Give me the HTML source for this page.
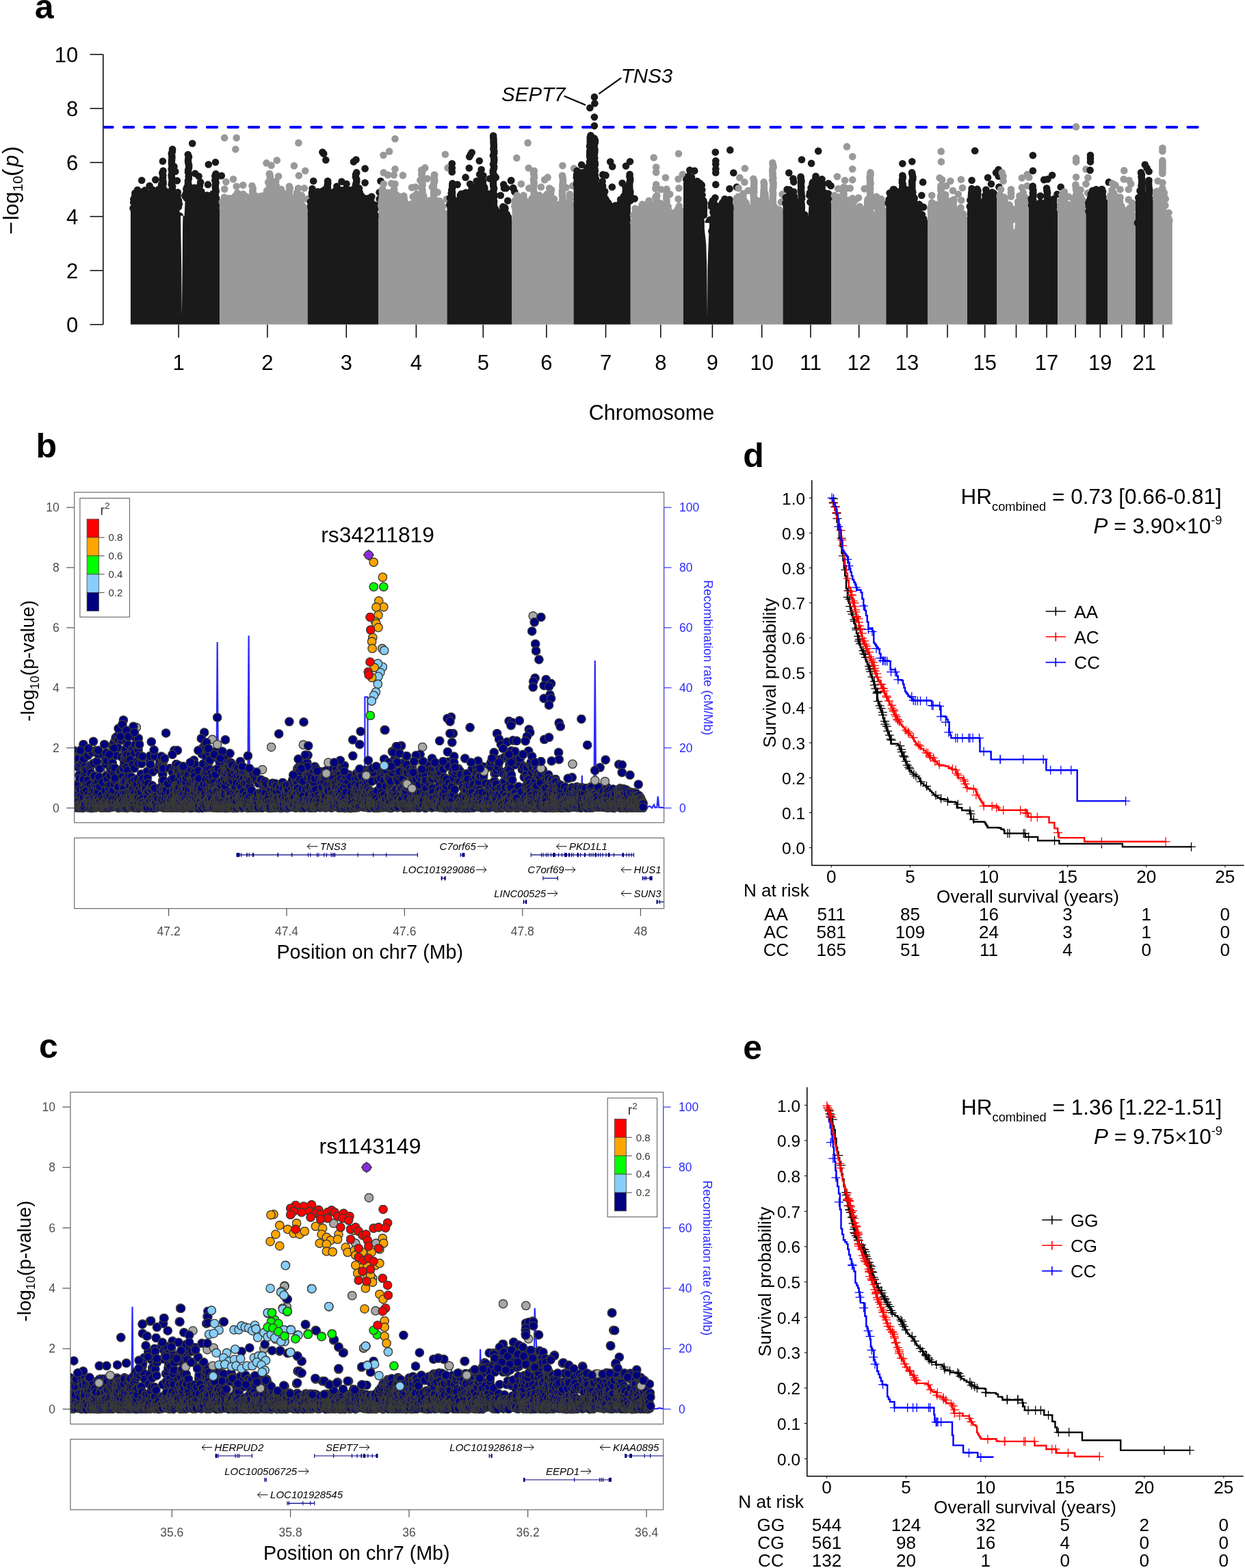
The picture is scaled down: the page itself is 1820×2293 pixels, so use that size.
<!DOCTYPE html>
<html lang="en"><head><meta charset="utf-8"><title>Figure: GWAS Manhattan plot, regional association plots and survival curves</title>
<style>html,body{margin:0;padding:0;background:#fff}svg{display:block}text{font-family:"Liberation Sans",sans-serif}</style></head><body>
<svg width="1820" height="2293" viewBox="0 0 1820 2293">
<rect width="1820" height="2293" fill="#fff"/>
<defs>
<marker id="md" markerUnits="userSpaceOnUse" markerWidth="12" markerHeight="12" refX="6" refY="6"><circle cx="6" cy="6" r="5.3" fill="#1a1a1a"/></marker>
<marker id="mg" markerUnits="userSpaceOnUse" markerWidth="12" markerHeight="12" refX="6" refY="6"><circle cx="6" cy="6" r="5.3" fill="#999999"/></marker>
<marker id="bnavy" markerUnits="userSpaceOnUse" markerWidth="14" markerHeight="14" refX="7" refY="7"><circle cx="7" cy="7" r="6.2" fill="#000080" stroke="#3a3a36" stroke-width="1.35"/></marker>
<marker id="blblue" markerUnits="userSpaceOnUse" markerWidth="14" markerHeight="14" refX="7" refY="7"><circle cx="7" cy="7" r="6.2" fill="#87cefa" stroke="#3a3a36" stroke-width="1.35"/></marker>
<marker id="bgreen" markerUnits="userSpaceOnUse" markerWidth="14" markerHeight="14" refX="7" refY="7"><circle cx="7" cy="7" r="6.2" fill="#00ff00" stroke="#3a3a36" stroke-width="1.35"/></marker>
<marker id="borange" markerUnits="userSpaceOnUse" markerWidth="14" markerHeight="14" refX="7" refY="7"><circle cx="7" cy="7" r="6.2" fill="#ffa500" stroke="#3a3a36" stroke-width="1.35"/></marker>
<marker id="bred" markerUnits="userSpaceOnUse" markerWidth="14" markerHeight="14" refX="7" refY="7"><circle cx="7" cy="7" r="6.2" fill="#ff0000" stroke="#3a3a36" stroke-width="1.35"/></marker>
<marker id="bgrey" markerUnits="userSpaceOnUse" markerWidth="14" markerHeight="14" refX="7" refY="7"><circle cx="7" cy="7" r="6.2" fill="#a8a8a8" stroke="#3a3a36" stroke-width="1.35"/></marker>
<marker id="cnavy" markerUnits="userSpaceOnUse" markerWidth="14" markerHeight="14" refX="7" refY="7"><circle cx="7" cy="7" r="6.2" fill="#000080" stroke="#3a3a36" stroke-width="1.35"/></marker>
<marker id="clblue" markerUnits="userSpaceOnUse" markerWidth="14" markerHeight="14" refX="7" refY="7"><circle cx="7" cy="7" r="6.2" fill="#87cefa" stroke="#3a3a36" stroke-width="1.35"/></marker>
<marker id="cgreen" markerUnits="userSpaceOnUse" markerWidth="14" markerHeight="14" refX="7" refY="7"><circle cx="7" cy="7" r="6.2" fill="#00ff00" stroke="#3a3a36" stroke-width="1.35"/></marker>
<marker id="corange" markerUnits="userSpaceOnUse" markerWidth="14" markerHeight="14" refX="7" refY="7"><circle cx="7" cy="7" r="6.2" fill="#ffa500" stroke="#3a3a36" stroke-width="1.35"/></marker>
<marker id="cred" markerUnits="userSpaceOnUse" markerWidth="14" markerHeight="14" refX="7" refY="7"><circle cx="7" cy="7" r="6.2" fill="#ff0000" stroke="#3a3a36" stroke-width="1.35"/></marker>
<marker id="cgrey" markerUnits="userSpaceOnUse" markerWidth="14" markerHeight="14" refX="7" refY="7"><circle cx="7" cy="7" r="6.2" fill="#a8a8a8" stroke="#3a3a36" stroke-width="1.35"/></marker>
<marker id="pbl" markerUnits="userSpaceOnUse" markerWidth="14" markerHeight="14" refX="7" refY="7"><path d="M0.5 7h13M7 0.5v13" stroke="#000" stroke-width="1.25" fill="none"/></marker>
<marker id="pre" markerUnits="userSpaceOnUse" markerWidth="14" markerHeight="14" refX="7" refY="7"><path d="M0.5 7h13M7 0.5v13" stroke="#ff0000" stroke-width="1.25" fill="none"/></marker>
<marker id="pbu" markerUnits="userSpaceOnUse" markerWidth="14" markerHeight="14" refX="7" refY="7"><path d="M0.5 7h13M7 0.5v13" stroke="#0000ff" stroke-width="1.25" fill="none"/></marker>
</defs>
<text x="50.8" y="27.4" font-size="50" font-weight="bold">a</text>
<text x="52.6" y="669.3" font-size="50" font-weight="bold">b</text>
<text x="56.9" y="1547.3" font-size="50" font-weight="bold">c</text>
<text x="1086.3" y="682.9" font-size="50" font-weight="bold">d</text>
<text x="1086.3" y="1548.8" font-size="50" font-weight="bold">e</text>
<g id="manhattan">
<g stroke="#000" stroke-width="1.5" fill="none">
<path d="M150.8 79.6V474.6"/>
<path d="M131.5 474.6H150.8"/>
<path d="M131.5 395.6H150.8"/>
<path d="M131.5 316.6H150.8"/>
<path d="M131.5 237.6H150.8"/>
<path d="M131.5 158.6H150.8"/>
<path d="M131.5 79.6H150.8"/>
<path d="M261.1 474.6V493.8"/>
<path d="M390.9 474.6V493.8"/>
<path d="M506.3 474.6V493.8"/>
<path d="M608.4 474.6V493.8"/>
<path d="M706.3 474.6V493.8"/>
<path d="M798.9 474.6V493.8"/>
<path d="M885.5 474.6V493.8"/>
<path d="M965.8 474.6V493.8"/>
<path d="M1041.4 474.6V493.8"/>
<path d="M1113.7 474.6V493.8"/>
<path d="M1185 474.6V493.8"/>
<path d="M1255.7 474.6V493.8"/>
<path d="M1325.9 474.6V493.8"/>
<path d="M1385 474.6V493.8"/>
<path d="M1439.7 474.6V493.8"/>
<path d="M1485.5 474.6V493.8"/>
<path d="M1530.1 474.6V493.8"/>
<path d="M1572.2 474.6V493.8"/>
<path d="M1608.3 474.6V493.8"/>
<path d="M1639.7 474.6V493.8"/>
<path d="M1672.7 474.6V493.8"/>
<path d="M1700.3 474.6V493.8"/>
</g>
<text x="114.3" y="486.2" font-size="31" text-anchor="end">0</text>
<text x="114.3" y="407.2" font-size="31" text-anchor="end">2</text>
<text x="114.3" y="328.2" font-size="31" text-anchor="end">4</text>
<text x="114.3" y="249.2" font-size="31" text-anchor="end">6</text>
<text x="114.3" y="170.2" font-size="31" text-anchor="end">8</text>
<text x="114.3" y="91.2" font-size="31" text-anchor="end">10</text>
<text x="261.1" y="540.7" font-size="31" text-anchor="middle">1</text>
<text x="390.9" y="540.7" font-size="31" text-anchor="middle">2</text>
<text x="506.3" y="540.7" font-size="31" text-anchor="middle">3</text>
<text x="608.4" y="540.7" font-size="31" text-anchor="middle">4</text>
<text x="706.3" y="540.7" font-size="31" text-anchor="middle">5</text>
<text x="798.9" y="540.7" font-size="31" text-anchor="middle">6</text>
<text x="885.5" y="540.7" font-size="31" text-anchor="middle">7</text>
<text x="965.8" y="540.7" font-size="31" text-anchor="middle">8</text>
<text x="1041.4" y="540.7" font-size="31" text-anchor="middle">9</text>
<text x="1113.7" y="540.7" font-size="31" text-anchor="middle">10</text>
<text x="1185" y="540.7" font-size="31" text-anchor="middle">11</text>
<text x="1255.7" y="540.7" font-size="31" text-anchor="middle">12</text>
<text x="1325.9" y="540.7" font-size="31" text-anchor="middle">13</text>
<text x="1439.7" y="540.7" font-size="31" text-anchor="middle">15</text>
<text x="1530.1" y="540.7" font-size="31" text-anchor="middle">17</text>
<text x="1608.3" y="540.7" font-size="31" text-anchor="middle">19</text>
<text x="1672.7" y="540.7" font-size="31" text-anchor="middle">21</text>
<text x="952.5" y="613.8" font-size="30.6" text-anchor="middle">Chromosome</text>
<g transform="translate(26.6 342.3) rotate(-90)"><text font-size="31"><tspan x="-1" font-size="32.5">−</tspan><tspan x="20.4">log</tspan><tspan x="62" dy="6.2" font-size="20.8">10</tspan><tspan x="84.3" dy="-6.2" font-size="34">(</tspan><tspan x="98.2" font-style="italic">p</tspan><tspan x="117.2" font-size="34">)</tspan></text></g>
<clipPath id="clm"><rect x="150.8" y="170" width="1700" height="40"/></clipPath><path d="M150.4 186.1H1754" stroke="#0000ff" stroke-width="4" stroke-dasharray="14.3 16.2" stroke-linecap="round" fill="none" clip-path="url(#clm)"/>
<polygon points="190.9,474.6 190.9,301.5 197.5,290.6 199.8,289.6 202.1,288.7 204.4,287.8 206.7,286.9 209,285.9 211.3,285 213.6,284.1 215.9,283.5 218.2,283.5 220.5,283.5 222.8,283.5 225.1,283 227.4,282.1 229.7,281.2 232,280.2 234.3,281.1 236.6,282.7 238.9,284.2 241.2,285.7 243.5,287.4 245.8,289.7 248.1,289.5 250.4,288 252.7,286.5 255,284.9 257.3,283.8 259.6,288.2 261.9,299.5 264.2,332.6 266.5,332.6 268.8,332.6 271.1,283.5 273.4,283.5 275.7,283.5 278,283.5 280.3,283.5 282.6,282.6 284.9,280.3 287.2,278 289.5,277.7 291.8,281.1 294.1,284.6 296.4,289 298.7,295.9 301,294 303.3,290.5 305.6,290.5 307.9,290.5 310.2,289.9 312.5,286.9 314.8,283.8 321.3,287.8 321.3,474.6" fill="#1a1a1a"/>
<polyline points="195.2,296.1 194.5,304.4 195.3,291.3 197.5,287.9 197.5,293.9 199.8,287 199,295.2 202.1,286.3 201.5,295.5 204.4,287.7 204.2,296.6 205.1,282 206.7,284.6 205.9,291.7 209,283.8 209.2,292.8 211.3,284.8 210.4,288.4 211.7,278.4 213.6,282.7 213.8,289.8 215.9,284.5 216.3,288 218.2,283.1 219,290.9 220.5,285.4 219.7,289 222.8,281.3 222.8,286.7 225.1,283.8 225.2,291.3 227.4,282.6 227.6,288.6 229.7,282.4 230.6,287 232,277.5 232.4,287.1 234.3,282.2 233.9,286.4 236.6,279.8 236.5,286.7 235.7,274.1 238.9,281.8 238.4,289.5 241.2,283.1 241.1,292 243.5,288.5 244.2,292.1 245.8,288.5 246.6,298.4 245.2,284.3 248.1,287.7 248.1,296.1 250.4,285 250.2,293.2 252.7,288.2 253.1,292.6 255,285.3 254.1,293.3 257.3,285.2 257.9,289.1 259.6,285.7 259.9,291.6 259,283.2 261.9,298.2 261,302.5 261.1,293.3 264.2,329.7 264.9,339.3 263.7,326.5 266.5,331.4 265.7,340.7 268.8,331.9 268.8,336.1 268.5,327 271.1,284.7 270.4,286.6 273.4,283.1 272.7,289.8 273.5,273.6 275.7,284.8 276.1,288.1 278,281.3 278.5,289.7 280.3,282.2 279.7,291.4 282.6,283.9 283.2,290.5 284.9,278.4 284.9,285.4 284,274.6 287.2,276.3 287.6,286.7 289.5,279.4 290.5,286.4 291.8,279.2 291.3,285.3 292,271.7 294.1,285.8 294.1,291.5 296.4,286.5 296.7,297.5 298.7,296.7 298.7,300 301,292.7 301.6,302.8 303.3,289.5 304.2,297.9 302.6,285.6 305.6,292 306.2,294.4 307.9,292.4 308.2,295.6 310.2,287.6 309.2,298.8 312.5,286.5 313.4,292.5 314.8,284.9 314.2,288.3 197.4,282.2 197.5,285.7 197.2,289.2 209.9,279.9 210,283.4 222.7,277.2 222.2,280.7 222.2,284.2 231.3,277.4 231,280.9 236,269.9 236.3,273.4 236.6,276.9 236.4,280.4 244.1,280.5 244.3,284 243.5,287.5 253.2,281.3 253.8,284.8 262.8,315.7 263,319.2 262.5,322.7 272.4,276.3 272.7,279.8 272.4,283.3 282.2,276.6 281.9,280.1 282.1,283.6 294.3,280 294.8,283.5 305.5,286.6 305.9,290.1 311,283.5 311.7,287 238.5,249.8 237.3,253 238.2,256.2 238.1,259.4 237.3,262.6 238.5,265.8 238.6,269 237.4,272.2 238.6,275.4 237.7,278.6 237.8,281.8 252.1,218.2 251.9,221.4 250.8,224.6 251.3,227.8 251.4,231 251.1,234.2 250.9,237.4 251.1,240.6 251.7,243.8 250.6,247 251.5,250.2 251.3,253.4 250.6,256.6 251.1,259.8 251.6,263 251.4,266.2 250.7,269.4 252.1,272.6 251.8,275.8 252.1,279 250.7,282.2 251,285.4 274.8,226.1 276,229.3 275.2,232.5 275,235.7 275.4,238.9 276.2,242.1 276.1,245.3 275.2,248.5 275,251.7 276.2,254.9 275.7,258.1 275.9,261.3 274.9,264.5 274.9,267.7 275.9,270.9 275.4,274.1 274.9,277.3 276.3,280.5 275.8,283.7 315.5,254.2 314.4,257.4 315.6,260.6 314.3,263.8 315.6,267 314.9,270.2 314.8,273.4 315.1,276.6 315.7,279.8 314.6,283 207.2,263.8 227.3,262.9 237.9,235.8 281.2,209.8 304.8,240.5 315,237.2 285.2,253.8 290.5,257.7 293.1,266.4 304,269.9 323.8,257.1 258.9,264.2 259.8,281.3 201,277.8 197.5,288.4 218.6,271.7 254.5,243.6 269.4,320.8 256.3,250.7" fill="none" stroke="none" marker-start="url(#md)" marker-mid="url(#md)" marker-end="url(#md)"/>
<polygon points="264,315.5 267.5,315.5 267.1,327.8 266.6,390.1 266.2,430 265.9,462 265.5,430 265.2,390.1 264.2,327.8" fill="#fff"/>
<polygon points="321.3,474.6 321.3,303.5 327.9,298.1 330.2,296.8 332.5,295.4 334.8,294 337.1,292.7 339.4,292.1 341.7,291.9 344,291.7 346.3,291.4 348.6,291.2 350.9,291 353.2,290.7 355.5,290.5 357.8,290.8 360.1,291 362.4,291.2 364.7,291.5 367,291.7 369.3,291.9 371.6,292.1 373.9,292.7 376.2,293.6 378.5,294.5 380.8,295.4 383.1,293.7 385.4,290.5 387.7,287.3 390,284.1 392.3,282 394.6,280.2 396.9,278.3 399.2,276.5 401.5,278.3 403.8,280.2 406.1,282 408.4,283.7 410.7,284.6 413,285.5 415.3,286.4 417.6,287.4 419.9,288.3 422.2,289.2 424.5,290.1 426.8,301 429.1,318 431.4,306.5 433.7,301.4 436,302.2 438.3,303 440.6,303.7 442.9,304.5 445.2,305.6 449.7,309.6 449.7,474.6" fill="#999999"/>
<polyline points="325.6,297.1 325.7,303.9 324.9,295.2 327.9,296.1 327.5,302.9 330.2,295.2 330.2,300.8 332.5,292.5 332,298.5 334.8,293.8 334.2,299.9 337.1,290.2 337.7,298.3 339.4,293.3 339.2,298.2 341.7,293.8 341.4,299.9 344,291.8 343.8,296.7 343.3,287.2 346.3,292.1 345.8,295.4 347,282.2 348.6,291.5 348.2,295.6 350.9,290.3 350.2,296.6 353.2,292.5 354.1,297 355.5,292.4 355.1,295.7 355.3,283.7 357.8,290.3 357.2,296.8 357.3,286.2 360.1,290 359.2,294.1 362.4,289.4 362.6,297.4 364.7,291.7 365.1,299.7 367,290.3 368,295.6 369.3,292.1 368.4,299.9 371.6,292.3 372.1,300 371.6,285.1 373.9,293.9 374.5,300.6 376.2,295.1 376.6,300.8 378.5,291.7 377.8,299.7 379.2,287.2 380.8,295.6 381.1,302.5 383.1,290.8 383.7,301.2 385.4,290.2 385.7,293.9 387.7,285.6 386.8,291.9 390,282.1 390.5,292.9 392.3,280.9 392.3,289.1 394.6,280.2 394.9,283.6 394.1,271.7 396.9,276.8 397,281.4 396.4,270.3 399.2,277 399.6,281.3 401.5,277.7 401.4,282.1 403.8,278.2 404.8,288.8 403.7,271.3 406.1,283.9 406,286.6 407,276.8 408.4,283.6 407.7,289.8 410.7,282.3 411.3,290.7 413,286 412.5,293.9 415.3,283.6 414.3,292.4 417.6,285.9 416.9,292.4 419.9,289.5 418.9,295.8 422.2,286.8 423.1,296.5 424.5,288.6 424.2,295.5 426.8,301 426.5,306.6 429.1,315.3 428.3,326 431.4,308.2 430.9,311.1 433.7,299.4 433.4,310.2 436,303.3 436.3,310.7 438.3,302.7 438.7,306.3 440.6,303 441.1,310.6 442.9,301.8 443.8,308.3 445.2,304.4 444.8,313.1 327.9,288.5 328.2,292 328,295.5 334.1,290.2 335,293.7 344,287.2 344.1,290.7 351.7,286.9 351.6,290.4 359.5,287.4 359.5,290.9 369.7,275.8 369.3,279.3 369.3,282.8 369.4,286.3 369.2,289.8 376.8,290.6 377.6,294.1 383.2,286.6 383.5,290.1 382.7,293.6 390.1,279 390.2,282.5 403.3,265.1 402.3,268.6 402.3,272.1 403.1,275.6 403.4,279.1 411.1,276.7 411.5,280.2 412.2,283.7 423.8,275 423,278.5 422.8,282 422.9,285.5 423.3,289 434,281.4 433.9,284.9 434,288.4 433.7,291.9 433.8,295.4 433.2,298.9 434.1,302.4 440.8,285.6 440.4,289.1 440.1,292.6 440.3,296.1 440.8,299.6 440.8,303.1 394.1,254.2 394.8,257.4 394.9,260.6 394.6,263.8 394.4,267 395,270.2 394,273.4 394.5,276.6 394.7,279.8 328.2,201.6 345.7,201.6 344.3,218.2 436.4,208.9 404.8,234.5 389.5,238.4 396.6,241.9 429.9,242.4 446.2,249.8 393.9,254.2 407.1,257.7 436.9,256.8 341,262.1 330.4,266.1 328.2,276.6 345.7,272.6 355.3,270.8 368.5,271.7 392.2,266.4 422.9,272.6 436,275.2 444.8,275.2 449.2,291 436,291" fill="none" stroke="none" marker-start="url(#mg)" marker-mid="url(#mg)" marker-end="url(#mg)"/>
<polygon points="449.7,474.6 449.7,297.3 456.3,287.6 458.6,287 460.9,287.7 463.2,289.3 465.5,292.1 467.8,298.4 470.1,295.4 472.4,285.7 474.7,277.1 477,288 479.3,290.9 481.6,291.3 483.9,291.8 486.2,292.3 488.5,290.1 490.8,287.8 493.1,285.5 495.4,283.5 497.7,283.5 500,283.5 502.3,283.5 504.6,283.8 506.9,284.7 509.2,285.7 511.5,286.6 513.8,286.7 516.1,286.1 518.4,285.6 520.7,285 523,284.4 525.3,283.8 527.6,285.4 529.9,290 532.2,294.6 534.5,297.7 536.8,298.2 539.1,298.6 541.4,299.1 543.7,301.1 546,304.3 548.3,307.5 553.5,311.5 553.5,474.6" fill="#1a1a1a"/>
<polyline points="454,295.1 454.3,301.6 456.3,285.7 455.8,296.3 458.6,285.6 457.6,293 460.9,286.8 460.4,294.7 463.2,287.4 462.3,294.3 465.5,292.5 464.9,299.8 467.8,297.9 467.2,307.2 470.1,296.5 469.6,299.7 472.4,284.2 473.3,291.7 471.8,279.2 474.7,277.4 475.6,280.9 477,286 477.9,291.8 476.1,281.6 479.3,292.4 480.1,298.3 481.6,293 481.3,295.4 483.9,292.5 483,298.8 486.2,291.1 485.9,296.3 485.8,286.1 488.5,291.9 487.7,298.9 488.2,281.1 490.8,288.9 490.7,291.1 493.1,284.3 493.9,289.6 495.4,285 494.5,289 497.7,284.3 496.8,286.7 498.5,278 500,284.2 500.8,288.5 502.3,285.3 502.5,288.1 504.6,282.4 504.2,286.8 506.9,286.3 507.2,293.4 506.4,277.9 509.2,287.4 510.1,291 511.5,285.7 511.5,295.1 512.1,278.1 513.8,287.8 514.3,293.4 516.1,284.7 515.8,293.8 515.5,277.6 518.4,283.8 517.5,288.8 520.7,283.6 521.7,293.3 523,282.7 522.2,288 525.3,284.4 525.2,288.2 527.6,285.5 527.9,292.9 529.9,290.4 529.1,298.1 532.2,294.5 531.9,302.1 531.7,289.2 534.5,295.5 535.3,304.2 536.8,297.1 537.8,304.2 539.1,299.7 539.4,307.6 539,289.7 541.4,300.3 542.2,302.3 543.7,298.7 543.1,309.9 546,306 545.7,312.5 548.3,305.8 548.9,316.2 548.5,299.8 455.9,281.8 456,285.3 463.5,280.9 463,284.4 462.8,287.9 470.6,282 470.7,285.5 470.6,289 471.3,292.5 479.9,287.7 480.2,291.2 489.3,279.7 489.3,283.2 490,286.7 497.8,278.5 498.6,282 505.4,276.2 505.4,279.7 506,283.2 518.1,279.8 518.8,283.3 525.6,280.8 525,284.3 537.2,292 536.6,295.5 536.3,299 542,291.4 542.3,294.9 541.3,298.4 479.1,264.7 479.3,267.9 478.7,271.1 478.9,274.3 479.3,277.5 480,280.7 478.7,283.9 479.3,287.1 479.8,290.3 521.2,252.4 520,255.6 519.9,258.8 521.2,262 521.3,265.2 520.5,268.4 519.8,271.6 521.2,274.8 520.3,278 521.1,281.2 520.7,284.4 456.5,276.1 464.9,280.5 471.4,222.6 473.2,224.7 476.3,234 520.5,233.5 517,236.6 533.6,246.6 499.5,265.6 506.5,269.1 492.4,272.6 533.6,267.3 556.4,264.7 554.7,281.3 543.3,287.5 465.3,280.5 524.9,275.2 477.5,292.7 545.9,299.8 554.7,291 458.2,264.7" fill="none" stroke="none" marker-start="url(#md)" marker-mid="url(#md)" marker-end="url(#md)"/>
<polygon points="553.5,474.6 553.5,297.3 560.1,290.5 562.4,290.5 564.7,290.5 567,289.1 569.3,287.2 571.6,285.4 573.9,283.6 576.2,287.5 578.5,291.7 580.8,295.8 583.1,299.4 585.4,300.3 587.7,301.1 590,302 592.3,302.9 594.6,303.7 596.9,304.5 599.2,303.9 601.5,303.2 603.8,302.5 606.1,301.9 608.4,301.2 610.7,301 613,301 615.3,301 617.6,301 619.9,301 622.2,301 624.5,301 626.8,301 629.1,301 631.4,301 633.7,301 636,301 638.3,301 640.6,301 642.9,301.4 645.2,302.9 647.5,304.5 653.5,308.5 653.5,474.6" fill="#999999"/>
<polyline points="557.8,294.4 557.1,301 560.1,289.5 560.8,298.5 559.5,284.1 562.4,290.1 562.2,294.3 564.7,291.1 565.5,293.8 567,289.9 566.1,297.1 567.2,281.8 569.3,287.4 568.9,292.8 571.6,284.5 571.9,291.1 573.9,280.7 574.1,289.5 576.2,288.3 576.8,293.3 576.1,282.9 578.5,289.3 578.4,295.2 580.8,295.3 579.9,302.6 581.3,287.1 583.1,299 582.2,305.4 585.4,302 584.7,308.4 587.7,301.8 588.3,305.3 590,301.5 590.9,310.5 590.6,292.4 592.3,300.2 592,310.4 593.1,297.2 594.6,304.8 593.9,309.7 596.9,302.6 596.4,310.5 599.2,301 598.6,307.8 601.5,303.6 602.3,307.2 603.8,300.1 603.9,309.4 606.1,303.2 606.2,308.4 608.4,298.7 609.4,308 610.7,302 610.2,310 613,299.8 613.5,306.7 613.5,296.8 615.3,302.1 614.8,307.9 617.6,301 617.9,305.9 616.7,296.1 619.9,301.1 619.8,307.1 622.2,298.7 621.7,308 621.2,294.9 624.5,298.6 624.2,305.4 626.8,301 626.2,307.8 629.1,298.7 630,305.5 628.3,293.2 631.4,302.4 632,306.5 633.7,298.1 634,307.4 636,301.3 635.9,309.7 638.3,299.3 639.1,304.3 640.6,300.1 640.1,304.4 642.9,298.5 643,310 642.3,293.8 645.2,302.5 645.5,310.8 644.8,297.1 647.5,301.7 648.3,312.2 559.1,276.4 558.8,279.9 559.1,283.4 558.8,286.9 558.5,290.4 564.1,285.9 564.5,289.4 576.1,276.4 575.9,279.9 575.4,283.4 575.7,286.9 584.2,287.5 583.9,291 584.3,294.5 584.7,298 590.3,286.6 590.6,290.1 590.6,293.6 591.2,297.1 591.4,300.6 602.3,297.7 601.7,301.2 608.9,283.8 609,287.3 609,290.8 609.4,294.3 608.7,297.8 609.2,301.3 619.3,286.4 619.6,289.9 619.4,293.4 619.1,296.9 619,300.4 629.8,297.6 628.9,301.1 635.1,297.4 634.4,300.9 640.1,297.9 640.9,301.4 617.3,248.9 617.3,252.1 616.2,255.3 617.1,258.5 616.7,261.7 617.4,264.9 617.4,268.1 617.6,271.3 616.2,274.5 617.5,277.7 617.6,280.9 617.6,284.1 616.3,287.3 616.5,290.5 616.3,293.7 616.2,296.9 617.5,300.1 635,255.9 634.7,259.1 635,262.3 634.7,265.5 634.1,268.7 633.8,271.9 633.8,275.1 634.9,278.3 634,281.5 634.2,284.7 634.3,287.9 633.7,291.1 634.1,294.3 634.1,297.5 634.8,300.7 577.5,203 569.1,221.4 560.5,227 650.8,225.8 577.5,247.2 560.8,252.4 567,255.9 575.7,255.9 588.9,256.4 621.3,245.4 616.1,248.9 635,255.9 624.8,261.2 614.3,263.8 635.3,264.7 560.8,269.1 572.2,268.2 577.5,269.1 602,274.3 607.3,273.5 631.8,273.5 639.7,281.3 560.8,280.5 579.2,284.9 603.8,287.5 589.8,292.7 652.9,291 559.9,296.2 654.6,245.4" fill="none" stroke="none" marker-start="url(#mg)" marker-mid="url(#mg)" marker-end="url(#mg)"/>
<polygon points="653.5,474.6 653.5,294.6 660.1,293.3 662.4,295.9 664.7,298.5 667,300.9 669.3,297.5 671.6,294 673.9,290.6 676.2,289 678.5,287.5 680.8,285.9 683.1,284.4 685.4,282.9 687.7,281.3 690,279.8 692.3,278.3 694.6,276.7 696.9,275.2 699.2,273.7 701.5,272.1 703.8,270.6 706.1,271.3 708.4,278.2 710.7,285.1 713,291.2 715.3,294.5 717.6,297.7 719.9,301 722.2,304.2 724.5,307.5 726.8,310.7 729.1,312.5 731.4,313.8 733.7,314.6 736,308.4 738.3,302.2 740.6,318.5 742.9,316.2 748.5,320.2 748.5,474.6" fill="#1a1a1a"/>
<polyline points="657.8,289.5 657.4,299.4 660.1,294.5 660.3,296.4 662.4,295.1 662.9,301 664.7,298.2 664.1,306.7 665.3,293.5 667,297.9 666.4,308.5 669.3,294.5 669.3,303.4 671.6,291.9 671.6,299.1 673.9,288.9 674.8,295.3 674.3,283.6 676.2,286.6 676.5,292.5 678.5,288 679.1,294.2 680.8,284.9 680.6,294.3 681.6,281.8 683.1,282.4 682.6,292.8 685.4,281.8 686.2,287.3 687.7,281 688.2,288.9 690,278.5 689.7,283.7 692.3,278.6 692.8,282.3 694.6,277.6 694.8,280.5 696.9,276.6 696.4,279.4 699.2,274.2 699.9,277.6 698.7,267.7 701.5,271.7 700.8,277.1 702.5,263.8 703.8,268.1 704.7,274.2 706.1,273.2 706.7,278.7 708.4,276.2 708.7,281.9 708.2,274 710.7,284.1 711.3,292.3 713,291.4 712.9,295.1 715.3,293.5 715.8,302.9 717.6,297.6 718.1,303.3 719.9,301.6 720.7,308.6 722.2,305.5 722.6,311.1 724.5,306 724.8,311.1 726.8,311.6 727.2,317.5 729.1,311.7 729,319.3 731.4,314.2 732.3,317.9 733.7,315.5 733.5,320.6 736,305.6 736.1,312.4 738.3,303.9 738.3,305.8 740.6,318.2 741,324.6 742.9,317.4 742.9,321.7 659.9,283.3 660.4,286.8 659.6,290.3 660.6,293.8 667.6,296.2 667.8,299.7 672.9,285.6 673.2,289.1 672.8,292.6 680.4,281.9 680.7,285.4 689.7,275.8 689.2,279.3 696.4,271.9 696.4,275.4 706.2,264.6 705.8,268.1 706.7,271.6 714.3,283.5 714.3,287 713.9,290.5 720.8,295.2 721.7,298.7 721.1,302.2 733,310 732.8,313.5 740.9,313.4 741.8,316.9 721.2,198.6 721.3,201.8 721.6,205 721.5,208.2 721.8,211.4 721.9,214.6 721.4,217.8 722.3,221 722.2,224.2 720.9,227.4 722.1,230.6 722.3,233.8 722.1,237 721,240.2 722.1,243.4 721.8,246.6 720.8,249.8 720.8,253 722.3,256.2 721.9,259.4 721.2,262.6 721,265.8 721,269 721.2,272.2 722.1,275.4 721.4,278.6 721.1,281.8 722.3,285 722.1,288.2 721.1,291.4 722.2,294.6 721.8,297.8 722.1,301 721.9,304.2 661.4,268.2 661.2,271.4 661.3,274.6 660.3,277.8 661.1,281 660.8,284.2 661.2,287.4 660.7,290.6 661.4,293.8 660.8,239.3 660.8,245.4 660.8,251.5 689.7,223.1 688,226.1 686.2,229.3 700.8,235.2 685.8,245.7 680.6,259.4 703.7,248 701.1,255 706.4,256.8 668.7,269.9 687.1,269.1 696.7,264.7 716,261.2 724.8,259.4 747.2,263.8 736.2,269.9 750.2,275.2 737,275.2 731.8,285.7 719.5,285.7 742.3,293.6 735.3,302.4 659.9,282.2 747,264.2 750.2,274.9 740,275.2 752.3,280.5" fill="none" stroke="none" marker-start="url(#md)" marker-mid="url(#md)" marker-end="url(#md)"/>
<polygon points="748.5,474.6 748.5,301.5 755.1,297.5 757.4,297.5 759.7,297.5 762,297.5 764.3,297.5 766.6,297.5 768.9,297.5 771.2,297.5 773.5,297.5 775.8,297.8 778.1,298.5 780.4,299.3 782.7,300.1 785,300.8 787.3,299.9 789.6,298.4 791.9,296.8 794.2,295.3 796.5,294 798.8,294 801.1,294 803.4,294 805.7,294 808,298.1 810.3,305 812.6,311.9 814.9,315.1 817.2,315.1 819.5,315.1 821.8,315.1 824.1,315.1 826.4,315.1 828.7,308.9 831,295.1 833.3,293.1 838.5,297.1 838.5,474.6" fill="#999999"/>
<polyline points="752.8,297.3 752.3,301.9 752.8,293.2 755.1,296.9 754.4,303.5 757.4,297.2 758.1,300.6 759.7,296.9 759.8,304.5 762,296.4 761.8,306.3 762.3,289.7 764.3,294.7 764.5,304.6 766.6,296.2 767.6,303.6 768.9,299 768,304.8 771.2,296.2 771.9,302.7 773.5,297.2 774,301.8 775.8,296.9 775.9,305.7 778.1,299.7 777.9,304.6 780.4,298.8 781.3,306.2 782.7,298.7 782.3,304.9 785,301 785.6,304.1 787.3,301.3 787.4,303.2 789.6,295.4 789,306.9 791.9,297.1 792.5,305.3 794.2,295.4 794.5,302.5 796.5,294.4 795.9,301 798.8,294.8 798,298.1 799.3,284.5 801.1,294.3 800.8,302 803.4,293.8 802.9,298.8 805.7,292.6 805.6,300.9 808,295.4 808.1,301.4 808.6,290.7 810.3,306.6 810.2,308.1 812.6,311.9 813.5,320.8 814.9,314.1 814.1,321.9 814.2,311 817.2,312.1 817.6,318.8 819.5,312.5 820.2,318.8 819.9,309.6 821.8,315.7 821.2,318.4 824.1,315.6 824.8,322.4 824.4,306.8 826.4,314.4 827.3,319.6 828.7,309.5 827.7,312 831,296.2 830.2,300 833.3,290.9 834,299 833,285.6 756,287.8 756.8,291.3 756.3,294.8 756.6,298.3 766.3,291.3 766.8,294.8 767,298.3 777.5,290.4 777.2,293.9 778.3,297.4 788.2,285.6 788.5,289.1 788.9,292.6 788.8,296.1 788.5,299.6 796.3,287.9 795.7,291.4 796.1,294.9 806,277.4 805.4,280.9 805.1,284.4 805.4,287.9 805.6,291.4 805.8,294.9 816.6,299 817.6,302.5 817.6,306 817.6,309.5 817.3,313 824.7,300.6 824.6,304.1 824.9,307.6 824.2,311.1 823.9,314.6 780.8,249.8 779.9,253 780.7,256.2 781,259.4 779.9,262.6 780.5,265.8 780.6,269 780.3,272.2 779.9,275.4 779.9,278.6 780.7,281.8 780.8,285 780.3,288.2 779.7,291.4 780.8,294.6 780.8,297.8 822,256.8 822.5,260 823,263.2 823,266.4 822.4,269.6 822.4,272.8 822.6,276 821.9,279.2 821.9,282.4 821.9,285.6 822.7,288.8 822.2,292 822.5,295.2 822.3,298.4 822.4,301.6 821.9,304.8 821.7,308 823.2,311.2 822.2,314.4 771.6,208.9 755.3,231 772.8,245.7 822.4,242.2 839.1,246.3 800.5,259.4 796.1,262.9 761.9,269.1 773.3,275.2 790.9,273.5 803.1,275.2 827.7,274.3 837.3,271.7 799.6,284 810.1,291 755.8,285.7 765.4,285.7 790.9,294.5 832.9,284" fill="none" stroke="none" marker-start="url(#mg)" marker-mid="url(#mg)" marker-end="url(#mg)"/>
<polygon points="838.5,474.6 838.5,265.9 845.1,260.8 847.4,259.6 849.7,258.5 852,257.3 854.3,256.2 856.6,256.4 858.9,258.9 861.2,261.4 863.5,263.9 865.8,266.4 868.1,268.9 870.4,271.5 872.7,274 875,276.5 877.3,278 879.6,279.5 881.9,281.1 884.2,282.6 886.5,294.1 888.8,304.1 891.1,306 893.4,307.9 895.7,309.8 898,311.5 900.3,310.3 902.6,309.2 904.9,306.6 907.2,290.2 909.5,289.8 911.8,289.4 914.1,289 916.4,289.6 921.8,293.6 921.8,474.6" fill="#1a1a1a"/>
<polyline points="842.8,259.4 843.1,269.6 843,255.8 845.1,260.4 844.1,264 847.4,260.9 847.4,266 849.7,259.4 849.6,267.1 852,258.4 852.9,261.8 851.4,252.2 854.3,253.6 853.4,262.5 856.6,255.7 857.5,264.9 856.8,250 858.9,256.5 859.8,263.5 861.2,261.6 862.1,268.4 863.5,263.2 862.8,272.7 865.8,264.5 864.9,271 868.1,270.5 868.9,277 868.7,260.7 870.4,271.7 871.4,274.8 870.9,261.8 872.7,274.4 872.3,280.5 875,274 874.6,281 875,271.5 877.3,276.2 876.6,285.1 877.7,272.8 879.6,276.7 880.5,283.9 881.9,282.4 882.7,284.9 884.2,280.1 885.1,290.7 886.5,293.4 886.2,302 888.8,304.2 888.1,308.4 889.2,296.7 891.1,303.7 891.8,310.6 893.4,305.7 892.9,315.9 895.7,307.6 895.7,314.7 898,309 899,314.8 900.3,310.7 899.7,316.2 902.6,307.5 902,314.4 904.9,308.6 905.8,310.2 907.2,291.7 906.3,297.6 909.5,291.7 908.5,297.7 911.8,287.1 910.8,297.4 914.1,286.9 914,297.5 914.2,284.2 916.4,287.5 916.9,296.9 915.6,285.1 847.2,252.5 847.1,256 847.6,259.5 858.2,245 857.8,248.5 857.6,252 858.4,255.5 858,259 869.3,266.5 868.7,270 880.6,265.2 880,268.7 881.1,272.2 880.6,275.7 881.1,279.2 888.1,298.9 887.6,302.4 894.2,302.7 893.5,306.2 903.2,302.3 902.8,305.8 903.5,309.3 914.5,273.8 915,277.3 914.6,280.8 915.1,284.3 914.2,287.8 863.5,198.1 862.7,201.3 862.8,204.5 862.8,207.7 862.8,210.9 862,214.1 863.5,217.3 862.3,220.5 862.2,223.7 862.1,226.9 862.3,230.1 863.2,233.3 862,236.5 862.1,239.7 863.1,242.9 862.3,246.1 862,249.3 862.9,252.5 862.9,255.7 862.8,258.9 863.1,262.1 868.8,202.4 870,205.6 869.8,208.8 868.7,212 868.8,215.2 869.4,218.4 869.4,221.6 869.1,224.8 868.8,228 869.3,231.2 868.8,234.4 869.6,237.6 870,240.8 868.8,244 869.5,247.2 869.8,250.4 868.9,253.6 869.9,256.8 870.1,260 869.2,263.2 869.3,266.4 869.9,269.6 920.6,255 920.4,258.2 921.3,261.4 921,264.6 920.3,267.8 920.2,271 920.3,274.2 920.5,277.4 921.4,280.6 921.1,283.8 921.3,287 921.1,290.2 921.2,293.4 850.1,241 843.5,249.8 843.5,266.1 849.6,257.7 892.2,236.6 895.2,243.6 921,236.3 915,242.8 881.2,255.4 885.5,256.4 909.6,267.8 894.8,273.5 880.8,271.7 927.6,290.6 899.6,300.6 890.8,299.8 868.9,141.9 869.4,151.2 862.4,157.8 868.9,171.3 868.9,184.1" fill="none" stroke="none" marker-start="url(#md)" marker-mid="url(#md)" marker-end="url(#md)"/>
<polygon points="921.8,474.6 921.8,321.3 928.4,313.3 930.7,311.2 933,310.5 935.3,309.9 937.6,309.2 939.9,308.6 942.2,307.8 944.5,306.6 946.8,305.5 949.1,304.3 951.4,303.2 953.7,302 956,300.9 958.3,299.7 960.6,300.7 962.9,303 965.2,305.3 967.5,307.6 969.8,306.2 972.1,303.9 974.4,301.6 976.7,304.5 979,309.1 981.3,313.7 983.6,317.5 985.9,319.2 988.2,312.9 990.5,306.5 992.8,300.7 999,304.7 999,474.6" fill="#999999"/>
<polyline points="926.1,314.6 926.1,326 928.4,311.5 928.2,320.1 930.7,310.8 929.8,316.8 933,307.6 932.3,319.3 935.3,311.6 935.6,317.7 937.6,310.6 936.7,316.1 939.9,308.9 939.4,314.8 942.2,307.9 941.7,313.9 944.5,308.4 944.1,311.5 946.8,303.1 947,314.2 949.1,302.7 949,310.5 948.3,299.5 951.4,301.6 951.2,307.9 953.7,299.5 953.8,310.1 956,300.7 956.3,305.1 958.3,299 958.4,306.4 960.6,299.3 960.1,305 962.9,301.9 963.1,306.1 965.2,306.6 964.7,311.6 967.5,306 968.5,312.4 969.8,304 968.9,314.4 972.1,301.2 971.9,309.5 974.4,299.2 973.9,310.4 976.7,302.3 976.4,309.6 979,309.2 979.7,317 981.3,314.4 981.8,321.3 983.6,318.4 984,326 984.3,313.5 985.9,320 986.1,325.2 988.2,312.7 988,320.6 990.5,306.6 990.3,312.3 992.8,301.4 992.4,306.1 929.8,306.2 929.8,309.7 938,302.5 938.2,306 938,309.5 947.5,296.6 948.5,300.1 947.8,303.6 960.3,285.9 959.4,289.4 959.7,292.9 960.2,296.4 959.2,299.9 965.1,297.2 965.6,300.7 965.5,304.2 974.5,276.6 974.5,280.1 974.7,283.6 974.3,287.1 974.3,290.6 974.6,294.1 974.3,297.6 975,301.1 984.4,311.9 984.7,315.4 984.7,318.9 955.7,230.5 992,224.7 959.2,244.5 959.2,252.1 972.9,259.8 997.8,255 991.6,261.7 959.2,269.9 966.2,277 992.5,275.2 958.3,275.7 979.3,284 958.3,288.4 948.7,293.6 939,298.9 928.5,305 966.2,298.9 991.6,291" fill="none" stroke="none" marker-start="url(#mg)" marker-mid="url(#mg)" marker-end="url(#mg)"/>
<polygon points="999,474.6 999,266.7 1005.6,264.2 1007.9,265.7 1010.2,267.3 1012.5,268.8 1014.8,270.4 1017.1,272.1 1019.4,273.9 1021.7,275.6 1024,277.3 1026.3,279 1028.6,309.5 1030.9,341.4 1033.2,341.4 1035.5,341.4 1037.8,324.1 1040.1,298.6 1042.4,301.7 1044.7,304.8 1047,307.8 1049.3,310.9 1051.6,308 1053.9,303.4 1056.2,301 1058.5,301 1060.8,301 1063.1,301 1065.4,301 1067.7,301 1072.6,305 1072.6,474.6" fill="#1a1a1a"/>
<polyline points="1003.3,262.5 1004.1,271.4 1005.6,263.4 1005.8,273.2 1007.9,265.4 1008.5,269.7 1010.2,269.1 1010.9,273.3 1011,259.1 1012.5,269.9 1013.5,277.1 1014.8,268.2 1014.4,276.5 1017.1,270.1 1016.5,278.9 1019.4,272.6 1020.4,280.7 1019.2,265.1 1021.7,274.1 1022.1,278.6 1024,278.5 1024.2,284.3 1024,270 1026.3,277.4 1026.6,285.2 1028.6,309.4 1028.4,313.2 1029.1,304.9 1030.9,338.9 1030.2,347.5 1033.2,341.4 1033.8,344.7 1033.7,335.4 1035.5,341.9 1035.2,345.4 1037.8,321.6 1038.6,330.6 1040.1,297.9 1039.9,301.9 1042.4,301.6 1043.3,307.3 1044.7,303 1043.8,313.3 1047,306.4 1047.8,315.7 1049.3,310.9 1050.2,316.9 1051.6,306.2 1051.4,315.3 1053.9,301.9 1054.7,309.3 1056.2,299.3 1055.5,306.2 1057.1,295.3 1058.5,300.9 1057.7,307.2 1060.8,300.1 1059.9,304.8 1063.1,299.8 1062.6,305.2 1065.4,299.2 1064.5,308 1067.7,298.8 1068.1,304.6 1009.2,262.8 1009.7,266.3 1020.6,270.8 1021,274.3 1028.4,293.5 1029.3,297 1028.8,300.5 1028.4,304 1028.7,307.5 1028.3,311 1029,314.5 1036,324.6 1035.7,328.1 1035.5,331.6 1036,335.1 1035.5,338.6 1036.3,342.1 1041.9,293.6 1041.6,297.1 1042.2,300.6 1050,301.9 1049.7,305.4 1049.8,308.9 1056,296.9 1055.4,300.4 1066,297.4 1065.7,300.9 1008.3,248.9 1015.3,249.8 1006.5,257.7 1020.6,266.4 1025.8,270.8 1023.5,268.2 1045.8,222.6 1046.3,235.2 1046.3,240.1 1046.3,247.2 1046.3,252.4 1046.3,269.9 1067.3,219.4 1072.3,252.8 1066.5,276.1 1077,273.5 1045.4,289.2 1059.5,291 1066.5,291.9 1056.8,300.6" fill="none" stroke="none" marker-start="url(#md)" marker-mid="url(#md)" marker-end="url(#md)"/>
<polygon points="1029.8,326.1 1037.2,326.1 1036.1,345.3 1034.4,390.1 1034,466 1033.2,390.1 1032.3,357.6 1029.8,334.8" fill="#fff"/>
<polyline points="1023.9,282.2 1024.2,296.2 1024.2,310.3 1024.6,324.3 1043.5,296.2 1042.4,310.3 1041.4,324.3 1040.3,338.3" fill="none" stroke="none" marker-start="url(#md)" marker-mid="url(#md)" marker-end="url(#md)"/>
<polygon points="1072.6,474.6 1072.6,295.2 1079.2,291.7 1081.5,292.2 1083.8,292.7 1086.1,293.2 1088.4,293.7 1090.7,296.8 1093,308.3 1095.3,310.7 1097.6,309.6 1099.9,308.4 1102.2,307.3 1104.5,306.1 1106.8,305 1109.1,304.2 1111.4,303.7 1113.7,303.2 1116,302.7 1118.3,302.2 1120.6,301.7 1122.9,301.2 1125.2,302.3 1127.5,303.9 1129.8,305.6 1132.1,307.2 1134.4,308.9 1136.7,308.6 1139,305.7 1144.5,309.7 1144.5,474.6" fill="#999999"/>
<polyline points="1076.9,289.7 1076,296.1 1079.2,289.4 1079.6,296.4 1081.5,293.8 1082,300.5 1083.8,290.4 1083.4,295.9 1086.1,293.5 1085.8,298.7 1088.4,294.2 1087.9,301.7 1090.7,297 1090.1,300.5 1093,309 1093.4,311.6 1092.3,303.1 1095.3,309.3 1095.1,314 1097.6,309.8 1097,317.6 1099.9,309 1099.4,314 1102.2,306 1101.2,315.3 1104.5,304.6 1103.6,314.3 1106.8,302.2 1106.3,308.7 1109.1,302.3 1109.9,311.7 1109.5,297.9 1111.4,304.5 1112.1,308.4 1112.3,297.2 1113.7,304.9 1114.1,310.6 1116,302.8 1115.9,306 1118.3,301.3 1118.3,310.8 1118.8,297.9 1120.6,302.2 1121.2,306.2 1122.9,303 1123.2,307.4 1125.2,299.6 1124.9,307.8 1124.8,297.5 1127.5,304.5 1127.8,308.4 1129.8,305.2 1129.7,314.2 1132.1,305.7 1132.9,311.1 1134.4,307.5 1135,315.2 1136.7,306.4 1137,315.2 1139,306.6 1139.7,309.4 1079.5,287.5 1079.8,291 1086.6,283 1086.2,286.5 1086.4,290 1086.6,293.5 1094,307 1094,310.5 1107,293.3 1107.7,296.8 1108.1,300.3 1107.6,303.8 1113.3,296.3 1113,299.8 1113.4,303.3 1118.6,284 1118.6,287.5 1118.9,291 1118.6,294.5 1118.1,298 1118.1,301.5 1124.9,298.6 1124.9,302.1 1132.1,302.8 1132.3,306.3 1101.4,261.5 1102.3,264.7 1102.4,267.9 1102.3,271.1 1101.6,274.3 1101.4,277.5 1102.4,280.7 1101.6,283.9 1101.7,287.1 1102,290.3 1101.7,293.5 1102.4,296.7 1101.5,299.9 1101.2,303.1 1102,306.3 1116.6,266.4 1117,269.6 1116.8,272.8 1117.1,276 1117.2,279.2 1116.4,282.4 1116.4,285.6 1115.9,288.8 1116.1,292 1116.6,295.2 1115.8,298.4 1116.7,301.6 1129.4,238 1129.9,241.2 1130.7,244.4 1129.3,247.6 1129.2,250.8 1129.8,254 1129.4,257.2 1130.3,260.4 1129.1,263.6 1130.5,266.8 1130.5,270 1130.4,273.2 1129.8,276.4 1129.6,279.6 1130.2,282.8 1130,286 1129.8,289.2 1129.7,292.4 1129.8,295.6 1130.2,298.8 1130.5,302 1130.6,305.2 1088.9,246.3 1081.4,259.8 1088.4,266.4 1079.6,275.2 1093.6,278.7 1102.4,275.2 1116.4,278.7 1102.4,289.2 1143.6,284 1141.9,295.4" fill="none" stroke="none" marker-start="url(#mg)" marker-mid="url(#mg)" marker-end="url(#mg)"/>
<polygon points="1144.5,474.6 1144.5,295.2 1151.1,294.1 1153.4,296.9 1155.7,299.7 1158,301 1160.3,301 1162.6,301 1164.9,302.9 1167.2,306.6 1169.5,310.3 1171.8,314.1 1174.1,317.8 1176.4,321.5 1178.7,323.8 1181,323.8 1183.3,288.2 1185.6,276.5 1187.9,276.5 1190.2,276.5 1192.5,276.5 1194.8,276.5 1197.1,276.5 1199.4,276.5 1201.7,276.5 1204,283.1 1206.3,290.1 1208.6,287.8 1210.9,285.5 1215.5,289.5 1215.5,474.6" fill="#1a1a1a"/>
<polyline points="1148.8,289.1 1148.4,296.9 1151.1,292.8 1150.5,297.6 1153.4,296.2 1154.3,305.3 1155.7,301.6 1156.6,306.4 1158,298.3 1158.4,307.7 1160.3,300.9 1161.2,306.9 1162.6,299.5 1162.3,309.4 1162,293 1164.9,302.1 1164.1,309.8 1167.2,306.5 1167,312.8 1169.5,309.3 1168.7,314.4 1171.8,313.8 1171,322.2 1174.1,315.3 1174.2,322.3 1176.4,321.3 1175.9,328 1176.4,314 1178.7,321.2 1178.5,327.3 1181,325.2 1181.1,331.1 1183.3,285.7 1184.3,295.5 1184,281.8 1185.6,274.4 1186.5,282.9 1187.9,274.2 1188.5,279.8 1190.2,275.4 1189.2,283.1 1189.8,268.2 1192.5,275.6 1193.3,283.2 1194.8,276.3 1195.6,284.7 1195.3,270.4 1197.1,277.3 1197.5,284.4 1196.8,268.1 1199.4,278.2 1199.8,279.8 1201.7,274 1201.8,284.3 1202.6,268.4 1204,281.3 1203.4,288.7 1206.3,290 1205.5,293.2 1206.9,285 1208.6,287.6 1208.2,294.9 1210.9,283.2 1211.7,291.7 1154.1,277.6 1154.5,281.1 1154.2,284.6 1154.7,288.1 1155.1,291.6 1155,295.1 1154.1,298.6 1161.3,287.8 1161,291.3 1161.1,294.8 1160.7,298.3 1161.5,301.8 1169.4,294.6 1168.7,298.1 1169,301.6 1168.9,305.1 1169.7,308.6 1178.6,320.6 1178.8,324.1 1187.6,268.3 1187.5,271.8 1187.1,275.3 1196.8,271.1 1197.3,274.6 1170.6,258.5 1170.8,261.7 1171.6,264.9 1171,268.1 1171,271.3 1171.3,274.5 1170.9,277.7 1171.4,280.9 1171.4,284.1 1172.1,287.3 1172.1,290.5 1170.6,293.7 1171.4,296.9 1171.8,300.1 1171.9,303.3 1171.8,306.5 1171.5,309.7 1171.5,312.9 1192.5,257.7 1192.4,260.9 1193.2,264.1 1193.3,267.3 1193.4,270.5 1193,273.7 1192.4,276.9 1172,233.5 1186.1,238.9 1196.2,220.9 1153.3,252.8 1159.4,261.2 1160.3,266.1 1201.5,262.1 1188.3,266.4 1211.1,268.2 1214.6,271.7 1150.6,277 1160.3,280.5 1188.3,276.1 1150.6,290.1 1156.8,289.2 1205.9,282.2" fill="none" stroke="none" marker-start="url(#md)" marker-mid="url(#md)" marker-end="url(#md)"/>
<polygon points="1215.5,474.6 1215.5,298.7 1222.1,295.3 1224.4,295.9 1226.7,296.5 1229,297.2 1231.3,297.9 1233.6,298.8 1235.9,299.7 1238.2,300.6 1240.5,301 1242.8,301 1245.1,301 1247.4,301 1249.7,302.4 1252,304.3 1254.3,306.1 1256.6,308 1258.9,308.5 1261.2,309 1263.5,309.4 1265.8,310 1268.1,311.6 1270.4,313.1 1272.7,314.6 1275,316.2 1277.3,317.7 1279.6,297.6 1281.9,298.2 1284.2,298.9 1286.5,299.5 1288.8,300.2 1295.3,304.2 1295.3,474.6" fill="#999999"/>
<polyline points="1219.8,295.5 1220.3,300.8 1222.1,294.1 1222.2,300.8 1221.8,289.4 1224.4,297.9 1224.4,301.1 1226.7,294.7 1226.4,300.4 1227.4,289.8 1229,296.4 1229.1,302 1228.1,291.3 1231.3,296.4 1231.8,304.2 1233.6,297.5 1234.4,305.3 1233,291.3 1235.9,301.7 1235.6,307.4 1238.2,302 1237.3,306.6 1240.5,299.4 1240,304.2 1240,292.8 1242.8,299.1 1242.6,305.2 1245.1,302.4 1245.4,305.2 1247.4,302.9 1247.6,304.5 1249.7,303.8 1249.4,306.3 1249.8,293.2 1252,304.5 1252.8,308.6 1254.3,306.9 1254.6,311.6 1256.6,306.7 1255.7,313.4 1256.9,302 1258.9,308 1259.1,313 1261.2,306 1262.1,315.3 1263.5,306.7 1263.7,316.8 1265.8,307.5 1265.1,313.9 1268.1,309 1268.7,317.1 1270.4,313 1270.5,320 1272.7,313.3 1273.2,319.2 1275,317 1275.6,321 1277.3,319.6 1277.2,322.4 1279.6,299.3 1278.9,300.6 1281.9,298.5 1282.4,303.4 1284.2,297 1284.7,302.4 1283.5,294.5 1286.5,299 1286.6,303.6 1288.8,299 1288.1,304.3 1225.8,292.4 1226.7,295.9 1233.3,273.7 1233.4,277.2 1233.1,280.7 1233.6,284.2 1233.2,287.7 1233.1,291.2 1233.8,294.7 1232.8,298.2 1244.3,297.6 1244,301.1 1256.1,304.2 1255.9,307.7 1268.6,291.4 1268.1,294.9 1268.1,298.4 1268.1,301.9 1268.3,305.4 1268.1,308.9 1268,312.4 1279.2,289.3 1280.1,292.8 1279.1,296.3 1289.5,296.2 1289.5,299.7 1272.4,252.4 1272.5,255.6 1271.6,258.8 1271.7,262 1271.9,265.2 1272.6,268.4 1271.4,271.6 1272.3,274.8 1272.1,278 1271.9,281.2 1272.1,284.4 1272.6,287.6 1271.5,290.8 1272.6,294 1271.7,297.2 1272.4,300.4 1272.6,303.6 1271.5,306.8 1272.6,310 1272.8,313.2 1238,214.4 1246.2,229.1 1246.2,247.2 1223.9,258.2 1235.1,263.8 1246.2,262.9 1225.2,276.1 1237.4,275.2 1242.7,275.2 1263.7,276.1 1219.9,285.7 1228.7,287.5 1246.2,290.1 1255,289.2 1281.3,287.5 1288.3,291" fill="none" stroke="none" marker-start="url(#mg)" marker-mid="url(#mg)" marker-end="url(#mg)"/>
<polygon points="1295.3,474.6 1295.3,297.2 1301.9,290.5 1304.2,290.5 1306.5,290.5 1308.8,290.5 1311.1,290.5 1313.4,289.6 1315.7,287.8 1318,285.9 1320.3,284.1 1322.6,282.3 1324.9,280.4 1327.2,283.1 1329.5,287.1 1331.8,291.2 1334.1,295.2 1336.4,299.2 1338.7,303.2 1341,306.8 1343.3,310.1 1345.6,313.5 1347.9,316.8 1350.2,320.2 1356,324.2 1356,474.6" fill="#1a1a1a"/>
<polyline points="1299.6,291.7 1298.6,296.9 1301.9,287.6 1302.7,294.4 1304.2,288 1303.5,297.6 1303.9,281 1306.5,291.1 1307.3,299.4 1306,281.8 1308.8,291 1307.9,296.6 1311.1,289.7 1310.3,293.6 1313.4,288.2 1314.2,293.3 1315.7,285.5 1315.6,291.9 1318,283.7 1318.5,291.9 1317.7,279 1320.3,285.7 1320,288.4 1322.6,283.7 1323.1,286.9 1322.1,277.8 1324.9,277.6 1324.9,285.9 1327.2,281.9 1326.2,290.2 1329.5,286.9 1329.6,294.3 1331.8,292.5 1332.2,296.6 1334.1,294.3 1335,300.5 1336.4,298.3 1335.7,308.2 1336.6,289.6 1338.7,301.5 1338.9,308.5 1341,304.8 1340.2,314.9 1343.3,311.7 1342.4,317.3 1345.6,313.7 1345.7,318.4 1347.9,313.8 1348.4,325 1350.2,320.1 1351.2,324.6 1305.3,284.7 1304.9,288.2 1314.5,280.2 1314.1,283.7 1314.4,287.2 1323.7,276.9 1323.3,280.4 1336.2,291.5 1335.9,295 1335.9,298.5 1343.2,305.3 1342.7,308.8 1319.3,256.8 1319.8,260 1318.9,263.2 1318.8,266.4 1319.8,269.6 1319.2,272.8 1319.5,276 1319.8,279.2 1319.9,282.4 1319.9,285.6 1333.1,252.4 1333.7,255.6 1334.4,258.8 1334.4,262 1333.2,265.2 1333.3,268.4 1333.4,271.6 1333.2,274.8 1333.6,278 1334.3,281.2 1333.9,284.4 1333.8,287.6 1333.2,290.8 1333.7,294 1305.8,277 1300.6,282.2 1319.3,239.3 1333.3,236.3 1349.1,266.4 1347.3,285.7 1307,277 1303.5,282.2 1333.3,264.7 1343.8,298.9 1350,302.9" fill="none" stroke="none" marker-start="url(#md)" marker-mid="url(#md)" marker-end="url(#md)"/>
<polygon points="1356,474.6 1356,306.3 1362.6,301.8 1364.9,302.6 1367.2,303.5 1369.5,304.3 1371.8,303.8 1374.1,302.9 1376.4,301.9 1378.7,300.9 1381,299.9 1383.3,299.5 1385.6,299.9 1387.9,300.4 1390.2,300.8 1392.5,302.7 1394.8,305.6 1397.1,308.4 1399.4,310.2 1401.7,311 1404,311.7 1406.3,312.5 1408.6,313.3 1414,317.3 1414,474.6" fill="#999999"/>
<polyline points="1360.3,304.3 1360.7,308 1362.6,302.8 1363.1,305.7 1364.9,301.5 1364.9,307.1 1367.2,302.2 1367,306.6 1367.3,299.1 1369.5,302.2 1369.9,309 1371.8,302 1372.5,307.4 1374.1,304.1 1373.5,308.4 1376.4,302 1376.1,305.1 1378.7,299.7 1379.1,305.7 1381,300.1 1381.6,305 1383.3,299.4 1384.1,303.6 1385.6,300.5 1385.3,306.9 1387.9,297.7 1388.4,305.7 1390.2,300.3 1391,308.4 1390.4,294.1 1392.5,302 1393.2,308.2 1394.8,307 1394.7,311.5 1397.1,309.6 1397.4,315.9 1399.4,307.4 1399.8,316.5 1401.7,311.8 1400.9,315.3 1402.3,306.4 1404,309.2 1404.5,318.1 1404.4,303.5 1406.3,311.9 1405.4,319.7 1408.6,313.2 1409.6,321.2 1362.2,296.2 1361.6,299.7 1374.8,297.5 1374.9,301 1382.2,284.7 1382.1,288.2 1382,291.7 1381.6,295.2 1381.9,298.7 1394.5,291.9 1393.8,295.4 1393.7,298.9 1393.5,302.4 1403.3,305.7 1403.3,309.2 1375.5,271.7 1376.2,274.9 1375.3,278.1 1376.4,281.3 1375.8,284.5 1375,287.7 1375.5,290.9 1375.8,294.1 1375.6,297.3 1375.9,300.5 1375.7,221.4 1375.9,236.6 1373.6,260.3 1377.2,262.9 1389.4,264.7 1404.9,262.6 1407,274.7 1362.2,285.7 1375.4,275.2 1383.3,271.7 1392.9,278.7 1400.8,284 1405.2,292.7" fill="none" stroke="none" marker-start="url(#mg)" marker-mid="url(#mg)" marker-end="url(#mg)"/>
<polygon points="1414,474.6 1414,298.1 1420.6,294.4 1422.9,294.7 1425.2,295 1427.5,295.3 1429.8,295.6 1432.1,299.9 1434.4,304.6 1436.7,297.7 1439,296.9 1441.3,296.2 1443.6,295.6 1445.9,294.9 1448.2,294.3 1450.5,289.7 1452.8,283.5 1457.5,287.5 1457.5,474.6" fill="#1a1a1a"/>
<polyline points="1418.3,292.7 1417.8,301.9 1420.6,295 1421.2,301 1422.9,296.4 1422.8,303 1422.8,286.9 1425.2,292.2 1425.9,298.4 1427.5,293.2 1428.3,301.6 1429.8,295.1 1430.1,302.6 1432.1,298 1432.8,303.8 1434.4,302.7 1433.6,308.2 1436.7,299.5 1436.5,304.7 1439,298.4 1439.4,300.8 1439.4,292.6 1441.3,297.4 1440.9,300.6 1443.6,294.2 1443.7,299.5 1445.9,293.5 1446.6,298.8 1448.2,296.2 1448,297.5 1450.5,289.9 1449.9,295.9 1450.4,281.3 1452.8,282.7 1453.2,287.2 1420.6,275.9 1420.6,279.4 1420.1,282.9 1419.8,286.4 1419.9,289.9 1420.3,293.4 1428.5,276.5 1429,280 1429.4,283.5 1429.1,287 1429.1,290.5 1428.5,294 1435.6,297.6 1435.5,301.1 1441.4,277.5 1442.1,281 1442.5,284.5 1441.8,288 1442.5,291.5 1442.1,295 1447.3,289.1 1447,292.6 1425.2,220.5 1420.6,263.8 1444.1,259.8 1449,269.1 1456.1,252.4 1459.6,248 1459.6,257.7 1429.4,278.7 1421,282.2 1440.3,285.7 1450.8,282.2 1460.4,273.5 1419.2,305 1419.2,319.9" fill="none" stroke="none" marker-start="url(#md)" marker-mid="url(#md)" marker-end="url(#md)"/>
<polygon points="1457.5,474.6 1457.5,293.9 1464.1,291.5 1466.4,293.1 1468.7,294.8 1471,300.4 1473.3,305.5 1475.6,307.1 1477.9,310.5 1480.2,317.4 1482.5,342.8 1484.8,315.8 1487.1,305 1489.4,296.6 1491.7,294 1494,291.5 1496.3,289 1498.6,287 1504,291 1504,474.6" fill="#999999"/>
<polyline points="1461.8,287.8 1462.4,294.7 1461.9,285.3 1464.1,291.3 1464.7,298.1 1466.4,290.3 1466.4,296.7 1468.7,292.5 1468.9,299.9 1471,300.7 1470.3,304.4 1473.3,304.2 1474,313.8 1475.6,304.8 1474.8,315.3 1475.6,299.8 1477.9,308 1477.8,314.4 1480.2,316.9 1479.9,321.5 1482.5,340.8 1481.8,347.2 1484.8,315.3 1485.6,318.9 1487.1,304.4 1487.7,311.4 1489.4,294.7 1489.9,300.5 1491.7,291.2 1491.5,300.2 1494,293 1493.2,298 1496.3,289 1496.9,296.3 1495.8,281.4 1498.6,288.9 1497.7,293.7 1468.1,288.6 1467.6,292.1 1480.6,313.9 1479.9,317.4 1488,295 1488.6,298.5 1464.8,252.4 1466.6,257.7 1466.6,264.7 1463.1,277 1478,277 1478,282.2 1478,287.5 1493.8,260.3 1501.6,255 1504.3,259.4 1493.8,274.3 1501.6,271.7 1490.3,286.6 1475.3,299.8 1478.9,305" fill="none" stroke="none" marker-start="url(#mg)" marker-mid="url(#mg)" marker-end="url(#mg)"/>
<polygon points="1504,474.6 1504,300.5 1510.6,297.9 1512.9,299.3 1515.2,300.7 1517.5,303.5 1519.8,306.5 1522.1,308.6 1524.4,309.7 1526.7,310.8 1529,311.9 1531.3,312.9 1533.6,314 1535.9,314.8 1538.2,302.5 1540.5,299 1546.3,303 1546.3,474.6" fill="#1a1a1a"/>
<polyline points="1508.3,294.3 1508,300.3 1507.7,290.5 1510.6,299.8 1511.6,305.7 1512.9,298.8 1513.5,307.8 1515.2,300.9 1514.6,307.5 1517.5,304.4 1516.7,310.8 1519.8,304.4 1520.7,313.6 1522.1,306.3 1522.8,317.2 1524.4,310.4 1525.1,317.5 1526.7,309.9 1527.4,318.5 1529,310.3 1529.9,318 1531.3,310.5 1532.2,320.7 1533.6,315.2 1533.1,318.2 1535.9,312.9 1535.9,323.2 1538.2,303 1538,310.2 1540.5,299.4 1541.4,307 1510.2,288.1 1509.6,291.6 1509.9,295.1 1520.9,295.9 1521.5,299.4 1520.9,302.9 1521,306.4 1533.1,307.5 1533,311 1532.8,314.5 1540.1,294.2 1539.9,297.7 1530.1,275.2 1530.4,278.4 1531.1,281.6 1530.7,284.8 1531,288 1531.2,291.2 1530.1,294.4 1531,297.6 1530,300.8 1531.3,304 1530.3,307.2 1530.4,310.4 1531.5,313.6 1509.7,272.2 1509.4,275.4 1510.5,278.6 1510.1,281.8 1510.5,285 1509.7,288.2 1509.9,291.4 1510.6,294.6 1509.9,297.8 1509.9,227.3 1509.9,249.8 1538.1,256.3 1526.2,262.9 1531.5,262.1 1550.7,273.5 1509.9,282.2 1520.9,286.6 1530.1,296.2 1540.2,291 1545.5,284" fill="none" stroke="none" marker-start="url(#md)" marker-mid="url(#md)" marker-end="url(#md)"/>
<polygon points="1546.3,474.6 1546.3,301.9 1552.9,294.8 1555.2,296.1 1557.5,297.4 1559.8,298.7 1562.1,300.1 1564.4,304 1566.7,312.3 1569,293.8 1571.3,293.1 1573.6,292.5 1575.9,291.8 1578.2,291.2 1580.5,290.5 1582.8,291.7 1587.5,295.7 1587.5,474.6" fill="#999999"/>
<polyline points="1550.6,299.8 1550,305.9 1550.7,293.9 1552.9,292.7 1553.8,300.5 1555.2,294.4 1554.9,299.7 1557.5,298.7 1557.5,302.7 1559.8,300.2 1560.1,302.2 1562.1,299.3 1563,305.2 1564.4,304.2 1564.2,310.2 1566.7,313.8 1566.7,317.5 1569,291.1 1569.7,300.9 1571.3,292.4 1571.8,301.5 1573.6,293.2 1572.7,297.4 1574.5,283.1 1575.9,289.6 1576.1,298.3 1575.7,283.4 1578.2,291.4 1577.8,298.8 1580.5,290.2 1580.3,299.4 1582.8,292.7 1583.2,297 1555.6,286.4 1555.5,289.9 1555.9,293.4 1556.2,296.9 1566.8,300.6 1567.2,304.1 1579.5,286.8 1578.8,290.3 1572.4,270.3 1572.8,273.5 1572.9,276.7 1573.9,279.9 1573.9,283.1 1572.6,286.3 1572.8,289.5 1573.8,292.7 1573.1,185.4 1573.1,231.4 1573.1,236.6 1587.5,247.5 1573.1,259.1 1590.5,259.8 1587.5,269.1 1555.9,280.5 1552.4,284.9 1562.1,287.5 1579.6,277.8 1557.7,298 1590.1,282.2" fill="none" stroke="none" marker-start="url(#mg)" marker-mid="url(#mg)" marker-end="url(#mg)"/>
<polygon points="1587.5,474.6 1587.5,307.4 1594.1,290.4 1596.4,289.6 1598.7,288.8 1601,288.1 1603.3,287.3 1605.6,287.2 1607.9,287.5 1610.2,287.9 1612.5,288.2 1619,292.2 1619,474.6" fill="#1a1a1a"/>
<polyline points="1591.8,301.4 1591.4,309.1 1591.3,297.1 1594.1,289.3 1595,295 1594.9,283.7 1596.4,290.8 1596.7,297.3 1598.7,286.6 1599.2,294.7 1601,288.4 1601.5,292.7 1603.3,288.9 1603.4,292 1605.6,285.5 1606.1,290.5 1607.9,287.4 1607.6,296.2 1610.2,286.1 1609.3,294.2 1612.5,288.6 1612.3,296.1 1612.1,280.3 1598.8,279.8 1598.9,283.3 1598.5,286.8 1610.9,276.9 1611,280.4 1611.5,283.9 1610.9,287.4 1594,227 1594,231.4 1594,236.6 1593.6,248.9 1620.8,266.4 1597.2,278.7 1602.4,277 1610.3,277 1592.8,293.6 1594.5,305 1598.9,301.5" fill="none" stroke="none" marker-start="url(#md)" marker-mid="url(#md)" marker-end="url(#md)"/>
<polygon points="1619,474.6 1619,288.5 1625.6,285.1 1627.9,285.8 1630.2,286.4 1632.5,287.6 1634.8,292.2 1637.1,296.8 1639.4,301.4 1641.7,306 1644,310.6 1646.3,315 1648.6,311.9 1650.9,308.9 1653.2,310.8 1655.5,314.4 1660,318.4 1660,474.6" fill="#999999"/>
<polyline points="1623.3,285.8 1623.4,290.6 1625.6,286.6 1624.9,290.2 1625.4,278.1 1627.9,287 1628.2,292.2 1630.2,286.3 1629.7,294.5 1632.5,288.8 1631.8,294.6 1634.8,291.7 1635.6,300.6 1637.1,297.9 1637.4,305 1637.5,288.5 1639.4,301.4 1639,304.8 1641.7,307.1 1641.2,310.2 1644,308 1644.4,319.4 1646.3,313.8 1646.7,318.4 1648.6,310.6 1647.6,318.7 1648.2,307.6 1650.9,308.1 1651,316.7 1651.6,304.2 1653.2,308.9 1653.5,315.8 1655.5,314.3 1654.9,322.2 1656.2,305.6 1627.9,282.5 1627,286 1636,289.4 1636.7,292.9 1636.8,296.4 1646.3,309 1646.3,312.5 1645.9,316 1643.3,249.4 1642.7,262.1 1650.6,263.8 1653.3,269.1 1626.1,268.2 1630.5,270.8 1637.5,277 1649.8,277 1649.8,291.9 1655,297.1 1658.5,303.3" fill="none" stroke="none" marker-start="url(#mg)" marker-mid="url(#mg)" marker-end="url(#mg)"/>
<polygon points="1660,474.6 1660,291 1666.6,287 1668.9,287 1671.2,287 1673.5,287 1675.8,287.5 1678.1,288.3 1680.4,289 1685.7,293 1685.7,474.6" fill="#1a1a1a"/>
<polyline points="1664.3,289 1664.9,295.8 1666.6,288.9 1665.7,292.9 1666.5,278.9 1668.9,287.6 1668.8,292.1 1668.7,281.3 1671.2,285 1671.7,293.1 1673.5,285 1673.9,291.2 1675.8,287.3 1676.2,296.4 1678.1,290 1678.9,295.6 1680.4,286.4 1679.8,292.1 1669.3,278 1669.5,281.5 1669.2,285 1679.5,263.8 1679.1,267.3 1679.3,270.8 1679.5,274.3 1680.2,277.8 1680.1,281.3 1679.6,284.8 1679.2,288.3 1668,252.4 1669,255.6 1668.5,258.8 1669.3,262 1669.2,265.2 1669,268.4 1668.5,271.6 1669,274.8 1667.9,278 1667.9,281.2 1668.6,284.4 1668.5,287.6 1673.8,240.7 1676.6,245.7 1679.6,250.7 1679.6,277.3 1680.4,290.1 1662.9,326.1" fill="none" stroke="none" marker-start="url(#md)" marker-mid="url(#md)" marker-end="url(#md)"/>
<polygon points="1685.7,474.6 1685.7,286.7 1692.3,284.6 1694.6,286.4 1696.9,288.3 1699.2,290.1 1701.5,291.9 1703.8,293.8 1706.1,315.4 1708.4,318.2 1713.8,322.2 1713.8,474.6" fill="#999999"/>
<polyline points="1690,280.8 1689.5,285.9 1692.3,285.1 1693.2,293.5 1694.6,287.1 1694.4,294.3 1696.9,285.9 1695.9,292.5 1699.2,289 1698.2,298.1 1701.5,291.3 1700.6,300.3 1703.8,291.1 1703.4,300.5 1706.1,314.8 1706.4,319.6 1708.4,319.8 1708.2,321.9 1691.7,279.8 1691.9,283.3 1701.8,281.9 1701.3,285.4 1702.1,288.9 1701.3,292.4 1699.2,275.2 1699.7,278.4 1699.7,281.6 1699,284.8 1699.6,288 1699.7,291.2 1692.7,264.7 1708.5,311.2 1709.4,322.6 1699.4,216.5 1699.4,220.9 1699.4,234.9 1699.4,238 1699.4,241 1699.4,244.2 1699.4,247.2 1699.4,250.7 1699.4,253.8 1699.4,267.3 1699.7,282.2" fill="none" stroke="none" marker-start="url(#mg)" marker-mid="url(#mg)" marker-end="url(#mg)"/>
<g stroke="#000" stroke-width="2.2" stroke-linecap="round"><path d="M825.4 140.7L855.2 153.3"/><path d="M876.2 136.6L907.5 114.4"/></g>
<text x="826.5" y="147.5" font-size="29.5" text-anchor="end" font-style="italic">SEPT7</text>
<text x="907.8" y="121.3" font-size="29.5" font-style="italic">TNS3</text>
</g>
<g id="panel-b">
<path d="M110 1180.6L316.2 1180.6L317.7 939L319.2 1180.6L362.1 1180.6L363.6 929.4L365.1 1180.6L533.4 1180.6L533.4 1019.4L537.5 1019.4L537.5 1180.6L849.8 1180.6L850.8 1134L851.8 1180.6L868.3 1180.6L869.8 965.9L871.3 1180.6L945 1180.6L950 1179L953 1181.5L956 1177L957.5 1181L960.3 1180.6L961.8 1164.6L963.3 1180.6L970.6 1181.1" stroke="#2a2aff" stroke-width="2.2" fill="none" stroke-linejoin="miter"/>
<clipPath id="clb"><rect x="108.7" y="719.9" width="861.9" height="483.1"/></clipPath>
<g clip-path="url(#clb)">
<polyline points="158.3,1125 704.1,1145.8 377.3,1160 261,1144.4 660.4,1138.9 458.2,1161.7 820.2,1162.4 708,1123 907.2,1181.3 277.1,1170.7 797,1146.3 703.2,1160.6 256.3,1179.2 652.2,1161.4 149.7,1169.2 380.4,1173.8 475.7,1167.9 939.9,1181.3 355.6,1178.9 541.6,1167.6 666.2,1178.8 653.1,1177.3 319.9,1179.2 398,1175.9 312.7,1180.4 330.3,1176.1" fill="none" stroke="none" marker-start="url(#bgrey)" marker-mid="url(#bgrey)" marker-end="url(#bgrey)"/>
<polyline points="108,1097.6 108,1106.6 108,1109.6 108,1117.2 108,1152 108,1166.4 108,1170.1 108,1179.3 108,1181.3 108.3,1167.6 108.7,1170.1 108.8,1171.7 109.4,1176 109.8,1147.9 109.9,1178.5 110.6,1178.5 110.6,1167.6 110.9,1175.4 111.1,1176 111.6,1149.2 111.8,1163.1 112.6,1108.8 112.8,1180.5 112.8,1162.4 113.4,1172.9 114,1171.3 114,1121.6 114.1,1146.5 114.6,1179.6 114.7,1109.5 114.7,1179.7 115,1181.3 115.3,1176.8 115.5,1178 115.8,1133.6 116.6,1118.8 116.6,1138.4 116.9,1163.4 117.5,1168.6 117.7,1179.1 117.8,1180.6 117.8,1154.2 118,1181.2 118.2,1175 118.2,1099.4 118.4,1180.3 118.7,1164.4 118.8,1176.2 119,1180.9 119.1,1117.4 119.2,1177.4 119.8,1179.3 119.9,1099.4 120,1180.2 120.2,1178.7 120.6,1168.3 120.7,1176.7 121,1114.2 121,1181.5 121.2,1174 121.5,1141.5 121.5,1140.8 121.5,1179.7 121.8,1165.6 121.9,1154.2 122,1137.2 122.1,1177 122.2,1140 122.2,1154.5 122.3,1109.9 122.4,1177.6 122.9,1157.7 123.3,1175.5 123.6,1180.6 123.9,1120.9 124.1,1129.2 124.4,1100.1 124.5,1175.6 125,1125.1 126.3,1156.4 126.8,1126.7 127.2,1172.1 127.2,1097 127.3,1167.6 127.6,1144.9 127.9,1180.9 128.3,1170.5 128.5,1104.9 128.8,1140.9 129.1,1171.3 129.2,1161.6 129.7,1167.6 130.5,1178.2 130.7,1180.8 130.7,1167.6 131.1,1171.5 131.3,1169.4 131.4,1122.5 131.5,1173.3 131.7,1146.8 131.9,1177.5 131.9,1178 132.1,1119.3 132.3,1180.4 132.4,1181.2 132.6,1181.5 132.8,1181.2 132.8,1098.6 132.9,1130.6 133,1172.6 133.4,1171.6 133.5,1175.1 134.2,1159.5 134.2,1118.2 134.8,1099.9 134.9,1152 135,1179.6 135.4,1181.5 135.5,1179.1 135.6,1156.3 135.7,1171.3 136,1176.4 136.2,1179.4 136.4,1175.7 136.5,1161.2 136.8,1168.8 136.9,1116.3 136.9,1134.9 137.3,1177.6 137.5,1166.4 137.6,1175.4 137.6,1180.9 138.3,1134.9 138.7,1157 138.8,1147.7 139.2,1169.1 139.5,1176.6 139.9,1174.6 140.4,1180.9 140.4,1174.1 140.4,1145.7 140.5,1097.5 140.6,1180.6 140.7,1176.8 140.9,1174 141,1175.7 141.2,1179.1 141.3,1169.8 141.5,1113.8 141.6,1159.3 141.9,1179.6 142,1172.9 142,1098.8 142.1,1171.1 142.1,1176.3 142.8,1152 142.9,1149.7 143,1178.6 143.3,1143.1 143.6,1157.5 143.7,1169.7 144,1177.9 144,1167.6 144,1175 144.1,1103.2 144.3,1179.3 145.1,1136.5 145.2,1179.3 145.5,1171.2 145.6,1175.9 145.8,1150.1 145.8,1124.2 145.8,1173.9 146.2,1176.9 146.6,1178.3 146.7,1171.2 146.9,1179.2 147.4,1179.8 148.1,1165.5 148.1,1181.4 148.7,1162.9 148.9,1175.4 149.2,1180 149.2,1180.3 149.4,1103.1 149.7,1170.5 150,1144.2 150.4,1168.7 150.5,1177.2 151,1178 151.1,1180.1 151.6,1179.9 151.9,1181.4 152,1179.8 152.3,1171.7 152.4,1175.2 152.6,1180.2 153.2,1176 153.5,1181.3 153.6,1180.2 153.9,1178.1 154,1113.9 154.1,1156.1 154.3,1179.6 154.5,1110.4 154.7,1174.2 154.7,1175.2 155,1180.5 155.1,1117.4 155.1,1176.5 155.2,1169.3 155.4,1100.9 155.5,1134.4 156.2,1179.2 156.3,1180.5 156.5,1180.1 156.5,1112.3 156.6,1166.1 156.7,1180.7 156.9,1140.9 156.9,1170.7 157,1139.7 157.6,1179 157.7,1181.1 158.3,1178 158.5,1149.9 158.6,1148.5 158.8,1168 159.2,1173.5 159.3,1159.6 159.3,1178.3 159.9,1173.6 160.1,1174.8 160.1,1179.5 160.3,1153.7 160.5,1174.2 160.6,1181 160.7,1163.3 161.3,1134 161.4,1175.3 161.4,1147.5 161.7,1178.3 162,1172.4 162.1,1125.1 162.2,1178.5 162.4,1179.6 162.6,1173.6 162.6,1170.3 163.1,1157.2 163.1,1112.1 163.6,1180.4 163.8,1167.6 163.9,1090.3 164,1176.5 164.2,1178.2 164.3,1115.8 164.8,1122.4 165,1177.9 165.2,1173.7 165.3,1155.2 166.1,1179.6 166.3,1099.3 166.5,1167.3 166.5,1146.7 166.6,1088.3 167,1132 167.1,1085.6 167.7,1140.5 167.8,1123.2 168.1,1137.8 168.1,1178.1 168.1,1174.8 168.3,1172.5 168.3,1178.4 169,1174.6 169,1079.6 169.1,1175.3 169.2,1171.4 169.5,1078.3 169.7,1167.6 169.8,1104.7 170.7,1179 171.1,1178.1 171.2,1178.2 171.8,1151.8 171.9,1180.1 172,1076.4 172.2,1093.4 172.2,1170.7 172.2,1180.9 172.7,1179.3 172.8,1150.9 173.1,1174.5 173.2,1168.6 173.2,1181.5 173.2,1081.4 173.2,1178.3 173.4,1161.9 173.8,1180.6 174.8,1180.8 174.9,1175.9 175.1,1128.6 175.2,1177.3 175.5,1176 176,1170.3 176.1,1173.4 176.2,1163.5 176.4,1127.5 177.2,1173.1 177.3,1082.1 177.4,1161.7 177.4,1178.6 177.8,1106.8 178.1,1173.8 178.3,1073.7 178.6,1179.1 178.6,1173.6 178.8,1176.8 178.9,1180.5 178.9,1181 179,1075.9 179.2,1170.3 179.5,1135.3 179.6,1146.8 179.9,1125.2 180,1179.8 180,1156 180.1,1123 180.3,1144 180.4,1178.8 180.4,1177.3 180.8,1166.5 181,1178.8 181.1,1143.6 181.2,1151.8 181.2,1160.5 181.3,1177.3 181.7,1117.3 181.9,1069 182,1113.4 182.4,1098 182.5,1180 182.6,1164.6 182.6,1180.7 182.6,1107 182.8,1180.6 183.2,1181 183.2,1140.4 183.3,1143.5 183.3,1108.2 183.5,1142.9 183.7,1100.2 183.7,1160.4 183.8,1174.5 184,1167 184,1095.3 184.1,1169.9 184.7,1173.9 184.8,1171.5 184.8,1178.6 184.9,1105.9 184.9,1085.1 185.1,1174.3 185.1,1178.1 185.2,1121.7 185.4,1076.2 185.4,1181.4 185.5,1179.7 185.6,1180.8 185.6,1181.5 185.8,1103.9 186,1070 186.3,1175.3 186.5,1174.7 186.6,1126.3 186.6,1164.5 186.8,1174.3 187,1088.8 187,1167.1 187.6,1158.6 187.6,1174.6 187.8,1111.4 188,1144.5 188.2,1071.1 188.4,1180.5 188.5,1169.6 188.5,1135.8 189,1149.2 189,1071.6 189.2,1166.1 189.3,1166.7 189.5,1175.4 189.6,1176.5 189.8,1144.3 189.8,1149.7 190,1158.2 190.3,1104.1 190.5,1178.9 190.5,1173.1 190.5,1110.8 190.5,1164.7 190.9,1180.7 191.1,1180.1 191.2,1166.6 191.3,1163.4 191.3,1178.4 191.7,1176 191.8,1141.9 191.8,1159.3 191.9,1136 191.9,1172 192.2,1175.1 192.2,1172.8 192.4,1179.5 192.4,1180.6 192.5,1177.4 192.5,1179 192.9,1095 193.4,1152.9 193.4,1179.3 193.5,1142.4 193.6,1180.2 194,1154.3 194.1,1170.4 194.2,1117.9 194.2,1160.9 194.7,1159.1 195,1174.6 195.3,1095.4 195.3,1173.2 195.3,1180.1 195.4,1157.5 195.5,1179.2 195.9,1175.1 196.2,1179 196.2,1167.4 196.4,1123.3 196.5,1176 196.5,1181.2 196.7,1100.5 196.7,1167.7 196.8,1077.7 196.9,1144.4 197.1,1159.9 197.4,1141.1 197.5,1166.4 197.8,1089.2 199,1180.6 199,1166.8 199.2,1169 199.5,1175.4 199.6,1173.2 199.9,1146.7 200.7,1166.1 200.8,1177 201.1,1172 201.4,1139 201.5,1112.8 202,1094.3 202,1169.1 202,1097.2 202,1173.5 202.1,1167.9 202.1,1159.6 202.2,1181.6 202.2,1156.5 202.2,1166.5 202.3,1174 202.3,1179.1 202.5,1176.5 202.5,1116.7 202.6,1179.8 202.6,1176 202.9,1180.4 203,1089.3 203.8,1104.5 204,1153.8 204.3,1181.1 204.9,1178.5 205.2,1178.5 205.3,1167.6 205.4,1142.4 205.6,1168.9 205.6,1177.5 205.7,1175.8 205.9,1157.7 206.2,1174.7 206.3,1146.1 206.5,1176.5 206.6,1132 206.8,1116.6 207.7,1180.4 207.8,1173.2 208.2,1107.3 208.6,1167.6 208.6,1151.7 208.7,1178.9 208.7,1148.8 208.9,1172.8 209.1,1138.7 209.5,1176.6 211.5,1180 211.6,1181.4 211.7,1175.1 211.8,1151 211.8,1147.3 212,1172.1 212.2,1155.3 212.2,1176.9 212.6,1178.5 212.7,1181.3 213,1143.3 213,1177 213.1,1152.8 213.4,1181.6 214.1,1174.7 214.3,1174.6 214.8,1180.3 214.9,1176.9 214.9,1158.8 215.1,1181.3 215.2,1128.2 215.2,1167.8 215.4,1161.4 215.4,1137.5 215.7,1165.9 216.5,1145.4 216.8,1157.3 217.3,1171.7 218,1175.9 219,1172.1 219.1,1112.1 219.2,1170 219.3,1105.5 219.3,1154.2 219.9,1180.1 220,1181.4 221,1167.6 221.2,1154.3 221.7,1149.3 222.5,1148.8 222.8,1166.3 223.1,1177.5 223.3,1128.7 223.3,1178.1 223.5,1176.7 223.7,1179.5 224,1170.5 224.5,1181.6 225.1,1152.5 225.4,1175.3 225.5,1164.1 225.7,1176.8 226,1166.1 226.2,1105.6 226.2,1152.6 226.5,1177.1 227.3,1169.2 227.3,1175.6 227.4,1178.1 227.5,1176.8 228.1,1173.3 228.5,1164.9 228.6,1181.2 229.9,1179.5 230,1168.1 230.7,1167.9 231.1,1124.6 232.5,1180 233,1119.1 233,1178 233.6,1114.7 234.6,1179.9 235.1,1151.4 235.1,1171 235.2,1180.4 235.3,1167.6 235.3,1160 235.5,1169.2 235.7,1158 236.1,1175.8 236.7,1115.6 237.2,1171.7 237.3,1122.8 237.5,1118.4 237.6,1130.8 237.6,1142.1 237.7,1153.5 237.8,1132.7 237.9,1180.6 238,1164.5 238.4,1177.5 238.4,1114 238.4,1179.1 238.5,1123.7 238.7,1177.3 238.7,1160.8 238.9,1141.1 239.2,1174.8 239.3,1178.8 239.3,1178.2 239.3,1151.9 239.3,1111.5 239.5,1154.4 239.8,1181.3 240,1110.7 240.1,1172.6 240.4,1181.4 241.2,1161.8 241.5,1155.2 241.6,1159.5 241.7,1168.5 241.9,1180.1 242.7,1178.2 243,1180.7 243.3,1155 243.4,1174 244.6,1168.8 244.7,1178.7 244.7,1171.9 245.2,1181.3 245.3,1146.2 245.8,1177.9 245.9,1180.5 246,1180.2 247.2,1174 247.6,1169.3 247.9,1180.9 248,1123.7 248.3,1158.1 248.5,1172.6 248.5,1180.5 249.2,1177.7 249.5,1172.6 249.5,1177.9 249.7,1178.8 249.8,1168.7 249.8,1179.5 249.9,1170.6 250.4,1181.1 250.6,1140.5 250.8,1179.8 251.2,1177.4 251.6,1165.7 252.1,1174.4 252.1,1181.2 252.2,1173.1 252.2,1128.9 253.3,1180.3 253.4,1179.4 253.6,1155.7 253.6,1181.4 253.7,1138.2 253.8,1180.9 253.9,1158.2 253.9,1172.7 254,1162.4 254.4,1164 254.9,1176.5 255.3,1179.9 255.3,1173.7 255.7,1177 255.8,1179.8 255.9,1170 255.9,1179.4 256.3,1173.2 256.3,1122.7 257,1167.6 257.3,1173.9 257.3,1175.1 257.4,1177.9 257.4,1173.1 257.4,1170.9 257.7,1117.5 257.9,1148.4 258,1150.6 258.1,1160.8 258.2,1162.8 258.2,1175.1 258.4,1173.7 258.5,1181.3 258.5,1154.1 258.5,1160.6 258.8,1167.6 259,1127.8 259,1125.8 259.1,1179.1 259.3,1155 259.5,1173.8 259.5,1162.5 259.6,1176.8 259.6,1126.5 259.6,1164.7 259.6,1176.5 259.7,1153.1 259.7,1169.1 259.9,1157.9 260,1177.7 260.1,1123.8 260.3,1164.6 260.3,1147.8 260.3,1163.1 260.4,1147.9 260.5,1172 260.7,1119.1 260.7,1181.2 260.9,1177.2 260.9,1181.3 261.2,1174.7 261.2,1169.5 261.2,1127.5 261.3,1166.9 261.4,1181.1 261.4,1148.7 261.5,1178.5 261.6,1166.9 261.6,1140 261.6,1151.6 261.6,1160.7 261.8,1180.1 261.8,1170.8 261.9,1174.6 262,1170.1 262,1169.9 262.1,1168.6 263,1178.4 263.1,1171.3 263.1,1170.8 263.2,1178 263.3,1171.3 263.5,1178.9 263.5,1133.9 263.5,1131.4 263.8,1161.2 264.1,1176.4 264.1,1166.1 264.3,1135 264.5,1144.4 265,1124.1 265,1159.9 265.2,1181.2 265.5,1163.4 265.6,1167.4 265.6,1179 265.9,1177 266,1173.6 266,1167.6 266,1175.5 266,1168.2 266.7,1150.4 266.9,1125.2 267.1,1155.9 267.2,1122.6 267.4,1180 267.7,1180.6 267.8,1152.6 267.8,1168.4 267.8,1181.6 268.1,1178.6 268.2,1139.1 268.2,1179.1 268.3,1161.9 268.6,1181.3 268.6,1173 268.7,1179.4 268.8,1180.4 268.9,1174.1 268.9,1178.1 269,1132.2 269.4,1180 269.6,1122 269.6,1170.7 269.7,1172.2 269.8,1178.1 270,1151.1 270,1175.5 270.1,1168.3 270.3,1149.6 270.6,1125.7 270.9,1177.4 270.9,1163.9 271.2,1134.9 271.2,1167.6 271.3,1137.7 271.5,1146.6 271.6,1152.5 271.7,1143.6 272,1133.9 272.2,1176.2 272.4,1153.9 272.6,1137.5 272.6,1179.7 272.8,1180.9 273.5,1172.6 273.8,1163 274.2,1180.3 274.4,1123.8 274.7,1171.2 274.8,1158.7 275.1,1174.9 275.2,1133.7 275.6,1180.8 275.8,1154.6 276.2,1169 276.3,1173.7 276.6,1181 276.7,1176.1 276.9,1175.1 277,1167.6 277.8,1145.6 278,1175.6 278.4,1181 278.4,1179.5 278.8,1171.3 278.8,1167.1 279.2,1181.6 279.3,1137 279.4,1157.1 279.5,1124.6 280,1178.7 280.2,1181.1 280.6,1139.3 280.6,1172 280.7,1181.4 280.9,1162.6 280.9,1147.1 280.9,1167.6 281,1178.8 281.1,1177.6 281.1,1178.7 281.8,1139.9 282.2,1178.3 282.3,1119 282.4,1167.6 282.5,1172 282.7,1176.9 283.1,1151.8 283.1,1166.1 283.1,1116.3 283.4,1111.8 283.6,1158 283.7,1137.1 283.8,1176.7 284,1159.8 284.1,1135.5 284.2,1175 284.2,1152 284.2,1177.4 284.3,1129.5 284.3,1135.1 284.3,1175.3 284.4,1155.1 284.4,1177.1 284.6,1171.5 284.7,1117.3 284.9,1158.7 285.1,1171.6 285.1,1169.7 285.3,1175.1 285.6,1167.6 285.8,1170.8 285.8,1142.2 285.9,1153.5 285.9,1175.8 286.1,1179.4 286.9,1169 286.9,1177.1 287.2,1181.3 287.4,1156.1 287.7,1178.5 287.9,1153.3 288,1180.7 288,1155.7 288.2,1174.9 288.4,1144.4 288.6,1172.9 288.7,1159.5 288.8,1176.3 289.4,1145.8 289.4,1177 289.5,1149.9 289.5,1180.2 289.6,1165.5 289.8,1181.3 289.8,1145 290,1176.1 290,1156.6 290.1,1176.4 290.1,1127.1 290.3,1163.9 290.4,1141.5 290.6,1181.6 290.9,1178.1 290.9,1138.6 292,1171.9 292.3,1158.1 292.3,1167.6 293.1,1168.4 293.2,1156.9 293.6,1154.5 293.8,1169.8 293.8,1171.9 294,1176.9 294,1151.2 294.3,1152.1 294.3,1180.1 294.9,1179.6 295,1179.4 295.3,1102.7 295.4,1179.5 295.5,1177.8 295.6,1181.6 296.4,1093.9 296.6,1176.3 297.1,1117.2 297.4,1167.3 297.5,1176.6 297.7,1162.9 297.8,1146.6 298.2,1166.5 298.7,1130.7 298.7,1170.1 298.7,1161.9 298.8,1179.7 299.1,1170.5 299.5,1094.9 299.7,1088.9 299.8,1161.1 299.8,1171.5 300,1167 300.2,1129.4 300.4,1173.3 300.4,1174.1 300.7,1139.6 301,1106.4 301.2,1180.9 301.2,1180.6 301.3,1094.9 301.7,1177.7 302.1,1128.4 302.6,1169.8 302.7,1148.3 303,1124.5 303.4,1172.4 303.5,1097.6 304.1,1168 304.3,1169.1 304.5,1168.7 304.8,1176.8 304.9,1155 305,1167.6 305.2,1171.8 305.2,1139.7 305.4,1176.3 305.5,1165.9 305.6,1114 305.7,1163.7 305.8,1180.8 305.8,1100.8 305.9,1167.5 305.9,1159.7 306,1178.6 306.6,1160.5 306.6,1148.9 306.7,1111.4 306.7,1176.8 306.8,1125 307,1153.1 307.6,1165.3 307.7,1176.4 307.8,1142 308.2,1165.8 308.4,1179.1 308.6,1169.6 308.6,1156.4 308.6,1154.5 308.7,1130.4 309.5,1180.6 309.5,1170.9 309.6,1168.3 309.7,1178 310.5,1150.3 310.5,1135.9 310.6,1153 310.7,1174.9 310.7,1178.2 310.9,1143.5 311.2,1180.3 311.7,1151.4 311.8,1156.3 311.9,1180.9 312,1177.5 312.1,1100.4 312.2,1181 313,1171.2 313.1,1172.1 313.4,1175.2 313.8,1144.2 313.8,1126.2 313.9,1173.6 314.2,1150.9 314.3,1170.6 314.5,1177 315,1154 315,1128.7 315.1,1180.9 315.1,1132.7 315.3,1099 315.4,1166.2 315.5,1155.5 315.6,1181.2 315.7,1180.5 316,1105.8 316.1,1167.6 316.3,1107.5 316.3,1156.9 316.6,1174.3 316.6,1169 317.1,1169 317.1,1105.2 317.3,1180.2 317.4,1174.7 317.4,1172.1 317.5,1176.1 317.5,1152.2 317.7,1178.4 318.3,1181.5 318.5,1154.6 318.6,1168.1 318.6,1179.7 318.8,1156.2 318.8,1179.8 318.8,1123.6 319,1147 319.1,1178.8 319.2,1181.1 319.3,1165.9 319.3,1177.3 319.4,1180.8 320.3,1175.9 320.5,1147.5 320.6,1180 320.7,1145.8 320.7,1163.6 320.9,1107.9 321,1113.7 321,1179.1 321.2,1159.7 321.4,1177.9 321.5,1174.9 321.6,1143.7 321.7,1178.1 321.7,1176.6 322,1176 322.1,1170.4 322.3,1180 322.4,1177.4 322.8,1180.8 323,1158.5 323,1104.5 323.1,1148.1 323.2,1176.8 323.4,1161.7 323.4,1181.4 323.9,1142.8 324.1,1172.4 324.3,1162.8 324.3,1128.2 324.4,1107.2 324.7,1164.1 324.8,1181.3 325.7,1181.1 325.7,1178.8 325.8,1173.9 326.2,1178.8 326.3,1164.3 326.9,1145.1 327.1,1164.8 327.1,1176.4 327.3,1178.1 327.7,1156 327.9,1134.7 327.9,1175.8 328,1130.5 328.1,1168.7 328.2,1140.1 328.3,1163 328.5,1124.1 328.6,1180.4 328.8,1156.3 328.9,1161.5 329,1179.4 329,1120.7 329,1181.6 329,1178.6 329.2,1149.2 329.2,1179.4 329.3,1180.6 329.3,1118.3 329.3,1180.8 329.5,1178 329.6,1131 329.7,1176.9 330,1109.7 330.3,1180.7 330.3,1180.6 330.3,1177.2 330.7,1142.5 330.8,1173.3 330.9,1175.8 330.9,1178.7 331.4,1121.7 331.6,1126.8 331.6,1181.5 331.7,1171.4 331.8,1177.3 332,1129.9 332.1,1179.1 332.1,1132.4 332.3,1175.6 332.8,1180.2 333,1121.7 333.1,1178.3 333.1,1139.6 333.2,1173.2 333.4,1160.9 333.5,1118.6 333.6,1172.5 333.6,1174.1 333.7,1127.8 333.7,1180.6 334.1,1181.3 334.2,1122.8 334.6,1120.1 334.8,1139.9 334.9,1158.1 334.9,1179.4 335,1143.7 335.1,1175.2 335.3,1164.8 335.4,1168.6 335.6,1177.1 335.6,1177.5 335.7,1171.7 335.7,1136 335.7,1114.7 335.8,1161.4 336,1136.7 336.1,1180.3 336.1,1173 336.2,1129.3 336.2,1175.3 336.2,1172.3 336.5,1179.4 336.5,1169.3 336.6,1160.7 336.7,1125.4 336.9,1176.3 337.1,1160.3 337.1,1135.9 337.3,1141.1 337.6,1179.2 337.9,1115.7 338,1180.2 338.5,1119.8 338.7,1177.2 338.8,1174.3 338.8,1172.4 339.1,1133 339.3,1118.4 339.4,1180.1 339.4,1142.4 339.5,1166.1 339.6,1180.1 339.7,1167.6 339.7,1141.9 340,1176.5 340.2,1175.3 340.3,1167.7 340.7,1173.3 340.7,1181.6 340.9,1181 341.6,1172.1 341.7,1169.8 341.7,1179 341.8,1163.3 341.9,1160.7 341.9,1167.8 342,1154.7 342.1,1173.9 342.5,1180.4 342.7,1180.2 343,1129.5 343.5,1137.1 343.5,1176.6 343.6,1175.6 343.8,1152.4 344.1,1150.4 344.5,1177.4 344.5,1175.5 344.7,1122.8 344.8,1161 345.1,1177.8 345.4,1177.6 345.5,1181.6 345.7,1165.3 345.8,1139.8 345.8,1121.5 345.9,1172.2 345.9,1144.9 346.1,1181.3 346.4,1181.4 347,1163.7 347.2,1133.5 347.9,1123.7 348.4,1158.2 348.7,1179 348.8,1168.1 349.3,1178.6 349.7,1180.3 349.9,1177.9 349.9,1167.6 350,1159.1 350,1130.9 350.2,1160.1 350.3,1166.7 350.6,1146.3 350.6,1177.9 350.8,1180.1 351,1163.9 351,1171.9 351.3,1137.5 351.3,1165.9 351.6,1170.8 351.7,1177.4 351.9,1128.1 352.2,1165.2 352.7,1179.9 352.7,1151 352.8,1167 353,1176.8 353.4,1163.5 353.5,1176 353.5,1173.4 353.5,1167.6 353.6,1141 353.7,1181.2 353.8,1181.2 353.9,1180.5 353.9,1169.6 354.3,1178.3 354.4,1158.8 354.5,1180.5 354.6,1128.8 354.7,1172.7 354.8,1179.9 355.2,1162.4 355.2,1180.7 355.6,1126.4 355.9,1157.7 356,1173.4 356.1,1138.9 356.5,1176.2 356.8,1165.7 357.3,1144.7 357.5,1176.2 357.8,1145.4 358.3,1174.8 358.4,1176.5 358.4,1168.8 358.9,1177.5 358.9,1129.9 359.3,1176.6 359.7,1176.4 359.7,1176.7 359.8,1178.7 359.9,1167.4 360.1,1162.1 360.3,1173.6 360.4,1175.1 360.6,1170.6 360.6,1146.3 360.8,1181.2 361.1,1124.2 361.1,1135 361.1,1180.2 361.3,1176.7 361.4,1135.8 362,1135.4 362.1,1167.4 362.3,1134.1 362.5,1181.5 362.8,1130.5 363,1180.9 363.3,1152.1 363.7,1172.9 363.8,1179.3 364.1,1171.7 364.4,1165.1 364.4,1148.1 364.9,1130.8 365.2,1142.2 365.2,1150.5 365.3,1141 365.5,1181.4 365.7,1130.7 366.2,1177.2 366.7,1158.9 366.8,1170.4 366.8,1174.1 366.9,1131.2 367.2,1127 367.3,1178.2 367.4,1176.3 367.5,1155.5 368,1179.5 368,1180.4 368.1,1139.6 368.4,1131.3 368.5,1129.1 368.6,1181 369,1173.1 369.1,1179.4 370.1,1178.9 370.3,1133 370.4,1180.8 370.6,1181.3 370.8,1170.1 370.9,1173 371.1,1169.3 371.8,1139.3 371.8,1180.4 372.3,1137.1 372.3,1168.2 372.3,1171.5 373.1,1172.7 373.4,1167.6 373.6,1170.1 373.8,1169.1 374,1176.3 374,1181.1 374.8,1140 374.8,1168 374.9,1180.6 375.3,1175.3 375.7,1174.7 376.4,1181.4 376.4,1180.5 376.4,1179.2 376.4,1169 376.6,1160.9 377,1175.2 377.1,1181.4 377.5,1180.5 378,1145.3 379.7,1169.6 380.2,1140.3 380.7,1162.4 380.9,1159.9 381.1,1179.3 381.4,1173.7 381.6,1171.6 381.8,1140.3 382.6,1162.4 382.8,1171 383.2,1180.2 383.2,1163.5 383.4,1179.6 383.4,1180.1 383.4,1181.3 383.5,1159.5 383.6,1165.3 383.6,1172.7 383.8,1168.7 384.2,1178.5 384.3,1166.4 385.1,1149.3 385.2,1163.6 385.3,1176.5 385.3,1179 385.8,1144.8 386,1174.3 386.2,1173 386.2,1168.2 386.6,1176.9 386.9,1176.9 387.2,1143.3 387.2,1161 387.2,1142.9 387.4,1173.4 387.6,1177.9 387.7,1159.2 387.8,1149.7 388.1,1174.4 388.2,1169.7 389.4,1148 389.6,1173.9 389.6,1146 389.8,1170.1 390.7,1180.8 391,1175.3 391.4,1178.2 391.7,1181.2 391.7,1179.9 392.2,1163.9 392.4,1180 392.4,1168 392.5,1173.9 392.5,1176.8 392.6,1175.2 392.9,1179.8 393,1178.6 393.5,1179.9 394.7,1181.6 395.1,1180.8 396.1,1154.9 396.2,1146.3 396.7,1170.5 397.7,1146.5 398.3,1160.9 398.6,1145.3 399.2,1168.8 399.3,1169.2 399.3,1164.3 399.4,1181.3 399.4,1178.9 399.5,1176 399.9,1176 400.5,1156.1 400.8,1178.4 401,1153.9 401.5,1180.8 401.5,1164.2 401.6,1177 401.6,1172 401.8,1180.3 402.2,1172.8 402.3,1181.4 402.6,1180.1 402.7,1146 402.7,1149.8 403.6,1179.8 403.6,1164.7 403.8,1164.2 403.9,1167.3 404.4,1157.3 404.4,1180.4 404.4,1173.1 404.6,1149.6 404.6,1177.7 404.6,1167.6 404.7,1179.6 404.9,1167.6 406.5,1178.4 406.5,1175.2 406.9,1171.2 407,1167.6 407.2,1178.1 407.3,1174.7 407.5,1152.9 407.6,1180.2 407.6,1174.1 407.8,1175.8 407.9,1180.4 408.1,1173.7 408.7,1181.2 408.9,1155.4 409.4,1177.3 409.6,1150.1 410.5,1181.6 410.5,1173 410.7,1167.2 411.1,1167.6 411.5,1176.2 412.1,1167.6 412.4,1145.4 412.6,1181.1 412.7,1165.9 412.9,1178.8 413.3,1144.5 413.4,1175 413.8,1172.2 414.1,1178.6 414.4,1150.1 414.4,1172.3 414.5,1180.8 414.6,1153.2 414.8,1175.5 414.9,1169 416,1167.6 417.4,1159.9 417.5,1176.5 417.6,1177.6 417.8,1175.3 417.8,1179.3 417.9,1175.3 418,1155.4 418,1174.9 418.1,1169.8 418.1,1167 418.7,1149.9 419.1,1148.3 419.5,1174.9 419.6,1181.5 419.8,1157.1 419.8,1181.1 420.4,1157.1 420.4,1173.2 420.8,1178.3 421.2,1167.6 421.6,1154.6 421.7,1170 421.8,1165.5 422,1169 422.1,1179.5 422.4,1169 423.2,1148 423.5,1176 423.6,1178.7 423.7,1180.7 425.3,1167.6 426.1,1173.4 426.2,1162.1 426.4,1177.4 426.7,1152.8 426.9,1161.9 427.1,1179.2 427.4,1141.2 427.5,1160.1 427.7,1167.6 427.8,1179.2 428.3,1167.6 428.4,1167.1 429.1,1180.1 429.3,1147.9 429.4,1178.2 429.7,1159.8 430,1177.4 430,1170.5 430.4,1151.3 430.5,1132.6 430.5,1155.9 430.5,1167.6 430.6,1167.6 430.7,1165.7 431.9,1141.3 432.3,1181.3 432.6,1133.3 432.7,1139.9 432.7,1156.6 432.9,1173 433.3,1179.4 433.4,1156.1 433.8,1159.3 434.1,1145.5 434.1,1176.6 434.3,1171.8 434.3,1170.7 434.5,1125.5 434.5,1159.7 434.6,1179.6 434.6,1174.9 434.8,1171.7 434.8,1173.2 434.8,1145.9 434.8,1167.6 435,1177.9 435.1,1172.5 435.1,1152.4 435.1,1179.6 435.2,1123.4 435.3,1152.9 435.3,1178.4 435.9,1125.6 435.9,1167.8 436.1,1173 436.8,1125.8 437,1169 437.1,1122.2 437.1,1133.4 437.5,1158.6 437.7,1127.7 437.7,1177.7 437.8,1158.2 438,1163.3 438.3,1167.6 438.3,1167.7 438.5,1179.7 438.6,1139.6 438.9,1117.9 439,1181.1 439.2,1162.3 439.4,1161.1 439.6,1168.1 439.6,1167.6 439.6,1160.9 440.3,1181 440.4,1179.6 440.6,1119.5 440.6,1178.6 440.9,1179.1 441.1,1181.1 441.4,1171.5 441.6,1180.3 441.6,1167 441.7,1163 441.8,1117.3 441.9,1176.7 441.9,1173.5 442,1181.4 442,1153.6 442.4,1118.2 442.7,1164.3 443.2,1178.8 443.2,1142.4 443.6,1171.7 443.9,1170.2 444.2,1180.3 444.3,1180.5 444.3,1180.6 444.4,1177.3 444.9,1177.1 445,1116.4 445.5,1181 445.7,1180.8 446.6,1171.8 446.7,1175.8 446.8,1153.7 447.1,1154 447.5,1121.5 448.1,1169.7 448.5,1177.2 448.9,1115.7 448.9,1175 449,1126.3 449.1,1134.1 449.6,1134.7 449.7,1166.9 449.8,1171.1 450,1104.3 450.2,1137.5 450.3,1167.8 450.3,1152 451,1178.8 451.3,1180.5 451.4,1162 451.4,1179.3 451.7,1176.2 451.7,1123.7 451.8,1180.5 452.4,1174.6 452.4,1181.4 452.6,1176.5 452.6,1145.8 452.7,1170 453,1134.3 453.1,1178.9 453.1,1153.3 453.2,1150.5 453.2,1173.5 454.1,1181 454.2,1138.5 454.3,1180.7 454.4,1140.1 454.6,1180.7 454.8,1181.4 454.9,1176.9 455.1,1170.1 455.1,1137 455.4,1178.1 455.7,1123.7 456,1179.5 456.1,1176 456.9,1161.9 457.1,1164.7 457.1,1151.8 457.4,1172.4 457.5,1174.8 457.5,1151 457.7,1173.5 458,1168.1 458,1125.8 458.1,1161.5 458.6,1156.9 458.8,1180.4 458.8,1170.5 459,1148.7 459.1,1147.5 459.5,1178.5 459.8,1145.1 459.9,1178.9 460.2,1121.2 460.3,1138.3 460.4,1181.4 460.5,1176.9 460.8,1162.9 461,1179.6 461.1,1180.9 461.2,1178.5 461.5,1154.6 461.7,1172.3 461.8,1180.4 462.2,1124.5 462.7,1174.3 462.9,1179.8 463.3,1170.5 463.6,1130.1 463.7,1176.8 463.7,1179.6 464,1180.4 464.5,1128.9 464.6,1179 464.9,1178.5 465,1166.5 465.3,1179.4 465.3,1162.4 465.8,1133.2 466,1177.9 466.1,1172.9 466.1,1178.5 466.8,1136.6 467.5,1166.8 467.6,1166.6 468.1,1180.9 468.2,1173.9 468.2,1171.9 468.3,1177.8 469.4,1128.5 469.7,1144.8 470.3,1136.1 470.6,1154.3 470.9,1151.1 471,1179.4 471.3,1165.2 471.9,1180.4 472,1137.5 472.1,1175 472.4,1178.1 472.6,1177.5 473.1,1160.9 473.5,1163.9 473.7,1172.5 473.7,1180.7 473.7,1136.6 473.8,1143.9 473.9,1177.4 474.3,1168.4 474.5,1162.6 474.6,1177.7 474.8,1165.2 474.9,1162.3 474.9,1135.6 475,1176.5 475.1,1171.8 475.6,1164.9 475.8,1132.2 476.4,1181.1 476.7,1149.5 477.2,1179.8 477.4,1126.6 477.5,1177.5 477.6,1177.5 477.7,1178.3 477.9,1176.5 478.3,1151.2 478.4,1170.2 478.5,1157 478.9,1150 478.9,1131.3 478.9,1177.1 479,1148 479,1175.2 479.1,1177.9 479.3,1154.6 479.9,1171.6 479.9,1173.5 480,1167.6 480.2,1157.2 480.3,1175.1 480.5,1177.7 480.5,1130.3 480.7,1176.4 480.8,1171.1 480.9,1167.9 481,1127.9 481.9,1173.8 481.9,1124.6 481.9,1172.3 482.4,1174.8 482.4,1179.2 482.4,1178.6 482.7,1180.1 482.8,1130.4 483,1176.1 483.4,1165.9 483.5,1168 483.9,1146.4 483.9,1181.1 484.4,1170.5 484.4,1177.9 484.5,1157.9 484.6,1171.5 484.6,1136.7 484.7,1170.2 484.8,1154.9 485.1,1177.9 485.1,1181 485.2,1176.2 485.5,1167.6 485.6,1172.4 485.7,1179.2 485.9,1144.7 486,1178.1 486.1,1176.5 486.2,1167.6 486.2,1169.3 486.3,1177 486.5,1177.4 486.6,1159.8 486.6,1124.2 486.8,1134.8 486.9,1139.1 486.9,1178.5 487.1,1176 487.4,1167.1 487.6,1172.5 487.9,1167.6 488.1,1178.7 488.2,1179.5 488.6,1144.6 488.8,1167.6 489.1,1149.1 489.4,1148.8 489.5,1157.5 489.7,1143.8 489.9,1168.1 490.5,1153.3 490.7,1179.7 490.8,1166.4 491,1163.7 491,1163.5 491,1127.8 491.1,1145.6 491.4,1151.3 491.8,1125.3 491.9,1123 492.1,1175.4 492.2,1169.5 492.4,1179.6 492.5,1177.1 492.6,1165.6 492.6,1174.4 492.9,1170.9 493.1,1173.4 493.3,1158.3 493.4,1179.5 494,1159.4 494.1,1171.4 494.1,1131.2 494.2,1153.2 494.6,1151.9 494.8,1134.8 494.9,1141.7 495.1,1158.6 495.5,1181.3 496,1159 496.2,1170.8 496.3,1179.6 496.6,1162.8 496.7,1172.8 496.9,1151 497.2,1127.5 497.3,1167 497.5,1131.3 497.9,1167.6 497.9,1181.3 497.9,1143.3 498.3,1168.6 498.4,1138.9 498.4,1120.4 498.8,1155.5 499,1147.6 499.1,1155.4 499.4,1170.5 499.5,1166.8 499.7,1123.5 499.7,1124.1 500.2,1146.5 500.4,1174.1 500.5,1122.6 500.6,1180.3 501.5,1174.1 501.6,1178.9 501.7,1168.4 501.7,1142.3 502,1174.8 502.2,1162.6 502.3,1151.6 502.6,1179.1 502.7,1173 502.7,1168.4 502.8,1179.5 502.9,1179.9 503,1174.5 503.2,1177.7 503.3,1119.5 504,1173.9 504.1,1181.6 504.2,1146.4 504.6,1163.6 504.8,1141.7 504.8,1176.6 505.4,1176.1 505.6,1173.6 505.8,1158.4 506.2,1136.1 506.4,1175.8 506.8,1177.6 506.8,1179.8 507.6,1181.3 508.2,1178.5 508.4,1173.4 508.6,1143.2 508.7,1175.9 509.2,1173.8 510.2,1177.1 510.3,1133.2 510.5,1177.7 510.6,1180.9 510.8,1175.1 510.9,1165.7 510.9,1177.5 511.3,1135.9 511.3,1181.6 512.1,1178.4 512.4,1176.3 512.6,1172.5 512.9,1181.6 513,1150.1 513,1164.2 513.2,1167.6 513.4,1159.3 513.9,1173.1 514.4,1177.1 514.8,1167.8 515,1174.7 516,1181.3 516.7,1178.3 517.1,1181.2 517.5,1177.9 517.8,1178.5 518,1181.1 518.5,1158.9 518.7,1165.9 518.8,1162.9 518.8,1177 519.3,1138.4 519.3,1147.5 519.4,1178.5 519.4,1176.2 520.1,1153.1 520.7,1180.8 520.8,1170.1 521,1178.8 521.1,1131.4 521.1,1158 521.3,1131.7 521.6,1151 522,1163.6 522.6,1153.3 522.7,1174.8 523,1164.3 523.5,1177.4 523.5,1180.6 523.5,1171.8 523.6,1177.3 523.9,1136.6 524.1,1175.2 524.2,1158.7 524.3,1179.2 524.4,1174.9 524.5,1158.3 524.7,1166 524.9,1164.2 525.1,1178.7 525.2,1151.3 525.2,1166 525.4,1129.3 525.4,1147.9 526.6,1173.3 526.6,1169.5 526.8,1166.1 527,1134 527.3,1171 527.5,1177.3 528.3,1167.6 528.3,1132 528.5,1156.8 528.6,1159.7 529.2,1134.8 530.1,1175.2 530.2,1171.8 530.3,1166.8 530.5,1164.2 530.7,1160.5 530.7,1147.1 530.8,1151.5 531.5,1153.3 531.6,1151.4 532,1180.3 532.1,1177.1 532.5,1162.3 532.7,1166.1 532.8,1174.9 532.8,1173.5 532.9,1162.1 533.1,1177.7 533.3,1167.6 533.4,1177.3 533.6,1126.3 533.6,1150.6 533.6,1165.5 533.6,1177.4 533.8,1165.8 533.8,1162.9 534.6,1178.7 534.6,1138.8 534.7,1146.6 535.1,1131 535.3,1180.5 535.7,1158 535.7,1180.3 536.1,1163.3 536.3,1171.4 536.3,1153.1 536.5,1174.3 536.5,1157.7 536.6,1177.8 536.8,1177.2 537.2,1144.1 537.3,1152.6 537.3,1176.9 537.4,1169.6 538,1127.8 538.2,1179.8 538.4,1163.2 538.6,1170.5 538.7,1181.2 538.7,1133.6 538.7,1174.5 539.3,1157.3 539.3,1133.9 539.4,1155.3 539.4,1180.7 540.2,1140.9 540.3,1163.6 540.6,1127.7 540.6,1156.7 540.8,1168.8 541.2,1181.1 541.7,1177.2 541.8,1128 541.9,1174.2 542,1174.4 542.1,1160.3 542.3,1175.1 542.6,1167.6 542.9,1178.9 543.2,1177.2 543.5,1158.6 543.6,1169.3 543.7,1171.6 543.7,1137.9 543.8,1142.5 543.9,1159.9 544.2,1161.5 544.4,1177.2 544.5,1164.3 544.5,1161.9 544.6,1180 545.1,1172 545.3,1174.4 545.4,1180.3 545.5,1129.4 545.5,1177.5 545.6,1178 545.7,1177.9 546,1174.5 546.4,1171 546.7,1178.6 546.8,1161 547.5,1180.7 547.7,1181.5 547.8,1169 548.1,1168.2 548.2,1168.5 548.2,1173.5 548.4,1164.4 548.8,1171.6 549.1,1174.6 549.9,1177.1 550,1167.6 550.2,1178.1 550.3,1176 550.8,1174.9 551.1,1173.1 551.1,1175.4 551.4,1181.5 551.4,1178.2 551.7,1156.5 551.9,1179.8 552.4,1180.4 552.5,1180.2 552.5,1179.9 552.7,1141 552.9,1181.2 553.7,1170.7 553.7,1176.4 554.8,1181.2 555.9,1175.6 556,1178 556,1133.7 556.2,1130.8 556.4,1138.6 556.4,1149.2 556.8,1125.5 557.2,1176.7 557.2,1172.5 557.6,1180.6 557.9,1159.1 558.9,1171.4 559,1167.6 559.1,1163.7 560.5,1180.8 560.8,1170.5 561,1130.6 561.1,1180.1 561.1,1141.3 561.3,1171.7 561.5,1168.7 562,1161.9 562.1,1179 562.4,1127.1 563,1168.7 563.9,1174.4 563.9,1177.9 564.1,1168.7 564.2,1149.6 564.9,1126.4 565.7,1178.5 565.9,1180.9 566.7,1136.6 567,1138.3 567.2,1167.6 567.3,1121 567.4,1179.6 567.8,1137.8 567.9,1173.6 567.9,1163.5 568,1178.2 568.1,1179.1 568.8,1140.2 568.9,1171.2 569.2,1181.1 569.7,1175.2 570,1144.8 570.1,1156.5 570.2,1173.3 570.5,1150.1 570.6,1143.7 570.8,1149.4 571.2,1154.9 571.2,1142.6 571.2,1181 571.2,1161.1 571.4,1181.6 571.6,1117.1 572.3,1158.5 572.6,1180.3 572.7,1167.1 572.7,1154 572.9,1177.3 573.1,1165.7 573.3,1167.9 573.4,1179.3 573.7,1165.2 573.8,1129.7 573.8,1159.9 574.4,1120.2 574.6,1170 574.6,1156.2 574.8,1157.9 574.8,1124.2 575.1,1120.1 575.2,1178 575.9,1179.9 576.1,1116.8 576.4,1180.5 576.6,1111.9 576.7,1176.2 576.8,1175.7 576.8,1110.8 577.3,1168.7 577.3,1155.5 577.3,1162.3 577.9,1176.9 578,1174.5 578.4,1114.3 579,1175.6 579,1178.9 579.1,1154.6 579.4,1179.4 579.4,1163.6 579.8,1113.3 579.8,1139.4 580.1,1177.2 580.4,1177 580.5,1173.7 580.6,1175.4 580.8,1141 580.9,1167.6 581,1175.1 581,1171.1 581.2,1180.8 581.4,1176.1 581.5,1172.1 582,1168 582.1,1179.6 582.4,1174.1 583.2,1144 583.4,1132.2 584,1154.9 584.1,1128.4 584.4,1174.5 584.9,1171.4 585.3,1168.9 585.7,1163 585.7,1152.9 586.3,1151.8 586.6,1171.8 586.8,1116.1 586.8,1176 587,1167.6 587.1,1169.3 587.4,1152.4 587.7,1176 588.1,1178.9 588.4,1168.4 588.7,1179.9 588.8,1138.9 589.1,1178.2 589.2,1179.4 589.3,1179.8 589.6,1175.9 589.6,1159.7 590.1,1175.9 590.1,1160.3 590.2,1149.4 590.3,1178.5 590.4,1181.5 590.7,1118 590.7,1179.9 591.2,1128.2 591.3,1156.9 591.3,1115.4 591.5,1161.8 591.5,1175.2 592,1176 592.2,1159.3 592.4,1145.7 592.5,1163 592.9,1179.5 593.2,1180.8 593.3,1157.2 593.4,1150.2 593.6,1180.2 594.1,1128.5 594.1,1178.2 594.2,1181.4 594.4,1118.2 594.5,1175.3 594.6,1130.7 594.8,1172 595,1168.8 595.3,1150.6 595.6,1129.8 595.7,1174.5 596.1,1167.3 597,1181.2 597.2,1174.3 597.4,1177.7 597.4,1176.9 597.5,1180 597.6,1148.9 597.7,1181.4 598.4,1151.5 599.1,1180.9 599.2,1176.6 599.6,1170.2 599.6,1124.5 600.2,1144.9 600.6,1129.5 600.7,1178.3 600.9,1180.1 601.3,1134.4 601.6,1161.2 601.8,1168.2 601.9,1178.7 602.2,1172.1 602.6,1173.4 602.6,1178.6 602.8,1149.2 602.9,1169.9 603.6,1137.2 603.6,1178.1 603.9,1140.1 603.9,1179 603.9,1161.6 604,1171.2 604.2,1134.4 604.3,1169.9 604.4,1130.5 604.7,1180.8 604.8,1178.1 604.9,1167.6 604.9,1120.7 605.2,1169.6 605.4,1167.1 605.5,1174.1 605.8,1149.5 605.8,1150.7 605.8,1170.6 606,1178 606.4,1119.8 606.6,1179.6 607,1136.8 607.2,1167.6 607.6,1178.7 607.7,1176.5 608,1163.1 608.1,1158.9 608.3,1118 608.5,1116.8 608.5,1170.2 608.6,1121.3 608.7,1140 608.8,1176.3 609.2,1180.5 609.8,1159.2 610.5,1176.6 610.7,1177.7 610.8,1181.3 611,1163 611.5,1167.6 611.5,1122.5 611.7,1172.3 612.1,1173.2 612.3,1150.5 612.5,1174 612.6,1147.4 612.6,1180.2 612.8,1173.5 612.9,1136.3 613,1181.1 613.2,1169.3 613.3,1167.6 613.4,1123 613.5,1168.9 613.5,1175.1 613.5,1172.4 613.8,1177.5 614.5,1160.1 614.7,1172.4 614.8,1128.6 615.3,1167.6 615.4,1175.6 615.9,1117 616.2,1138.9 616.3,1167.6 616.6,1169.3 616.6,1175 616.8,1166.2 617.2,1180.4 617.2,1177.7 617.4,1116 617.6,1132.8 617.7,1120.7 617.9,1126.2 618.2,1164.2 618.3,1168.4 618.4,1169.7 618.6,1177.2 619.2,1170.2 619.5,1158.1 620.4,1143.2 620.8,1115.4 621,1138.1 621.4,1145.6 621.6,1146.6 621.8,1160.4 621.8,1181.6 621.9,1134.1 622.3,1162.3 622.6,1141.5 622.6,1181.1 622.9,1152.9 623.4,1173.9 623.7,1178.9 623.7,1169.4 623.8,1174.9 624.1,1176.1 625.5,1177.4 625.5,1175.1 625.5,1117.4 625.7,1162.2 625.8,1165.4 625.9,1170.6 626,1162.5 626.2,1179.8 626.3,1174.1 626.4,1178.7 626.4,1167.6 626.7,1175.9 627.1,1119.3 627.5,1178.6 627.5,1167.6 628,1164.8 628.2,1125.8 628.3,1147.5 628.4,1162.4 628.4,1174.3 628.8,1178.3 629.3,1177.1 629.4,1178.6 629.4,1140.5 629.7,1165.9 629.8,1178.7 629.9,1179 629.9,1176.8 630.4,1174.6 631,1134.4 631.1,1161 631.1,1132 631.2,1169.4 631.3,1180.9 631.4,1138.9 631.4,1165.3 631.4,1170.5 631.5,1130.5 631.6,1180.8 631.9,1151.3 632,1153.3 632.2,1138.6 632.4,1180.2 632.4,1169.5 632.5,1124.3 632.8,1176.1 632.9,1170.8 633.1,1158.4 633.3,1166.7 633.4,1168.4 633.4,1176.5 633.6,1167.6 634.8,1134.4 635.1,1174.5 635.4,1176.8 635.5,1125.2 635.6,1133.9 635.7,1172.5 636.2,1176.8 636.3,1172.2 636.7,1171 636.7,1117.4 636.8,1175 637.8,1134.6 637.8,1164.5 638.3,1179.5 638.4,1175.9 638.4,1179.1 638.8,1178.8 638.9,1179.6 639,1171.7 639.3,1180.3 639.4,1176.4 639.5,1172.4 639.6,1180.3 639.7,1162 639.8,1122.8 639.8,1134.6 639.8,1162.3 640,1139.7 640.2,1119.8 640.2,1134 640.4,1180.3 640.5,1179.5 640.6,1177.5 640.9,1178.1 641.2,1157.9 641.3,1157.1 641.9,1176 641.9,1124.4 642,1136 642.1,1167 642.5,1148.1 642.5,1124.7 642.6,1168.8 642.8,1172.9 642.9,1175.2 642.9,1180.9 643,1168.2 643.2,1173.1 643.3,1164.2 643.4,1153.8 643.4,1155.1 643.5,1174.4 643.6,1179.8 644.2,1172 644.2,1136.8 644.2,1172.2 644.2,1130.3 644.8,1173 645.5,1164 645.7,1159.8 645.8,1164.1 645.9,1172.4 645.9,1177.3 646.2,1122.4 646.6,1142.1 646.8,1159.8 647,1160.6 647.1,1138.3 647.3,1181.1 647.3,1168.2 647.9,1124.8 648.2,1161.3 648.2,1180.3 648.6,1140.5 648.8,1152.1 649.3,1178 649.4,1136.9 650,1180.9 650,1181.2 650.1,1177.4 650.6,1172.2 650.8,1169 651.1,1157.4 651.2,1148.9 651.4,1169.6 651.7,1181.2 651.7,1167.2 652,1165.5 652.1,1177.5 652.1,1181.6 652.7,1139.4 653,1150 653.2,1176.8 653.5,1181.1 654.2,1120.2 654.8,1173.9 655.3,1178.2 655.5,1114.1 656,1120.6 656.1,1179.7 656.1,1165.2 656.2,1171.5 656.2,1144.9 656.8,1170.8 656.8,1179.4 657.1,1172.1 657.3,1180.9 657.8,1168.4 658.4,1174.9 659.2,1181 659.4,1167.6 659.7,1161.4 660.1,1175.6 660.4,1148.7 660.5,1151.4 660.8,1173.7 661.1,1170.3 661.3,1178.9 661.9,1130 661.9,1159.1 662.4,1178.3 662.4,1112.8 662.5,1125.5 662.6,1180.6 662.9,1161.6 662.9,1137.6 663.1,1180.1 664.5,1154.5 665.1,1131.7 665.7,1179.3 666,1180.7 666.4,1127.4 667.1,1181.6 668.5,1180.2 669,1179.8 669.1,1167.8 669.5,1167.6 669.6,1177.2 669.7,1142.1 669.8,1177.6 670,1124 670.8,1178 671.6,1181.1 671.8,1173.4 671.9,1170.7 672.2,1127.3 672.3,1142.7 672.8,1172.7 673,1177.8 673.4,1176.1 673.8,1175.8 674,1180 674.1,1132.5 674.5,1178.7 674.8,1176 675.3,1181 675.3,1180.5 675.9,1175.8 676,1181.5 676.2,1167.6 676.4,1145.8 676.6,1167.9 676.8,1163.4 676.9,1146 676.9,1151.3 677.7,1171.2 678.1,1175 678.4,1179 678.4,1181.4 678.9,1181 679.4,1160 679.7,1155.9 679.9,1153.6 680,1169.8 680.2,1180.5 680.2,1138.8 680.7,1136.8 680.7,1181.5 681,1166.1 681.2,1179.2 681.2,1131.9 681.3,1176.9 681.5,1175.2 681.7,1151.8 681.7,1142.3 681.9,1156.6 682.1,1155.7 683.1,1174.6 683.2,1131.3 683.5,1147.4 683.7,1148.9 683.9,1139.5 684.2,1163 684.4,1179.9 684.6,1179.7 684.8,1170.9 685.2,1181.5 685.3,1172.8 685.6,1174.2 685.6,1175.8 685.8,1178.9 685.9,1149.1 686,1162.4 686,1175.8 686.2,1176.2 686.5,1177.4 686.6,1160.1 687,1177.4 687.3,1181.2 687.4,1176.9 687.4,1173.9 687.5,1169.3 688,1173.6 688.2,1162.8 688.2,1168.9 688.4,1171.6 688.4,1174.6 689.3,1176.8 690,1149.7 690.1,1174 690.2,1171.2 690.3,1124.4 690.7,1172.7 690.8,1158.8 690.9,1181.1 691.7,1170 692.2,1180.9 692.3,1181 692.4,1165.7 692.4,1140.3 692.6,1146.9 693.9,1180.5 694.3,1176.6 694.5,1168.4 694.7,1176.4 694.7,1171.3 694.9,1172.6 695.1,1172.9 695.3,1171.3 695.4,1136.1 695.9,1163.2 696,1178.2 696.4,1167.6 696.9,1125 696.9,1129.7 697,1164.8 697,1171.8 697.4,1150.7 697.6,1176.1 697.6,1168.3 697.8,1162.9 698.3,1161.8 698.7,1179.8 699,1179.9 699.2,1146.2 699.6,1173.5 699.8,1176.2 700,1127.5 700.1,1137.2 700.1,1179.8 700.1,1143.1 700.6,1134.5 700.6,1154.7 701,1158.8 701.6,1167.2 701.7,1179.5 702.2,1134.1 702.3,1135.5 702.9,1179.6 702.9,1166 703.8,1175.7 703.9,1181.2 704.2,1120.8 704.7,1174.8 704.8,1163.7 705,1174.4 705.1,1158.9 705.3,1180 705.5,1178.2 705.6,1173.8 706.5,1137.2 706.6,1178.9 706.7,1181.2 706.8,1133.5 707.7,1121.5 707.7,1126.6 708.5,1178.6 708.6,1178.6 709.3,1180.1 709.5,1176.6 709.8,1167.7 709.9,1175.8 709.9,1174.5 710.3,1145.7 710.6,1175.2 711.2,1161 711.2,1181 711.6,1171.4 712,1171.7 712,1169.9 712,1180.5 712.4,1167.6 712.5,1180.5 712.9,1178.2 713.1,1168.6 713.7,1178.6 714.2,1180.7 714.2,1176.9 714.6,1175.5 714.8,1152.1 715.1,1181 715.1,1174.1 715.2,1148.9 715.2,1178.6 715.3,1174.4 715.9,1167.6 715.9,1167.6 716,1121.7 716.5,1180.7 716.7,1160.6 716.7,1121.1 717.3,1146 717.7,1177.6 717.8,1115 718.3,1174.4 718.4,1177.8 719.6,1178.4 720.1,1158.4 720.4,1179.8 720.5,1161.2 720.9,1148.2 720.9,1176 721,1171.4 721.7,1174.2 722.8,1162.8 722.9,1142.3 723,1111.2 723,1112 723.1,1131.4 723.3,1168.2 723.3,1116.5 723.4,1179.2 723.5,1165.5 723.5,1110 723.6,1179.4 723.8,1167.7 724.4,1131 724.4,1148.6 724.6,1170.6 724.7,1152.7 725.6,1181.6 725.6,1146.4 725.8,1126.9 725.9,1169.5 726,1176.7 726,1176.7 726.7,1114.5 726.9,1178.7 727.1,1180.6 727.2,1178.6 727.5,1116.4 727.6,1161.4 727.8,1177.6 727.8,1119 727.9,1121.3 728.1,1180.7 729,1176.5 729.1,1153.4 729.8,1179.8 730.2,1159.3 730.3,1171.9 730.5,1160.1 730.6,1173.2 731,1172.5 731.3,1179.1 731.4,1152.6 731.4,1180 731.5,1181.4 732,1177.4 732.2,1179.7 732.6,1169.4 732.7,1110.1 733.1,1128.8 733.2,1181.1 733.4,1167.6 733.5,1163.4 733.5,1175.8 733.6,1181.4 734.2,1176.4 735.2,1155.3 736,1180.3 736,1131.4 736.4,1143.7 736.4,1159.2 736.8,1179.8 737.3,1107.8 737.4,1173 737.9,1180.1 737.9,1143.2 738.6,1167.6 738.8,1151.6 739,1164.3 739.5,1132.2 739.6,1166.7 739.7,1169.9 739.7,1164.2 740.2,1175.4 740.3,1169 740.5,1180.8 740.6,1171 740.7,1180.6 741.4,1178.5 741.6,1107.6 741.8,1134.1 742,1136.5 742.2,1168.6 742.3,1174.1 742.4,1181 743.1,1125 743.7,1167.6 743.8,1169.6 743.9,1105 744,1151.5 744.4,1136.2 744.5,1181.4 744.9,1117.6 744.9,1179.3 745.2,1133.7 745.4,1125.4 745.4,1151.2 745.5,1135.2 745.8,1164.2 745.8,1146.2 745.9,1180.8 746,1111.7 746,1178.4 746.7,1177.4 747.3,1152.3 747.5,1133 747.5,1098 747.9,1170.2 747.9,1163.3 748.7,1180.9 748.8,1140.7 748.9,1175.5 748.9,1104.3 749,1179.9 749.4,1173.8 750.3,1175.9 750.4,1169.4 750.5,1179.1 750.6,1167.6 750.9,1168.9 751.9,1159.2 751.9,1172.9 752.2,1113.5 752.3,1166.8 752.3,1176.8 752.4,1171.9 752.6,1159.5 752.6,1118.3 752.7,1162.7 752.7,1112.8 753.1,1159.5 753.4,1177.7 753.8,1178.4 753.9,1181.2 754,1167.6 754.2,1165.6 754.7,1165.9 754.8,1171.5 755.4,1177.1 755.5,1175 755.5,1167.6 755.7,1178.1 755.9,1181.1 756,1181 756,1181.4 756.3,1176.9 756.9,1174.8 757.2,1179.1 757.3,1181.2 757.5,1179.9 757.9,1173 758.1,1150.3 759.2,1178.7 759.9,1177.3 760.4,1173.8 760.5,1178.5 761.1,1175.9 761.2,1117 762.4,1157.8 762.9,1173.9 763.3,1125.2 763.8,1171.5 764.3,1177.9 764.5,1180.7 764.8,1177.7 765.3,1181.2 765.3,1172.3 765.4,1176.4 765.6,1175.5 765.6,1121.2 765.7,1177.5 766.3,1136.5 767.3,1175.4 767.3,1181.4 768.1,1176 768.2,1172.1 768.3,1164.7 768.9,1152.7 768.9,1151.5 769.1,1181.2 769.1,1177.2 769.1,1180.8 769.5,1148.5 769.6,1181.3 769.7,1176 769.8,1131.9 770.2,1122.3 770.9,1179.2 770.9,1163.2 771.2,1178.1 771.6,1137.8 771.7,1153.5 771.8,1144.7 772.1,1151.9 772.2,1168.1 772.2,1175.7 772.2,1172.9 772.3,1174.5 772.4,1146.1 772.4,1173.6 773.2,1139.8 773.2,1140.2 773.2,1180.7 773.7,1173.6 774,1178.8 774.5,1174 774.6,1164.6 775.1,1155.4 775.2,1145.2 775.2,1173.7 775.2,1118.2 775.4,1152.3 775.4,1165.7 775.5,1170.6 775.7,1157.5 775.8,1169.9 776.2,1114.8 776.3,1179.2 776.5,1172.9 776.5,1180.1 776.8,1163.2 776.9,1173 777,1167.6 777,1180.6 777.3,1120.4 777.4,1176.5 777.5,1129.1 777.7,1170 778,1174.2 778.3,1180.8 778.8,1123.3 779.8,1179.4 780,1167.6 780.2,1146.4 780.5,1181.4 781.2,1153 781.4,1170.7 781.8,1181.6 782.2,1177.4 782.3,1176.6 782.6,1127.4 782.6,1142.6 782.8,1118.8 782.8,1150.6 783.3,1181.4 783.4,1167.6 783.6,1121.7 783.7,1155.9 783.8,1120.9 783.8,1180.7 783.9,1167.5 784.4,1178.7 784.5,1176.2 784.5,1149.2 784.7,1180.7 784.7,1132.9 784.8,1160.7 784.9,1176.5 785,1177.9 785.5,1123.6 785.9,1131.1 786.1,1170.5 786.3,1171.7 786.3,1178.7 786.4,1131.6 786.6,1170.3 786.7,1135.7 786.9,1169.8 787.4,1178 787.7,1178.7 787.7,1180.8 788.3,1162 788.4,1180 788.4,1166.3 789,1137.8 789.4,1136.1 789.8,1179.5 789.8,1169.5 789.9,1164.5 790.2,1145.2 791.5,1130.8 791.6,1167.6 791.9,1163.6 791.9,1181.1 792.6,1161 793.4,1126 793.6,1154.9 793.9,1160.3 794.2,1180.5 794.5,1173.8 794.5,1181.2 795.7,1172.7 796.1,1152.1 796.3,1172.3 796.4,1180.8 796.4,1177.3 796.5,1163.6 796.5,1177.5 796.7,1162 796.8,1158.1 796.9,1167.6 797.1,1165.4 797.4,1165.5 797.5,1155.7 797.7,1166.8 797.8,1181.5 797.8,1164.3 797.8,1174.5 798,1152.3 798.1,1179 798.3,1167.1 798.4,1171.7 798.4,1177.8 798.5,1139 799.3,1177.4 799.5,1135 801.1,1161.8 801.1,1180.1 801.7,1147.4 801.7,1133.1 802,1178.9 802.1,1141.6 802.2,1176.2 802.3,1138.5 802.7,1180.9 802.8,1177.8 803.3,1175.6 803.6,1181.3 804.3,1157.7 804.4,1174.3 804.4,1166.8 804.7,1175.3 805.1,1176.4 805.2,1143.7 805.4,1180.6 805.4,1179.4 805.6,1141.4 805.9,1156.5 806.1,1142.4 806.2,1177.1 806.3,1176.3 806.4,1154.3 806.6,1179.9 806.7,1175.6 806.9,1175.1 807.3,1140.2 807.3,1167.1 807.5,1178.6 807.5,1181.5 807.6,1150.9 807.7,1177.9 807.9,1167.8 808,1177.8 808.2,1162.9 808.7,1154 809.1,1175.4 809.1,1145.9 809.2,1180.9 809.7,1181 809.9,1150.5 810.4,1166 810.4,1163.9 811.1,1174.7 811.1,1176.7 811.2,1173.7 811.4,1167.6 811.5,1170.7 811.6,1180.1 811.7,1165 812.1,1181.3 812.1,1139.5 812.3,1170.9 812.4,1142.4 812.5,1172.1 812.5,1143.6 812.6,1180.5 812.6,1180.8 812.7,1151 812.9,1165.7 813.1,1176.8 813.1,1150.5 813.3,1161.9 813.4,1155.2 813.4,1177.2 813.5,1150.2 813.5,1174.2 813.6,1165.8 813.8,1156.9 813.8,1176.7 814,1179.5 814.7,1175.7 814.9,1166.6 815,1159.8 815,1174.5 815.3,1159 815.3,1181.1 815.3,1166.1 815.6,1180.9 815.6,1169.3 815.7,1152.5 815.9,1178 816,1175.5 816.1,1148.8 816.3,1176.7 816.4,1176.7 816.5,1166.1 816.7,1179.1 816.7,1176.8 816.7,1170.2 816.8,1180.2 817,1178.2 817,1178.5 817.1,1180.2 817.4,1176.4 817.4,1174.9 817.5,1177 817.6,1167.6 817.6,1147 817.8,1155.7 818.2,1176.5 818.2,1178.6 818.4,1174.4 818.4,1172 818.6,1180.4 818.9,1171.3 818.9,1169.6 818.9,1167.6 819.1,1153.5 819.1,1177.5 819.1,1176.7 819.2,1157.9 819.7,1179.8 819.7,1153.4 820,1148.6 820.1,1181.3 820.2,1172.2 820.2,1164.6 820.3,1180.6 820.6,1166.8 821,1181.5 821.4,1177.7 821.6,1175.5 821.7,1177.8 823,1169.9 823.1,1180.5 823.2,1172.3 823.7,1180.4 823.7,1176.8 824.1,1172.6 825.6,1150.7 825.6,1173.5 826.1,1181.1 826.3,1162.9 826.3,1181.1 827.3,1180 827.3,1176.1 827.9,1170.7 828.3,1167 828.6,1179 828.7,1176.5 828.7,1176 828.8,1180.5 828.8,1166.8 829.4,1155.5 829.5,1176.1 829.8,1163.7 829.8,1155 829.8,1167.6 830.1,1176.2 831,1181.1 831.3,1177.4 831.5,1179.1 831.6,1165.2 831.9,1181.2 832.7,1162.8 833,1178 833.1,1160.6 833.3,1175.8 833.5,1175 833.7,1176.1 833.8,1155.6 833.8,1172.9 833.9,1177.2 834.7,1171.9 834.8,1175 835.3,1170 835.4,1166.6 836.1,1177.2 836.1,1151.8 836.2,1173.5 836.3,1177.4 836.5,1180.6 836.5,1154.6 836.6,1162.2 836.6,1174.5 837.3,1167.6 837.4,1180.4 837.7,1176.1 837.7,1178.3 837.9,1180.3 838.1,1173.7 838.2,1178.5 838.4,1167.6 838.5,1162.9 838.6,1174.8 838.6,1173.3 838.6,1175.4 838.7,1178.4 839.7,1173 840.2,1174.1 840.2,1166.2 840.3,1170.4 841.1,1160.6 841.2,1174.8 841.2,1171.5 841.3,1178.4 841.3,1180.4 841.4,1155 842,1170.8 842.3,1177.2 842.5,1170.9 842.5,1170.7 842.9,1159.2 842.9,1177.3 843,1155.4 843,1180.9 843.3,1150.7 843.4,1170.9 843.6,1172.4 843.6,1172.2 843.9,1167.6 844,1157.9 844.2,1179.6 844.3,1161 844.4,1168.2 844.4,1172.9 845.3,1167.6 845.3,1174.1 845.4,1152.2 846,1167.6 846.3,1175.7 846.3,1173.3 846.5,1162.7 846.6,1175 847.2,1180.8 847.9,1174.9 847.9,1180 848,1175.7 848.3,1167.6 848.6,1172 848.7,1160 849,1152 849.3,1164.3 849.3,1164.7 849.6,1176.4 849.6,1174.5 849.6,1181.4 850.4,1167.6 850.7,1178.7 850.7,1151.7 850.8,1163.9 850.9,1164 851.3,1159.5 853.3,1152.5 853.8,1173.2 854.3,1175.9 854.3,1179.3 854.3,1157.5 854.6,1160.3 854.8,1180.6 855.3,1176.7 856.2,1167.6 856.5,1152.5 856.7,1169.9 856.9,1169.3 856.9,1171 857.4,1181.2 857.4,1172 857.5,1167.6 857.7,1181.3 857.9,1177.9 858.2,1166 858.4,1169 858.7,1172.7 859,1170.1 859,1177.8 859,1168.2 860.1,1177.9 860.6,1173.2 860.7,1177.9 860.8,1178.3 860.8,1159 861.5,1167.6 862,1173.6 862.1,1178.9 862.2,1164.2 862.4,1165.4 862.4,1171.1 862.6,1151.7 862.7,1167.6 863,1179.7 863.3,1177.3 863.7,1177.5 863.8,1181.3 863.8,1159 863.9,1158.5 864,1163.3 864.1,1167.6 864.2,1167.6 864.3,1172.4 864.4,1177.3 864.4,1170.9 864.6,1150.4 864.7,1156.1 865,1164.2 865,1181.3 865,1167.6 865.1,1151.6 865.3,1161.5 865.7,1158.1 865.8,1176.8 866.8,1160.4 867,1164.6 867,1164.5 867.2,1180.4 867.2,1169.2 867.4,1166.2 867.4,1165.3 867.5,1177.3 867.5,1166.8 867.5,1161.5 867.7,1165.4 867.9,1176.6 868.2,1163 868.6,1163 868.9,1165 869.4,1177.8 869.8,1179.1 869.8,1179.4 869.8,1172.3 870.1,1180.4 870.4,1161.5 870.7,1177.8 870.9,1174 871.1,1164.5 871.2,1175.8 871.3,1178.5 871.6,1178.9 871.7,1180 871.9,1164 872.2,1170.5 872.4,1179.2 872.8,1165.1 873.2,1174.3 873.7,1175.6 873.8,1177.7 874,1168.8 874.2,1180.1 874.3,1150.8 874.5,1174.8 876.3,1180.1 876.3,1176.2 877.1,1173.5 877.2,1176 877.3,1180.4 877.7,1172.5 878,1173.1 878.7,1159 878.8,1174.3 879.1,1162.9 879.3,1179.7 879.6,1171.5 880.5,1173.2 880.8,1176.7 880.8,1159.8 880.9,1167.6 881.4,1175.5 882.1,1172.8 882.1,1157.7 882.3,1170.8 882.6,1177.1 882.7,1180.7 882.7,1175.9 883,1173.4 883.4,1180.3 884.1,1180.3 884.7,1163.7 884.8,1175 884.9,1169.6 885.1,1177.3 885.1,1177.2 885.2,1176.6 885.5,1169 886,1173.5 886.5,1170.8 886.8,1175.7 886.9,1160 887,1178.9 887.1,1160.9 887.2,1156.7 887.4,1165 887.5,1151.6 887.8,1175.8 887.8,1175.9 887.9,1170.3 887.9,1181.4 888,1177.9 888.4,1161.6 888.4,1178.9 888.7,1162.1 889,1171.8 889.1,1155.4 890,1179 890.3,1179.5 890.4,1177 890.5,1181 890.7,1178.4 890.7,1179.9 890.9,1174.9 891.5,1177.7 891.9,1179.5 892.1,1154.6 892.1,1167.6 892.2,1176.6 892.5,1175.3 892.8,1168.5 893.4,1180.6 893.6,1163.6 893.9,1172.6 894.4,1174.9 894.4,1173.8 894.4,1174.6 895.3,1180.2 895.5,1180.8 895.6,1176.1 895.9,1181.2 896.1,1154 896.6,1174 896.8,1173.9 896.9,1172.2 896.9,1170.5 897.1,1166.7 897.1,1161.4 897.3,1167.1 897.4,1180.3 897.5,1181.6 897.8,1164.7 898.1,1169.8 898.2,1167.6 898.4,1175.1 898.4,1179.7 898.9,1169.5 899,1177.3 899.4,1157.9 899.6,1179.1 899.7,1179.5 899.7,1161.1 899.9,1173.4 899.9,1176.1 900.3,1175.6 900.8,1180.3 900.8,1177 901,1170.8 901,1177 901,1179.6 902.3,1173.9 902.3,1175.3 902.7,1179.2 903,1174.4 903.3,1175 903.5,1164.3 903.6,1156.4 903.7,1176 903.9,1171.8 903.9,1178.3 904,1166.4 904,1164.6 904.1,1155.7 904.1,1158.9 904.2,1175.9 904.3,1165.1 904.3,1169.6 904.3,1172.7 904.6,1165 904.6,1161.2 905.3,1167.6 905.4,1177.4 905.5,1177 905.6,1176.8 905.8,1180.1 905.8,1172.3 905.9,1162.4 906,1166 906.3,1178.1 906.5,1152.9 907,1157.7 907.2,1161.7 907.3,1181 907.8,1158.4 907.8,1163.4 907.8,1160.3 907.9,1153.5 907.9,1170.2 908,1159.5 908,1161.9 908.1,1177.8 908.2,1154.8 908.2,1153.7 908.2,1166.1 908.5,1171.1 908.7,1153.6 908.8,1158.2 909,1155.7 909.2,1181.3 909.6,1170.9 909.7,1175.8 910.4,1159.2 910.4,1175.3 910.5,1168.7 910.9,1170.5 911,1178.8 911.4,1160.9 911.5,1178.6 911.5,1173.1 911.5,1178.2 911.9,1180.7 911.9,1164.4 911.9,1175.2 912,1168.6 912.1,1153.9 912.2,1176.4 912.2,1167.6 912.4,1158 913.1,1156.5 913.1,1173.2 913.3,1179 913.6,1181.3 913.7,1160.2 913.7,1169.3 914.2,1176.7 914.3,1181.1 914.5,1177.9 914.6,1169 915.1,1166.2 915.3,1169.4 915.6,1155 915.6,1180.3 915.6,1179.2 915.7,1177 915.8,1167.6 916.1,1177.5 916.2,1172.8 916.6,1181.5 916.9,1158.1 917,1171.5 917.2,1181 917.2,1162.3 917.5,1171 918.7,1177.5 918.9,1178.9 918.9,1170.5 919,1168 919.4,1180.5 919.8,1180.3 919.9,1180.5 920.1,1172.2 920.6,1177.5 920.8,1158 921.3,1172.1 921.5,1173.5 922.1,1169.9 922.3,1181.1 922.6,1159.3 922.7,1171.1 922.8,1176.3 923.1,1181 923.2,1172.7 923.9,1173.6 924.1,1177.4 924.2,1179.2 924.5,1179.7 924.5,1177.3 924.7,1169.6 924.8,1171.8 924.9,1175.5 925,1167.6 925.6,1179.8 925.6,1169.1 926.1,1179.7 926.2,1164.3 926.2,1178.9 926.2,1180.2 926.2,1179.7 926.3,1181.3 926.5,1159.2 926.9,1172.7 926.9,1163.1 927.7,1179 927.9,1174.1 928,1176.9 928.1,1177.1 928.2,1174.4 928.4,1181 928.4,1175.7 928.5,1171.1 928.6,1176.2 928.9,1180.7 929,1170 929,1173.5 929,1165.3 929,1180 929.2,1177.6 929.4,1177.3 929.4,1175.6 929.5,1173.3 929.7,1176.7 929.9,1160.9 930,1170.3 930.1,1160.5 930.2,1167.6 930.4,1163.7 930.5,1172.3 930.6,1167.4 930.7,1178.4 931.5,1177.9 931.5,1163.7 932.3,1181.4 932.6,1180.5 932.8,1178.5 932.8,1175.7 932.9,1175.4 932.9,1180.4 932.9,1179.4 932.9,1173.7 933,1167.1 933,1177.9 933.1,1169.6 933.2,1175.4 933.3,1166.6 933.3,1164.4 933.4,1169.2 933.5,1168.4 933.5,1166.9 933.8,1170.5 934.2,1163.5 934.3,1170 934.4,1170.4 934.9,1177.8 935,1167.6 935.4,1171.3 935.4,1177.3 935.4,1171.9 935.6,1181.2 935.6,1169.3 936,1169.1 936.2,1178.7 936.4,1169.2 936.5,1166.9 936.8,1168.1 937,1169.8 937.5,1180.3 937.5,1177.3 938,1177.6 938.4,1180.6 938.6,1177 938.6,1171.8 939,1173.8 939,1174 939.2,1176.7 939.2,1178.3 939.3,1178.4 939.4,1175.5 939.5,1173.8 939.8,1180.5 939.9,1181.1 940,1174.7 940,1175.7 940,1180.1" fill="none" stroke="none" marker-start="url(#bnavy)" marker-mid="url(#bnavy)" marker-end="url(#bnavy)"/>
<polyline points="558.8,948.4 396.6,1092.5 383.5,1125.5 443.4,1089.2 310.4,1081.4 317.7,1088.7 199.4,1063.8 479.9,1115 477,1131 535.4,1134 593.9,1145.6 779.2,900.8 837,1117.3 617.6,1092.5 595.1,1146.5 602.4,1153 790.9,1123.7 869.8,1141.3 884.4,1142.7 707.6,1128.1 614.1,1120.8" fill="none" stroke="none" marker-start="url(#bgrey)" marker-mid="url(#bgrey)" marker-end="url(#bgrey)"/>
<polyline points="317.7,1049.2 422.9,1055.3 444,1055.9 180.4,1053 173.1,1065.3 195,1062.4 242.6,1072 298.7,1071.1 407.7,1073.2 527.2,1069.7 562.3,1067.3 329.4,1081.9 515.8,1081.9 525.8,1088.7 221.3,1084.9 202.3,1079.9 136.5,1084.3 121.9,1088.7 152.6,1088.7 166.6,1093.9 225.1,1096.8 254.9,1097.4 259.3,1097.4 450.7,1090.7 586.6,1090.7 579.3,1091.6 446.3,1104.1 436.1,1110 362.4,1105.3 336.1,1101.8 325,1098.9 515.8,1105.3 593.9,1106.2 561.7,1110 428.8,1133.4 374.7,1129 463.8,1127.5 525.8,1124.6 178.9,1059.4 184.7,1068.2 176,1077 187.7,1077 196.4,1071.1 203.7,1088.7 208.1,1106.2 294.3,1079.9 301.6,1085.7 289.9,1097.4 304.6,1094.5 313.3,1103.3 322.1,1109.1 497.4,1112 488.7,1115 503.3,1128.1 538.3,1112 544.2,1123.7 573.4,1098.9 567.6,1115 550,1120.8 449.2,1120.8 440.4,1123.7 351.3,1113.5 354.2,1120.8 364.5,1123.7 268,1120.8 278.3,1115 252,1103.3 235.9,1106.2 240.3,1109.1 219.8,1117.9 117.5,1097.4 129.2,1094.5 143.8,1097.4 159.9,1103.3 790.9,902.5 781.2,909.8 777.7,923 782.7,941.7 783.6,951.9 787.9,964.5 782.1,991.6 779.8,996.6 779.2,1004.8 798.2,993.7 805.5,999.5 795.2,1002.5 802.5,1003.9 804,1016.2 795.2,1021.4 805.5,1021.4 802.5,1031.1 659.4,1048.6 654.1,1050.7 657.9,1055.1 687.1,1063.8 662.3,1072.6 657.9,1072.6 642.7,1083.4 660.8,1085.7 654.4,1099.5 744.1,1054.5 748.5,1056.5 759.3,1053.9 747,1060.9 726.6,1072.6 729.5,1080.8 732.4,1088.7 741.2,1085.2 749.9,1082.8 755.2,1083.4 773.3,1066.7 774.8,1071.1 770.4,1077 768.1,1083.7 817.2,1057.1 819.2,1062.4 849.9,1051.5 795.8,1081.4 802.5,1078.4 858.7,1089.5 816.6,1100.4 817.2,1110.6 806.3,1112.9 790.9,1113.5 885.2,1111.2 877.1,1122.3 869.8,1126.7 904.8,1117.9 909.2,1118.5 909.2,1129.6 920.9,1133.4 933.2,1147.1 836.2,1136.9 830.3,1138.3 586.3,1090.7 580.5,1091.6 574.6,1100.4 584,1101.8 594.5,1105.6 614.1,1103.3 608.2,1104.7 562.9,1067.6 679.8,1109.1 698.8,1112.9 772.7,1098.3 777.7,1106.2 752.9,1098.9 722.2,1100.4 663.7,1106.2 663.7,1115 665.2,1122.3 631.6,1109.1 636,1115 647.7,1113.5 618.4,1113.5 605.3,1113.5 580.5,1115 571.7,1120.8 603.8,1129.6 617,1125.2 719.3,1109.1 729.5,1115 735.3,1094.5 744.1,1103.3 747,1115 760.2,1109.1 764.6,1103.3 782.1,1115 688.6,1115 701.7,1123.7" fill="none" stroke="none" marker-start="url(#bnavy)" marker-mid="url(#bnavy)" marker-end="url(#bnavy)"/>
<polyline points="561.7,951.3 559.4,975.3 552.4,970.3 555.9,983.5 553,989.3 552.4,1000.4 549.4,1012.1 546.5,1017.1 543.3,1025.2 561.7,1119.6" fill="none" stroke="none" marker-start="url(#blblue)" marker-mid="url(#blblue)" marker-end="url(#blblue)"/>
<polyline points="546.2,858.1 560.8,858.1 541.3,1046.3" fill="none" stroke="none" marker-start="url(#bgreen)" marker-mid="url(#bgreen)" marker-end="url(#bgreen)"/>
<polyline points="546.2,822.2 559.4,844.1 553.8,878.8 560.8,887.6 550,887.9 553,899.6 548.6,908.9 550,911.9 553,917.7 544.8,932.3 543.6,938.2 544.2,948.4 547.1,976.2 543.6,990.8" fill="none" stroke="none" marker-start="url(#borange)" marker-mid="url(#borange)" marker-end="url(#borange)"/>
<polyline points="541,902.5 541.8,921.2 541,968 538.3,982.6 539.2,987" fill="none" stroke="none" marker-start="url(#bred)" marker-mid="url(#bred)" marker-end="url(#bred)"/>
<path d="M538.9 803.3l8.3 8.3l-8.3 8.3l-8.3 -8.3z" fill="#3a3a36"/><circle cx="538.9" cy="811.6" r="6.3" fill="#8a2be2" stroke="#3a3a36" stroke-width="1.3"/>
</g>
<g fill="none" stroke="#707070" stroke-width="1.25">
<rect x="108.7" y="719.9" width="861.9" height="483.1"/>
<rect x="108.7" y="1225.4" width="861.9" height="103.2"/>
</g>
<g stroke="#555" stroke-width="1.2">
<path d="M97.2 1181.6H108.7"/>
<path d="M97.2 1093.7H108.7"/>
<path d="M97.2 1005.8H108.7"/>
<path d="M97.2 917.9H108.7"/>
<path d="M97.2 830H108.7"/>
<path d="M97.2 742.1H108.7"/>
<path d="M246.6 1328.6V1339.6"/>
<path d="M419 1328.6V1339.6"/>
<path d="M591.4 1328.6V1339.6"/>
<path d="M763.8 1328.6V1339.6"/>
<path d="M936.4 1328.6V1339.6"/>
</g>
<text x="86.7" y="1187.6" font-size="17.5" text-anchor="end" fill="#4d4d4d">0</text>
<text x="86.7" y="1099.7" font-size="17.5" text-anchor="end" fill="#4d4d4d">2</text>
<text x="86.7" y="1011.8" font-size="17.5" text-anchor="end" fill="#4d4d4d">4</text>
<text x="86.7" y="923.9" font-size="17.5" text-anchor="end" fill="#4d4d4d">6</text>
<text x="86.7" y="836" font-size="17.5" text-anchor="end" fill="#4d4d4d">8</text>
<text x="86.7" y="748.1" font-size="17.5" text-anchor="end" fill="#4d4d4d">10</text>
<text x="246.6" y="1368.1" font-size="17.5" text-anchor="middle" fill="#4d4d4d">47.2</text>
<text x="419" y="1368.1" font-size="17.5" text-anchor="middle" fill="#4d4d4d">47.4</text>
<text x="591.4" y="1368.1" font-size="17.5" text-anchor="middle" fill="#4d4d4d">47.6</text>
<text x="763.8" y="1368.1" font-size="17.5" text-anchor="middle" fill="#4d4d4d">47.8</text>
<text x="936.4" y="1368.1" font-size="17.5" text-anchor="middle" fill="#4d4d4d">48</text>
<g stroke="#3535ff" stroke-width="1.2">
<path d="M970.6 742.1V1181.6" stroke-width="1"/>
<path d="M970.6 1181.6H981.6"/>
<path d="M970.6 1093.7H981.6"/>
<path d="M970.6 1005.8H981.6"/>
<path d="M970.6 917.9H981.6"/>
<path d="M970.6 830H981.6"/>
<path d="M970.6 742.1H981.6"/>
</g>
<text x="993.1" y="1187.6" font-size="17.5" fill="#2a2aff">0</text>
<text x="993.1" y="1099.7" font-size="17.5" fill="#2a2aff">20</text>
<text x="993.1" y="1011.8" font-size="17.5" fill="#2a2aff">40</text>
<text x="993.1" y="923.9" font-size="17.5" fill="#2a2aff">60</text>
<text x="993.1" y="836" font-size="17.5" fill="#2a2aff">80</text>
<text x="993.1" y="748.1" font-size="17.5" fill="#2a2aff">100</text>
<text x="1028.9" y="961.8" font-size="18" text-anchor="middle" fill="#2a2aff" transform="rotate(90 1028.9 961.8)">Recombination rate (cM/Mb)</text>
<text x="50.4" y="966.3" font-size="28" text-anchor="middle" transform="rotate(-90 50.4 966.3)">-log<tspan font-size="18" dy="6.5">10</tspan><tspan dy="-6.5">(p-value)</tspan></text>
<text x="540.8" y="1402.2" font-size="28.7" text-anchor="middle">Position on chr7 (Mb)</text>
<rect x="116.9" y="728.5" width="72.5" height="173.8" fill="#fff" stroke="#555" stroke-width="1"/>
<rect x="127.1" y="759.1" width="17.3" height="26.9" fill="#ff0000" stroke="#444" stroke-width="0.8"/>
<rect x="127.1" y="786" width="17.3" height="26.9" fill="#ffa500" stroke="#444" stroke-width="0.8"/>
<rect x="127.1" y="812.9" width="17.3" height="26.9" fill="#00ff00" stroke="#444" stroke-width="0.8"/>
<rect x="127.1" y="839.8" width="17.3" height="26.9" fill="#87cefa" stroke="#444" stroke-width="0.8"/>
<rect x="127.1" y="866.7" width="17.3" height="26.9" fill="#000080" stroke="#444" stroke-width="0.8"/>
<g stroke="#444" stroke-width="1">
<path d="M144.4 786H152.6"/>
<path d="M144.4 812.9H152.6"/>
<path d="M144.4 839.8H152.6"/>
<path d="M144.4 866.7H152.6"/>
</g>
<text x="158.6" y="791.3" font-size="15" fill="#333">0.8</text>
<text x="158.6" y="818.2" font-size="15" fill="#333">0.6</text>
<text x="158.6" y="845.1" font-size="15" fill="#333">0.4</text>
<text x="158.6" y="872" font-size="15" fill="#333">0.2</text>
<text x="146.5" y="752.7" font-size="19.5" fill="#333">r<tspan font-size="13.5" dy="-8.5">2</tspan></text>
<text x="552.1" y="792.9" font-size="31.85" text-anchor="middle">rs34211819</text>
<g stroke="#000080" fill="none">
<path d="M345.6 1250.2H610.5" stroke-width="1.2"/>
<rect x="345.6" y="1247.2" width="4.9" height="6" fill="#000080" stroke="none"/>
<rect x="360.3" y="1247.2" width="1.5" height="6" fill="#000080" stroke="none"/>
<rect x="368.9" y="1247.2" width="2.2" height="6" fill="#000080" stroke="none"/>
<rect x="405.5" y="1247.2" width="1.5" height="6" fill="#000080" stroke="none"/>
<rect x="426" y="1247.2" width="1.3" height="6" fill="#000080" stroke="none"/>
<path d="M352.7 1247.2V1253.2M364.2 1247.2V1253.2M450.5 1247.2V1253.2M453.7 1247.2V1253.2M463.6 1247.2V1253.2M465.8 1247.2V1253.2M473.8 1247.2V1253.2M477.5 1247.2V1253.2M484 1247.2V1253.2M486.1 1247.2V1253.2M487.9 1247.2V1253.2M489.6 1247.2V1253.2M523.1 1247.2V1253.2M545.6 1247.2V1253.2M564.6 1247.2V1253.2M610.5 1247.2V1253.2" stroke-width="1.1"/>
</g>
<path d="M0 1237.8H15M15 1237.8l-4.6 4.2M15 1237.8l-4.6 -4.2" transform="scale(-1 1) translate(-464.3 0)" stroke="#000" stroke-width="1" fill="none"/>
<text x="467.8" y="1242.8" font-size="15" font-style="italic">TNS3</text>
<g stroke="#000080" fill="none">
<path d="M672.9 1250.2H679.4" stroke-width="1.2"/>
<rect x="675.5" y="1247.2" width="3.9" height="6" fill="#000080" stroke="none"/>
<path d="M673.2 1247.2V1253.2" stroke-width="1.1"/>
</g>
<text x="642.6" y="1242.8" font-size="15" font-style="italic">C7orf65</text>
<path d="M698 1237.8h15m0 0l-4.6 4.2m4.6 -4.2l-4.6 -4.2" stroke="#000" stroke-width="1" fill="none"/>
<g stroke="#000080" fill="none">
<path d="M776.2 1250.2H926.5" stroke-width="1.2"/>
<rect x="808" y="1247.2" width="4" height="6" fill="#000080" stroke="none"/>
<rect x="825" y="1247.2" width="4" height="6" fill="#000080" stroke="none"/>
<rect x="831" y="1247.2" width="2" height="6" fill="#000080" stroke="none"/>
<rect x="843.5" y="1247.2" width="2.5" height="6" fill="#000080" stroke="none"/>
<rect x="854" y="1247.2" width="2" height="6" fill="#000080" stroke="none"/>
<rect x="869.5" y="1247.2" width="2.5" height="6" fill="#000080" stroke="none"/>
<rect x="889" y="1247.2" width="2.5" height="6" fill="#000080" stroke="none"/>
<rect x="909.5" y="1247.2" width="2.5" height="6" fill="#000080" stroke="none"/>
<path d="M776.2 1247.2V1253.2M791.5 1247.2V1253.2M794 1247.2V1253.2M798.5 1247.2V1253.2M801 1247.2V1253.2M805.5 1247.2V1253.2M816.5 1247.2V1253.2M821.5 1247.2V1253.2M835.5 1247.2V1253.2M838 1247.2V1253.2M848.5 1247.2V1253.2M861.5 1247.2V1253.2M864 1247.2V1253.2M867 1247.2V1253.2M874.5 1247.2V1253.2M877.5 1247.2V1253.2M881 1247.2V1253.2M886 1247.2V1253.2M897.5 1247.2V1253.2M916 1247.2V1253.2M919.5 1247.2V1253.2M923 1247.2V1253.2M926.5 1247.2V1253.2" stroke-width="1.1"/>
</g>
<path d="M0 1237.8H15M15 1237.8l-4.6 4.2M15 1237.8l-4.6 -4.2" transform="scale(-1 1) translate(-828.5 0)" stroke="#000" stroke-width="1" fill="none"/>
<text x="832" y="1242.8" font-size="15" font-style="italic">PKD1L1</text>
<g stroke="#000080" fill="none">
<path d="M644.7 1284.3H651.6" stroke-width="1.2"/>
<rect x="644.7" y="1281.3" width="1.8" height="6" fill="#000080" stroke="none"/>
<rect x="649.5" y="1281.3" width="2.1" height="6" fill="#000080" stroke="none"/>
</g>
<text x="588.4" y="1276.9" font-size="15" font-style="italic">LOC101929086</text>
<path d="M696 1271.9h15m0 0l-4.6 4.2m4.6 -4.2l-4.6 -4.2" stroke="#000" stroke-width="1" fill="none"/>
<g stroke="#000080" fill="none">
<path d="M794 1284.3H815.6" stroke-width="1.2"/>
<rect x="814.5" y="1281.3" width="1.3" height="6" fill="#000080" stroke="none"/>
<path d="M794 1281.3V1287.3" stroke-width="1.1"/>
</g>
<text x="771.3" y="1276.9" font-size="15" font-style="italic">C7orf69</text>
<path d="M826 1271.9h15m0 0l-4.6 4.2m4.6 -4.2l-4.6 -4.2" stroke="#000" stroke-width="1" fill="none"/>
<g stroke="#000080" fill="none">
<path d="M938.9 1284.3H953.6" stroke-width="1.2"/>
<rect x="938.9" y="1281.3" width="1.6" height="6" fill="#000080" stroke="none"/>
<rect x="949.5" y="1281.3" width="4.1" height="6" fill="#000080" stroke="none"/>
<path d="M942.5 1281.3V1287.3M944.5 1281.3V1287.3" stroke-width="1.1"/>
</g>
<path d="M0 1271.9H15M15 1271.9l-4.6 4.2M15 1271.9l-4.6 -4.2" transform="scale(-1 1) translate(-923 0)" stroke="#000" stroke-width="1" fill="none"/>
<text x="926.5" y="1276.9" font-size="15" font-style="italic">HUS1</text>
<g stroke="#000080" fill="none">
<path d="M764.8 1318.9H770.2" stroke-width="1.2"/>
<rect x="764.8" y="1315.9" width="1.5" height="6" fill="#000080" stroke="none"/>
<rect x="768" y="1315.9" width="2.2" height="6" fill="#000080" stroke="none"/>
</g>
<text x="722.2" y="1311.5" font-size="15" font-style="italic">LINC00525</text>
<path d="M800 1306.5h15m0 0l-4.6 4.2m4.6 -4.2l-4.6 -4.2" stroke="#000" stroke-width="1" fill="none"/>
<g stroke="#000080" fill="none">
<path d="M959.6 1318.9H970.4" stroke-width="1.2"/>
<rect x="959.6" y="1315.9" width="2" height="6" fill="#000080" stroke="none"/>
<path d="M964.5 1315.9V1321.9" stroke-width="1.1"/>
</g>
<path d="M0 1306.5H15M15 1306.5l-4.6 4.2M15 1306.5l-4.6 -4.2" transform="scale(-1 1) translate(-923 0)" stroke="#000" stroke-width="1" fill="none"/>
<text x="926.5" y="1311.5" font-size="15" font-style="italic">SUN3</text>
</g>
<g id="panel-c">
<path d="M104 2059.6L192 2059.6L193.5 1911L195 2059.6L658.4 2059.6L659.9 2000.8L661.4 2059.6L700.4 2059.6L702.2 1973L704 2059.6L780.2 2059.6L781.7 1913.1L784.2 1970.1L786.1 1970.1L786.6 2059.6L952 2060.1L960 2060.1L964 2059.1L969.6 2060.1" stroke="#2a2aff" stroke-width="2.2" fill="none" stroke-linejoin="miter"/>
<clipPath id="clc"><rect x="102.9" y="1597.2" width="866.7" height="485.3"/></clipPath>
<g clip-path="url(#clc)">
<polyline points="695.6,2054.5 598.5,2045.3 550.4,2048.7 358.7,2012.1 713.3,1997.8 309.5,2028.7 150.4,2044.4 263.4,2001.2 244.6,2033.3 295,2059.9 921.9,2053.6 147.5,2036.7 887.9,2011.5 479.2,2045.3 787.5,1986.5 624.4,2034.2 775.3,2060.4 745.4,2056.7 821.7,2046.6 537.4,2060 893.7,2056.1 896.1,2055.7 851,2059.1 405.7,2055.7" fill="none" stroke="none" marker-start="url(#cgrey)" marker-mid="url(#cgrey)" marker-end="url(#cgrey)"/>
<polyline points="102,2014.3 102,2033.6 102,2038.6 102,2055.3 102.1,2039.8 102.6,2038.2 102.7,2058.1 102.8,2041.9 102.8,2052.4 103.3,2059.7 103.4,2053.9 103.4,2039.6 103.9,2025.7 103.9,2058.4 104,2060.3 104,2051.8 104.1,2056.5 104.2,2058.7 104.2,2052.3 104.7,2054 104.7,2054.8 105.1,2059.8 105.3,2029.1 105.5,2046.6 105.6,2057 105.7,2060.4 105.7,2038.1 105.7,2056.1 105.8,2049.8 106,2025.8 106.2,2059.4 106.3,2050.2 106.4,2060.3 106.5,2046.6 106.9,2060.1 106.9,2051.4 107,2059 107.3,2048.1 108.1,2054.5 108.5,2045.2 108.7,2046.6 108.8,2058.2 109.1,2058.6 109.4,2041.8 109.6,2049.7 109.7,2046.9 109.7,2055 109.7,2037.4 109.7,2027.5 109.9,2050.3 110,2040.1 110,2017.9 111.1,2019.2 111.3,2020 111.6,2016.7 111.8,2057 112.3,2054.4 112.8,2051.8 113.1,2055.1 113.3,2059.3 113.5,2030 113.6,2054.4 114.3,2054.3 115.1,2037 116,2037.9 116.5,2042.9 116.7,2058.2 117,2058.1 117.2,2053.6 117.4,2057.8 117.5,2058.8 118.3,2059.5 118.7,2060.5 119.1,2017.1 119.3,2024.8 119.4,2036.6 119.5,2026.1 119.7,2057.6 120.2,2056.5 120.4,2021.8 120.4,2059.8 120.5,2060 121.1,2057.7 121.2,2025.3 121.5,2025.4 121.7,2052.8 122.1,2041 122.6,2058.4 122.7,2051.2 122.8,2036.2 122.9,2051.5 123.2,2046.9 123.3,2043.9 123.6,2036.6 123.7,2043.8 123.9,2040.5 124.2,2015.3 124.2,2053.3 124.2,2060.3 124.6,2021.3 124.6,2057.9 124.7,2055.9 125.1,2056.1 125.3,2027.7 125.7,2059.3 125.9,2022.4 126.1,2060.5 126.3,2049.2 126.5,2050.6 127.9,2030.2 128,2055 128,2034.4 128.3,2055.4 128.4,2054.6 129.1,2044 129.4,2016.3 129.7,2033 130.2,2046.6 130.5,2049.2 130.6,2044.8 130.9,2041.4 131.3,2060.1 131.3,2018.2 132.2,2021.6 132.3,2058.3 132.4,2032.5 132.9,2047.4 133.2,2034.3 133.3,2060 133.4,2050.8 133.6,2051.9 133.7,2019.1 133.8,2051.5 134.2,2041.3 134.3,2055.8 135.3,2046.6 135.5,2027.5 136.1,2060 136.4,2057.4 136.5,2046.6 136.6,2046.6 136.6,2052.5 136.7,2021.7 137,2040 137.1,2054.8 137.5,2041.5 137.5,2060 138,2052.1 138.2,2036.1 138.4,2048.9 138.6,2030.7 138.6,2060.3 138.6,2055.5 139.4,2042.8 139.5,2056.1 139.7,2036.8 139.9,2056.9 140.3,2059.7 140.4,2035.6 140.7,2049 141.3,2060.5 141.7,2059.4 141.9,2054.8 142.4,2054.7 142.4,2053.9 142.5,2020.1 143,2059.7 143.3,2058.4 144,2059.5 144.2,2056 144.4,2056.7 144.6,2060.6 144.7,2059.4 145,2046.7 145.3,2017 145.4,2057.9 145.8,2053.2 145.8,2052.3 146.1,2055.3 146.3,2052.6 146.3,2057.4 146.4,2035.2 146.4,2037.8 147.3,2046.4 148,2016.5 148.4,2060.4 148.4,2056.2 148.7,2046 149.4,2051 149.6,2046.1 149.7,2047.6 150.1,2022.8 150.2,2053 150.2,2058.8 150.7,2026.1 151.1,2047.3 151.2,2031.7 151.2,2016.7 151.3,2060 152.6,2022.4 152.8,2035.1 153.1,2046.6 153.4,2036.1 153.5,2044.4 153.5,2056.2 153.6,2046.6 153.9,2019.9 154.1,2059.5 154.1,2050.1 154.3,2046.6 154.6,2051.5 154.8,2058.3 154.9,2058.4 154.9,2050.6 155.4,2060.3 156.1,2033 156.6,2016.4 157,2059.3 157.1,2020.5 157.1,2051.5 157.3,2060 157.5,2032.7 157.9,2056.5 158.1,2058.6 158.5,2060 158.8,2055.5 158.8,2052.3 158.9,2047.2 159.6,2060.3 159.8,2053.5 160.2,2041.2 160.2,2057.8 160.5,2058.6 160.5,2057.2 160.7,2054.6 160.8,2034.1 161.2,2027.7 161.3,2043.4 161.5,2056.4 161.6,2058.2 162.2,2021.5 162.2,2060.2 162.3,2055.5 162.6,2028.5 162.8,2055.7 163.6,2034.9 164.6,2031.6 165,2020.9 165.1,2044.7 165.2,2057.3 165.3,2059.2 165.5,2060.2 165.6,2020.4 165.7,2055.8 166.4,2035 166.5,2034.3 166.8,2037.7 167,2017.1 167.2,2054.3 167.3,2045.9 167.4,2034.1 167.5,2046.6 167.8,2057.7 167.8,2058.9 167.9,2054.7 167.9,2057.9 168,2040.1 168.4,2047 168.5,2039.5 168.5,2056.7 168.6,2040.7 169.5,2053.5 169.5,2043.4 169.7,2057.8 169.9,2027.3 169.9,2033.4 170.1,2052.5 170.2,2039.7 170.4,2021.9 170.6,2049.4 170.7,2018.8 170.7,2031.3 170.7,2056.9 170.9,2054 171,2052.4 171,2015.2 171.3,2028.4 171.3,2023 171.5,2042.5 171.5,2033.7 171.5,2051.9 171.9,2023.7 172.1,2037.7 172.1,2058.7 172.2,2016.3 172.4,2054.6 172.4,2046.6 172.4,2042 172.9,2046.6 173,2019.8 173.2,2060.3 173.5,2056.9 173.8,2021.4 173.8,2053.5 174,2051.8 174.1,2055.3 174.1,2029.8 174.4,2060.1 174.4,2021.3 174.5,2056.6 174.7,2034.2 174.7,2058.2 174.8,2025.6 174.9,2025.8 174.9,2054 175.2,2055.9 175.2,2046.2 175.2,2052.9 175.4,2056.6 175.8,2054.2 175.8,2056.7 175.8,2043 175.9,2059 176.2,2059.4 176.2,2027.3 176.4,2023.7 176.8,2055.5 177.1,2058.6 177.4,2060.4 178.1,2038 178.3,2020.9 178.5,2039.9 179.3,2059.5 179.4,2059.5 179.5,2059.6 179.7,2041.1 179.7,2041.2 179.8,2059.1 179.8,2054.5 180.1,2056.9 180.4,2059.6 180.9,2021.5 180.9,2047 180.9,2059.2 181.2,2023.7 181.6,2058.7 181.6,2016.1 181.9,2055.3 182,2014.8 182,2016.5 182,2039.7 183.1,2035.7 183.4,2051.2 183.8,2059.4 184.3,2057.6 184.5,2058.7 184.5,2058.8 184.8,2060.4 185.1,2060.1 185.3,2051.8 185.3,2059.3 185.3,2054.7 185.4,2058.1 186.1,2042.2 186.3,2034.4 186.4,2055.4 186.8,2038.1 187.1,2023.3 187.8,2057.7 188,2029.5 188,2030 188.5,2052.6 188.6,2016.7 188.7,2044.7 188.8,2055.6 189,2046.6 189.3,2030.1 189.3,2057.8 189.6,2060.4 189.9,2054.5 189.9,2048.7 190,2028.9 190,2052.8 190.1,2044.8 190.1,2050.6 190.4,2032.5 190.4,2038.7 190.5,2046.6 190.5,2053.6 190.6,2057.2 190.7,2017.5 190.7,2057.3 190.8,2016.3 191,2044 191.1,2054.2 191.1,2043 191.8,2059.8 192,2056.8 192.1,2052.5 192.2,2045.2 192.5,2056.9 192.5,2038.8 192.9,2034.8 193,2044.3 193.3,2057 193.4,2029.2 193.5,2051.2 194,2038.6 194,2058.4 194.1,2057 194.6,2058.7 194.8,2051.5 195.1,2037.6 195.1,2053.7 195.2,2044.6 195.2,2051 195.2,2059.9 195.2,2057 195.5,2012.4 195.8,2046.8 196,2021.4 196.3,2052.5 196.3,2045.2 196.4,2053.3 196.4,2054.2 196.6,2059.2 196.7,2046.4 196.7,2049.2 197.1,2031.4 197.2,2059.7 197.4,2052.3 197.5,2057.1 197.9,2051.5 198,2060.3 198.1,2017.5 198.2,2042.9 198.3,2059.8 198.5,2006.1 198.9,2055 199.1,2037.3 199.4,2060.6 199.4,2030.5 200,2046.6 200.2,2014.2 200.3,2013.7 200.3,2057.9 201,2040.2 201.2,2010.5 201.2,2057.8 201.5,2030 201.5,2057.1 203.2,2057.9 203.7,2054.5 204.4,2060.3 204.5,2057.8 204.5,2011.2 205.5,1996.5 205.7,2028.6 206,2046.6 206.1,2058 206.5,2053.7 206.5,2027.7 206.6,2058.7 206.8,2059.5 206.9,2006.9 207.8,2042.9 207.9,2060.4 207.9,2035.7 208.1,1998.2 208.7,1994.3 208.7,2052 208.7,2056.5 208.7,2052.5 208.8,2056.9 209,2058.5 209.1,2054.5 210.1,2054.7 210.2,2048.8 210.3,2057.2 210.5,2055.3 210.6,2008.7 210.7,1985.6 210.8,2059.5 210.9,2052.7 211,2060.3 211.4,2055.5 211.5,2051.3 211.6,2017 212.4,2039 213.4,2058.7 213.5,2046.6 213.8,2054.7 214,2050.7 214,2039 214.2,2060.3 214.2,2059.1 215.1,2059.2 215.4,2060 215.8,2053.2 216.1,2053.3 216.6,2059.7 216.7,1977.3 217.1,2051.9 217.2,2057.5 217.4,2039.2 217.7,2023.6 217.9,2049.9 218.4,2009.8 218.8,2051.5 220.2,2060.1 220.5,2059.2 220.6,2035.3 221,2057.7 221.3,2046.6 221.3,1988.3 221.7,2056.1 222,2028.3 222.1,2015.3 222.5,2000.5 222.5,2053.9 222.5,2043.8 223.6,2049.3 224.2,1984.5 224.3,2058.2 224.4,1998.9 225.3,2042.5 225.8,2028.5 225.9,1972.4 226.1,2060 226.2,2059.3 226.3,2058.5 226.4,2054.7 226.4,2052 226.5,2042.1 226.9,2053.5 227,2002.2 227.3,2057.9 227.6,2057.8 227.9,2054.4 227.9,2058.5 227.9,2056.6 228,2032.9 228.8,2011.7 229.1,2050.8 229.3,1992.3 229.5,2058.7 229.7,2059.6 229.8,2058.3 230.6,2055.5 231.3,2046.6 231.4,2059.9 231.6,2055.3 232,2049.6 232.3,2060.6 234.1,2057.7 234.1,2059 234.2,2054 234.3,2058.9 234.6,2057 234.8,2059.6 235.2,2055.3 236.1,2055.9 236.3,1968 236.7,2059.7 237.8,2059.7 237.9,2024.9 238.1,2041.9 238.4,1987.2 239.6,1974.6 239.6,2046.3 239.9,2048.3 240.8,2052.3 240.9,1969.3 240.9,2051.8 241.2,2043.2 241.2,2056.5 241.7,1981.6 241.9,2050 242,2058.7 242.1,2052.3 242.4,2046.1 242.6,2056.3 242.6,2008.8 242.9,2040.8 243,2020.6 243.2,2058.4 243.3,2045.1 243.4,2055.2 243.5,2036.5 244.1,2056.4 244.5,2059.3 244.5,2050.9 244.8,1969.4 244.9,2006.4 245.2,2059.3 245.2,2046.3 245.9,2000.7 245.9,2024.7 246.5,1994.3 246.5,1979.2 246.5,2054.7 246.8,2047.3 247.3,2053 247.5,2053.1 247.6,1984.8 247.6,2060.3 247.7,2058.7 248,2016.4 248.2,2049.9 248.3,2023.1 249,1997.8 249,2043.6 249,2059.2 249.1,2055 249.7,2039.4 249.7,2058.8 249.9,2055.2 250.7,2045.6 250.8,1971.5 250.9,2050.9 251,2041.7 251.6,2034.2 251.8,2035.3 252,2046.6 252.1,1961.1 252.1,2050.4 252.3,1987.7 252.6,2021.1 252.7,2059.5 253,2051.3 253.2,2060.5 253.3,2008.7 253.6,2046.6 253.6,2056.7 253.7,1981.9 253.7,2049.3 253.9,1985.8 253.9,2024.3 254,2053 254,2057.5 254.4,2003.5 254.6,2040.4 254.7,2059.7 254.8,1992.4 255.3,2056.3 255.5,2050.5 255.9,2052.3 256.2,2039.2 257.2,2053.6 257.2,2043.8 257.8,2050.6 258.1,2049.1 258.3,2048.1 258.5,2046.6 258.9,2046.6 259.5,2051.1 259.6,2046.6 259.6,2052.6 260.3,2043.9 260.4,2030 260.5,2046.2 260.5,2017 260.8,2056.4 261,2052.6 261.9,2034 262.1,2024.8 262.1,1979.9 262.8,2053.7 263.1,2025.6 263.5,1981.7 263.7,2060.4 264,2013.8 264,2046.8 264.1,2057.7 264.4,2032.8 264.4,2054.4 264.5,2059.9 264.9,2004.8 265.1,2051.1 265.2,2058.3 265.6,1981.7 265.7,2029.5 265.8,2039 265.8,2029.2 266,2034.7 266.4,2006.6 266.5,2021.7 266.6,1987.6 266.6,2002.8 266.6,1992.2 266.7,2053.7 266.9,1987.9 267,2053.2 267.1,2057.5 267.3,1981.7 267.4,2053.2 267.5,2059.4 267.6,2034.1 267.6,2023.8 267.8,2052.5 267.8,1967.9 267.9,1981.9 267.9,2053.6 268.1,2060.2 268.3,2044.5 268.7,2009.3 268.7,2053.7 269.3,2047.5 269.4,2030 269.6,2057.5 269.7,2058.5 270,2047.8 270.1,2059.4 270.5,2059 270.7,2050.8 271,2060 271.1,1982.6 271.2,2050.3 271.4,1986.9 271.5,1966.4 272.1,2054.9 272.2,2009.5 272.2,2024.7 272.4,2060 272.9,1978.3 272.9,2049 273.1,2024 273.7,2051.8 273.7,2048 273.8,2055.8 274,1987.8 274,2034.1 274.1,2049.4 274.2,2057.6 274.5,2058 275.2,2043.1 275.3,2057.3 275.4,2016.8 275.8,2036.1 275.8,2056.7 275.8,2058.6 276.1,2054.8 276.1,1977.3 276.2,2059.3 276.5,2058.2 276.6,1974.9 276.8,2041.6 277.1,2059 277.4,1972 277.7,2046.6 278.8,2026.7 278.8,2052.1 279.6,2050.7 280,2051.6 280.2,2058.5 280.7,1976 280.8,2044.3 281.2,2043.2 281.5,2050.7 281.8,1992.2 281.8,2059.9 281.8,2055.9 281.9,2059.9 283,2059.8 284.4,2025.1 284.6,2042.1 284.6,2050.6 285,2056.6 285,1970.6 285.1,2058.1 285.3,1975.5 285.3,2054.9 285.4,2035.5 285.5,2058.4 285.5,2055.5 285.8,2047.3 285.8,2060 286.8,2059.7 286.9,2046.6 287.1,2038.3 287.2,2059.4 287.7,2028.5 289.3,2047.2 289.4,1984.8 289.6,1985.2 290.7,2015.3 291.1,2010.7 291.2,2037.9 291.2,2054.4 291.9,1999 292.2,2056.2 292.4,1999.6 292.4,2058.6 292.6,2024.4 293.3,2056.8 293.6,2056.6 293.7,2059.8 293.8,2046.6 295.1,2056.1 295.1,2057.5 295.6,2044.1 296.1,2030.4 296.4,2048.1 296.4,1995.7 297.2,2056.8 297.3,2049.5 297.5,2059 297.6,2055.1 297.6,2047.9 298.2,2043.7 298.4,2035.8 299.1,2041.2 299.6,2011 300.1,2049.8 301.3,2048.5 301.4,2014.5 301.5,2039 301.5,2006.5 301.7,1999.4 302.2,2041.1 302.2,2005 302.3,2051.5 302.4,2060.1 303,2019.3 303.1,2060.4 303.1,2055.1 303.4,2022.3 303.4,2044.8 303.5,2039.2 303.9,2033.1 304.4,2060.4 304.6,2059.1 304.6,2001.6 304.7,2027.9 305,2011.9 305.4,2007.2 305.6,2023.8 305.9,2032.1 305.9,2040.4 305.9,2019.8 306,2049.2 306.4,2059.9 306.7,2024.9 306.7,2029 306.8,2053.6 307.2,2052 308.1,2055.1 308.2,2055.2 308.3,2059.6 308.3,2030.5 308.3,2026.5 308.8,2052.9 308.9,2032.2 309,2030.5 309.1,2055 309.1,2056.4 309.6,2023.9 309.7,2053.9 309.9,2011.8 310.4,2059.4 310.8,2041.7 310.8,2038 310.9,2036.7 311,2057.1 311,2054.5 311.4,2046.6 311.6,2050.1 311.7,2058.4 312,2021.9 312.1,2054.8 312.3,2041.8 312.5,2049.3 312.7,2028.6 313.1,2051.5 313.9,2057.7 314,2048.8 314.2,2023.2 314.6,2015.8 314.8,2060 314.9,2046.9 314.9,2042.1 315.1,2041 315.3,2049.2 315.7,2055.8 316.4,2057.1 316.5,2006.9 316.6,2032 316.6,2060.5 316.9,2057.8 317.2,2051.1 317.2,2009.7 317.2,2052.3 317.7,2043.1 318.1,2046.6 318.2,2032.1 318.6,2031.4 318.7,2057.8 318.7,2006.6 318.8,2039.6 318.9,2032.1 319,2052.8 319.5,2053.9 320.3,2023.8 320.4,2058.3 320.5,2038.6 320.6,2048.1 320.7,2049.4 320.9,2006.5 321.2,2060 321.2,2059.3 321.4,2060 322.1,2055.3 322.1,2038 322.2,2059.7 322.2,2050.8 322.3,2047.3 322.7,2059.3 322.9,2058.5 322.9,2054.9 322.9,2058.7 323.1,2044.5 323.3,2033.7 323.4,2052.4 323.7,2058 323.8,2059.6 324,2008.2 324.1,2044.8 324.6,2058 324.7,2047.4 324.8,2059.7 325.4,2037.9 326,2055.1 326.3,2026 326.6,2056 327.1,2054.6 327.5,2046.3 327.6,2052.4 327.8,2053.4 327.9,2030.5 327.9,2050.8 328.2,2043.1 328.3,2058.6 328.5,2035.5 328.7,2050.3 328.7,2059.4 328.8,2050.2 329.3,2053.5 329.7,2059 329.8,2046.6 330.7,2011.3 333.1,2054.5 333.4,2046.6 334.1,2012 334.1,2059.6 334.3,2060.5 334.3,2058.1 334.4,2051.8 334.6,2046.4 334.8,2017.2 334.8,2058.5 335,2024.1 335.4,2043.1 335.5,2052 335.5,2046.7 335.7,2023.1 335.8,2019.9 336.4,2048 337.1,2057.9 337.2,2057.5 337.4,2057.3 337.5,2052 337.5,2054.2 337.6,2047.4 337.9,2027.5 338,2007.2 338.2,2040.2 338.7,2024.3 338.8,2044.1 338.9,2036.1 339.1,2045.5 339.2,2014.5 339.5,2057.2 339.8,2052.2 339.8,2052.4 340.3,2035.9 340.3,2014.1 340.3,2054.5 340.4,2060.3 340.6,2057.7 340.8,2055 341,2035.7 341.1,2059.4 341.2,2031.9 341.7,2051.8 341.8,2060.5 341.9,2056.7 342.2,2052.3 342.2,2014.5 342.8,2060.4 342.8,2049 343.1,2052.9 343.4,2044.9 343.8,2018.3 344.1,2060 344.3,2049.3 344.4,2053.6 344.7,2046.4 344.8,2049.3 344.9,2059.9 345,2020.3 345.1,2020.1 345.6,2031 345.8,2046.8 346,2055.7 346.1,2046.6 346.2,2053.4 346.4,2055.8 346.5,2060.2 346.8,2046.1 347.7,2053.7 348.3,2052.6 348.6,2059.2 348.6,2057.9 349,2031.1 349.2,2035 349.2,2060.3 349.7,2045.2 349.9,2057.3 349.9,2058.2 350.4,2052 351.7,2012.7 351.8,2049.2 352.2,2027.5 352.4,2054.7 353.2,2048.5 353.7,2060.1 354.1,2054.5 354.6,2023 354.7,2053.3 354.9,2060.3 355.1,2053.7 355.2,2056.3 355.5,2049.2 355.6,2058.5 356,2016.8 356.3,2046.6 356.4,2027.9 356.5,2057.2 357.1,2044.2 357.4,2060.5 357.5,2044.9 357.7,2011.5 357.8,2048.1 358,2058.1 358.1,2049 359,2011 359.2,2051.1 359.5,2057.9 360.4,2056.8 360.9,2060.5 361.1,2051 361.2,2059.4 361.2,2054.9 361.4,2056.6 361.5,2056.9 362,2059.1 362.1,2050.2 362.5,2057.6 362.8,2045.1 362.8,2058.2 362.9,2016.9 363.1,2056.6 363.2,2017.2 363.2,2054.4 363.7,2049.8 363.8,2056.4 364,2021.5 364.1,2041.3 364.6,2026.2 364.7,2056.7 364.9,2039.3 365.2,2024 365.5,2046.9 365.8,2054.8 366.1,2049.8 366.3,2056 366.5,2051.8 366.6,2059.7 366.7,2046.1 366.8,2060.5 367.1,2032.9 367.2,2060 367.7,2056.5 368.1,2017.1 368.2,2057.8 368.9,2038.4 370.2,2059.8 370.5,2059.6 370.7,2055 370.8,2056.1 371,2050.9 371.2,2059.3 371.7,2056.5 371.8,2043 372.4,2034.2 372.5,2046.6 372.6,2060.1 372.6,2023.7 372.8,2058 372.8,2049.4 372.9,2046.6 373.2,2041.8 373.3,2049.4 373.4,2024.7 373.4,2051.1 374,2060.5 374.1,2046.5 374.9,2058.4 375,2057.8 375.2,2058.2 375.2,2057 375.5,2043.1 375.6,2041 376.1,2048.8 376.2,2050.2 376.3,2050.6 376.7,2040 377.5,2060.5 377.6,2020 377.9,2057.3 378,2048.1 378.1,2057.5 378.2,2050.9 378.8,2052.4 378.8,2058.9 379,2051.9 379.3,2053.2 379.5,2040.5 379.6,2040.2 379.6,2056.4 379.8,2053.5 380.2,2049.6 380.7,2019.4 380.8,2046.6 381.6,2029 381.7,2059.7 381.9,2054.6 382.1,2046.6 382.1,2059.5 382.2,2017.7 382.3,2016.6 382.6,2022.6 382.7,2046.3 382.8,2026.7 383.4,2024.3 383.5,2059.5 383.6,2058.6 383.6,2045.6 383.8,2038.8 383.8,2056.6 383.9,2049 385.2,2060 385.3,2032 385.3,2046.6 385.5,2039 385.7,2018.2 386.6,2056.1 386.7,2015.9 386.9,2031.5 386.9,2057.2 388.5,2050.4 388.8,2046.6 389.1,2046.6 389.2,2023.8 389.2,2060.3 389.5,2017 389.9,2017.7 390.1,2047.6 390.2,2060.3 390.3,2046.6 390.3,2054.1 390.4,2060 390.4,2042 391.1,2030.5 391.3,2056.4 391.5,2058.8 391.5,2051.9 392.1,2045 392.4,2057.7 392.8,2037.2 392.9,2054.9 393,2024.6 393.3,2057.6 393.4,2060.3 394.5,2056.9 395.3,2050.6 395.6,2039.6 395.6,2059.3 395.7,2057.2 395.8,2035.5 396,2045.8 396,2042 396.5,2060.6 396.7,2046.6 397.1,2032.7 397.3,2054.3 397.4,2046.6 397.4,2057.4 397.4,2054.7 397.5,2059.4 397.5,2032.8 397.6,2058.6 398.4,2037.3 398.8,2047.8 398.9,2055.1 399.4,2050.3 399.4,2047.4 399.5,2035.3 400.2,2051.4 400.9,2055.3 401,2050.4 401.4,2052.3 402.2,2055.5 402.2,2042 402.4,2053 403.8,2039.7 403.8,2059 404.1,2051.5 404.2,2059.2 404.3,2037.9 404.3,2056.9 404.4,2060.5 404.9,2055.6 405.6,2041.8 405.7,2037.4 405.8,2047.3 405.8,2056 406.3,2046.8 406.6,2060.1 406.7,2043.4 406.8,2055.8 407.1,2040.8 407.2,2058.8 407.2,2059.6 407.4,2056.3 407.5,2060.3 407.5,2041.2 407.7,2043.8 407.7,2054.9 408.3,2060.4 408.4,2055.2 408.7,2059.1 409.3,2059.2 409.4,2041 409.5,2056 410.3,2047.5 410.6,2043.1 410.8,2053.9 411.1,2057.8 411.6,2058.2 411.7,2051.6 412.2,2044.2 412.4,2060.5 412.5,2048 412.7,2039.7 413.1,2054 413.2,2055.8 413.4,2056 413.4,2053.6 413.7,2043.1 413.8,2051.4 413.8,2057.2 414,2051.4 414.1,2041.8 414.2,2036.8 414.3,2041.1 414.5,2055 414.9,2049.6 415,2046.6 415,2053.6 415.1,2060.2 415.3,2057.1 415.8,2053.8 416.3,2058.4 416.9,2057.5 417,2059.5 417.1,2046.6 417.2,2053.4 417.2,2045.4 417.3,2060.2 417.8,2059.5 418,2060.3 418.2,2056.6 418.2,2047.6 418.2,2051.9 418.3,2050.4 418.4,2046.6 418.5,2044.6 418.6,2060.5 418.6,2040 418.6,2056.7 419,2053.5 419.3,2044.2 419.4,2051.5 419.8,2050.8 419.9,2053.9 420.1,2055.5 420.2,2054.5 420.7,2059 420.8,2048.7 421,2057.9 421,2052.9 421.3,2059.5 421.6,2057.8 421.7,2039.5 421.7,2054.5 421.9,2052.1 422.4,2056.5 422.6,2058.2 422.6,2038.3 422.7,2051.1 423.2,2040.1 423.4,2037.1 423.6,2058.9 423.7,2051.4 423.7,2059 423.8,2051.8 423.9,2039.8 424.4,2056.3 424.6,2051.8 425.4,2057.6 425.5,2046.6 426.2,2053.7 426.9,2039.5 427.4,2057.3 428.5,2059.2 429,2060.1 429.6,2046.6 429.7,2057.3 429.7,2051.2 430.1,2060.1 430.2,2039.9 430.7,2057.7 431.5,2054.6 431.9,2059 432,2057.6 432.1,2058.7 432.3,2056.9 434,2055.3 434.2,2055 434.5,2037.5 434.6,2060.4 434.7,2046.1 435.4,2060.5 435.4,2060.1 435.4,2051 435.6,2054.6 436.1,2039 436.7,2053.5 436.7,2055 437.6,2051.8 438.3,2046.6 438.8,2054.6 439.1,2043.4 439.1,2059 439.2,2057.7 439.4,2043.4 439.5,2053.4 439.8,2055.1 439.8,2059.8 440.6,2051.7 440.7,2057 440.8,2050.1 441.1,2056.7 441.1,2053.5 441.6,2051.6 443.2,2046.6 443.3,2060.5 443.3,2057.7 443.8,2042.2 444.4,2041.1 444.5,2048.2 444.8,2041.3 444.9,2052.3 445.9,2058 446.1,2045.5 446.4,2048.4 446.7,2058.6 446.8,2038.7 447,2038 447.1,2058.3 447.2,2041 447.4,2038.9 447.6,2059.8 448.3,2056.7 448.5,2046.8 448.5,2060.1 449.2,2053.3 449.8,2055 449.9,2055.2 450.1,2039.5 450.2,2045.4 450.5,2051.2 450.6,2045.6 450.7,2047.7 450.8,2055.6 450.9,2046.6 450.9,2047.8 451.1,2056.4 451.4,2054.6 451.9,2059.5 452.3,2059 452.3,2039.4 452.5,2051.9 452.7,2058.7 452.7,2060.3 453.3,2059.7 453.6,2056.2 454,2038.4 454.1,2057 454.3,2042.9 454.3,2057.6 454.3,2045.4 455,2053.8 455.2,2055.2 455.3,2051 455.4,2059.6 455.7,2056.7 456,2059.2 456,2057.9 456,2053.4 456.2,2051.3 456.2,2045.7 456.6,2043.8 456.9,2059.9 457.1,2055.9 457.3,2058.4 457.5,2051.7 457.5,2056.6 457.6,2055 457.8,2059.6 458,2051.6 458,2054.4 458.1,2039.2 458.4,2046.6 458.5,2038.5 458.5,2040 458.8,2047.4 458.9,2040.9 459,2052.4 459,2055 459.5,2045.8 459.7,2056.6 459.9,2045.6 460,2045.2 460.1,2058.5 460.4,2043.5 460.6,2048.3 460.6,2059.5 460.7,2047.8 460.9,2059.4 461,2056.7 461.1,2040.6 461.2,2059.3 461.2,2040.6 461.4,2039.1 462.3,2055.5 462.4,2053.5 462.4,2039.8 462.6,2044.6 462.7,2046.5 462.8,2056 463.5,2055.6 463.5,2056.4 463.9,2054 464.2,2050.8 464.3,2052.8 464.3,2046.6 464.6,2051 464.6,2060 464.7,2046.6 465,2058.6 465.1,2058.8 465.2,2054.2 465.5,2060.3 466.1,2056.7 466.3,2057.7 466.3,2060.2 466.3,2053.4 467.2,2058 467.2,2046.6 467.4,2046.6 467.4,2055.6 467.5,2055.7 467.5,2059.6 467.8,2051.3 468.1,2058 468.5,2041.7 468.5,2057 468.7,2057.5 468.8,2052.5 469.3,2058.7 471.7,2051.3 471.8,2056.5 472.1,2056.2 472.3,2052.4 472.7,2057.2 473.3,2056.6 473.4,2042.8 473.6,2053 473.8,2059.5 474.1,2057.8 474.3,2039.3 475.9,2059.1 476.1,2060.2 476.4,2049.5 476.5,2060.6 476.7,2046.3 476.8,2058.1 476.9,2048.9 477.2,2056.5 477.2,2043.3 477.4,2038.6 477.4,2043.6 477.4,2044.4 477.7,2058.1 477.8,2039.4 478.2,2047.2 478.2,2043.9 478.3,2058 478.3,2056 478.5,2039.3 478.8,2047.2 479.1,2042.2 479.3,2042.6 479.3,2050.8 479.4,2045.1 479.6,2054.5 479.7,2058.7 479.7,2058.3 480.1,2057 480.2,2055.1 480.3,2053.5 480.3,2048.3 480.5,2057.8 480.6,2052.5 480.6,2056.8 481,2059.6 481.1,2044.7 481.4,2054.1 481.4,2060.1 481.5,2058.5 481.5,2040.2 481.8,2058.4 481.8,2059.8 481.9,2057.5 482.2,2053 482.3,2055.4 482.4,2039.9 482.5,2043 482.5,2055 482.6,2057.2 482.9,2058.7 483.1,2047.8 483.4,2046.9 483.4,2041.8 483.6,2054.7 483.8,2044.8 483.9,2045.5 484.2,2043.5 484.3,2057.8 484.4,2053.3 484.6,2052.1 484.6,2056.3 484.6,2048.6 484.8,2051.1 484.9,2053.6 485,2048.7 485,2054.2 485.2,2059.8 485.3,2058.7 485.5,2039.9 485.8,2059.3 486,2055.1 486,2050.6 486,2047.8 486,2057.3 486.3,2046.6 486.5,2056.9 486.7,2041.7 487,2045.3 487.2,2050 487.2,2059 487.3,2056.5 487.5,2044 487.7,2060 487.8,2056.9 488,2054.4 488.1,2049.7 488.6,2050.8 488.7,2055 488.7,2059 489,2052.7 489.1,2060.4 489.1,2059.3 489.7,2050.2 489.8,2041 489.8,2056.1 490.1,2052 490.2,2052 490.3,2048.2 490.8,2057.8 492.3,2044.7 492.5,2058.9 492.5,2038.8 493.1,2059.6 493.3,2043.5 493.4,2044.1 494.8,2059.6 495.2,2050.2 495.2,2043.3 495.2,2054.3 495.5,2055.2 496.1,2057.3 496.4,2050.9 496.5,2053.4 496.6,2060 496.6,2057.7 497,2045.3 497.2,2060.3 497.3,2060.6 497.4,2058.2 497.5,2048.1 497.6,2057.1 498.3,2056.8 498.4,2054 498.6,2059.1 498.6,2058 498.9,2040.4 499.1,2060.3 499.8,2041.7 500.3,2059.1 500.6,2052.2 500.7,2059.6 500.9,2051.8 501,2054.6 501.4,2059.5 501.5,2055.5 501.9,2053.9 501.9,2041.1 502.1,2057.5 502.1,2046.5 502.3,2055.1 502.6,2057.2 502.6,2060.3 502.7,2056 502.8,2059.7 503,2050 503.1,2056.4 503.1,2056.5 503.3,2051.4 503.6,2051.8 503.7,2060.6 503.7,2057 503.8,2060.2 504,2057.6 504.2,2060 504.4,2054.5 504.6,2052.7 504.8,2055.8 505.1,2058.3 505.7,2057.3 506,2049.4 506.3,2056.2 507.4,2058.3 507.5,2048.7 507.5,2056.1 507.9,2052.1 508,2059.4 508.5,2058.2 508.8,2043.4 508.8,2039 509.1,2047.8 509.3,2051.5 509.4,2054.4 509.7,2057 509.7,2041.6 509.8,2043.1 510.1,2053.7 510.1,2049.7 510.6,2055.7 510.8,2060.2 510.9,2054.3 510.9,2047.2 511.5,2043.6 511.9,2040.3 512.2,2039.3 512.3,2059.7 512.4,2060.2 512.5,2059.5 512.6,2057.2 512.8,2058.9 513.1,2039.7 513.6,2041 513.6,2053.1 515.5,2054.6 516,2041.8 516.4,2057.7 516.6,2058.3 517.1,2046.6 517.2,2057.7 517.4,2057.1 517.7,2041.3 517.8,2051.3 518,2059.2 518.6,2044.2 518.7,2058.2 519,2038.9 519.5,2053 519.6,2060.5 520,2046.6 520.8,2057.1 521,2056.4 522.1,2059.5 522.9,2049.1 522.9,2052.7 523,2057.9 523.5,2052 523.9,2046.2 524.3,2040.8 524.5,2056.7 524.6,2057.6 525.7,2057.4 526,2045.5 526.1,2056.8 526.5,2038.5 526.7,2055.2 527.1,2049.7 527.9,2049 528.5,2058.6 528.7,2058.7 529.4,2056.5 530.4,2041.4 530.5,2038.5 530.8,2049.5 531.1,2057.2 531.2,2050.3 531.3,2040.7 531.6,2052.9 532.4,2059 532.5,2059.8 532.6,2057.1 532.6,2053.5 532.6,2046.6 533.3,2047.5 533.4,2043.9 533.6,2051.1 533.7,2046.1 533.7,2056.7 533.8,2055.7 534,2040.6 534.3,2055.6 534.7,2059.5 534.9,2058.6 535.3,2039.5 535.9,2058.9 536.3,2052.7 536.6,2053.6 536.6,2042.5 537.5,2060 537.5,2053.4 537.7,2060.2 538.3,2043.1 538.8,2060.3 539.3,2053.8 539.5,2049.9 539.6,2060 539.8,2043.1 539.8,2060.5 540.6,2045.1 540.9,2056.5 540.9,2052.9 541,2059.5 541,2041.1 541,2055 541.5,2051 541.6,2040.3 541.7,2054.8 542.1,2056.3 542.3,2057.8 542.5,2052.2 543.4,2054.6 543.4,2050.8 543.8,2047.3 544,2052.7 544.4,2060.4 544.8,2050.2 545.3,2050.7 545.5,2052 545.6,2051.4 545.7,2057.1 545.7,2060.4 545.9,2060.1 545.9,2040.4 546.4,2041.6 546.4,2053.9 546.6,2056.1 546.6,2055.6 547.3,2039.6 548.1,2056.8 548.2,2046.4 548.8,2051.9 548.9,2054.4 549,2047.7 549.1,2055.4 549.1,2044.1 549.2,2038.6 549.3,2060.5 549.3,2055.1 549.3,2060.2 549.5,2059.2 549.5,2053.5 549.7,2053.7 550.3,2059.2 550.6,2058.3 550.7,2053.1 551.4,2053.2 551.4,2055.3 551.7,2057.6 552.1,2053.4 552.2,2057 552.2,2047.4 552.3,2054.8 552.3,2057.5 552.5,2052.3 552.8,2040.6 553.3,2057.1 553.4,2054.4 553.5,2055.6 553.6,2049.3 553.8,2033.3 554.3,2055.3 554.6,2046.8 554.9,2033 555.1,2059.3 555.2,2056.6 555.3,2057.4 555.9,2057.5 556.8,2055.7 557.2,2029.4 557.5,2055.8 557.5,2059.3 557.6,2059.4 558.4,2043.7 558.8,2041.8 558.9,2032.8 559,2039.6 559.3,2057.9 559.5,2046.2 560.1,2023.7 560.1,2060.6 560.3,2023.7 560.4,2049.9 560.4,2057.5 560.9,2053 561.4,2059.7 561.5,2056.2 561.6,2058.1 561.8,2041.3 562,2024.7 562,2034.6 562.6,2046.6 563.1,2021.9 563.2,2050.7 563.5,2046.6 563.5,2053 564,2058.4 564.1,2049.6 564.1,2059.1 564.5,2037.4 564.6,2045 565,2046.6 565.4,2024.7 565.8,2059.4 566.3,2023.2 566.5,2055 566.5,2028.1 566.7,2057.1 566.7,2038.2 566.8,2034.2 566.9,2017.5 567,2059.1 567.2,2055.9 567.3,2052.8 567.4,2060.2 567.4,2043.7 567.6,2048.4 567.6,2032.1 567.7,2056.6 567.7,2017.8 567.8,2038.7 567.9,2046.6 567.9,2047.9 568,2053.6 568.5,2026.8 568.8,2049 569,2045.7 569.1,2054.2 569.3,2025.4 569.3,2053.5 569.3,2017.8 569.5,2046.7 569.6,2050.2 569.9,2024.2 570.2,2054.7 570.2,2028.1 570.4,2035.2 570.7,2059 571.1,2045 571.4,2044.8 572,2016.3 572.5,2038.4 572.5,2056.1 572.7,2060.4 572.9,2019.2 572.9,2016.2 573,2024 573.4,2059.2 573.7,2032.9 573.8,2045.6 573.8,2036.5 574.3,2052 574.3,2051.1 574.4,2053.6 574.5,2049.1 574.8,2058.4 575,2041.3 575,2056.6 575.7,2060.2 576.1,2048.4 576.2,2056.6 576.3,2045.7 576.4,2053.8 576.4,2034.7 576.7,2059 576.7,2050.6 576.8,2052.3 577,2050.3 577.1,2047.6 577.1,2037.7 577.1,2060 577.5,2054.9 577.5,2055.3 577.6,2053.7 577.7,2057.3 577.7,2059.7 578.2,2048.5 578.4,2059.5 578.8,2034.5 579,2050 579,2059.3 579,2052.8 579.1,2060.2 579.1,2037.2 579.1,2046.6 579.1,2053.4 579.1,2055.4 579.3,2025 579.6,2025.4 579.9,2037.7 580.2,2058.1 580.3,2058.6 580.6,2033.8 580.8,2036 581.2,2057 581.3,2028.1 581.3,2046.6 581.4,2056.2 581.6,2031.4 581.7,2014.6 582,2059.2 582.1,2017.7 582.3,2023 582.5,2058.7 582.7,2049.6 582.7,2057.6 582.9,2030.4 583.2,2016.2 583.3,2048.8 583.4,2059.7 583.6,2060.2 583.6,2043.6 584,2054.4 584.8,2017.5 585,2031 585.2,2056.8 585.4,2049.3 585.5,2035.3 585.6,2017.5 585.7,2024.7 586.2,2058.4 586.3,2054.5 586.5,2043.3 586.5,2040.8 586.5,2059 586.6,2045.1 586.6,2057.4 586.6,2058.5 586.7,2027.7 586.8,2057.3 586.9,2042.9 587.2,2056.5 587.2,2059.6 587.5,2036.5 588,2046.6 588.2,2040.7 588.3,2060.2 588.5,2028.5 588.6,2038.2 589.4,2051.2 589.5,2055.6 589.5,2035.4 589.7,2058.7 589.8,2054.4 589.8,2055 590,2045 590.3,2025.1 590.3,2056.3 590.6,2049.9 591.7,2052.2 591.9,2056.7 592.8,2057 592.9,2036.9 593,2053.6 593.5,2049.8 593.5,2055.3 593.6,2060.6 593.6,2058.2 593.9,2057.8 594,2059.6 594.1,2052.1 594.5,2057.7 595.3,2031.1 595.4,2058.8 595.7,2058.8 596,2055.1 596.4,2058.1 596.4,2051 596.5,2055.2 596.8,2059.1 596.9,2044.3 597.2,2017.1 597.5,2059.5 597.8,2057.1 597.8,2032.2 598.1,2015.1 598.3,2059.9 598.5,2019.4 598.5,2046.6 598.5,2058.9 598.9,2031.5 599.3,2059.9 599.4,2039.7 599.7,2023.7 600.1,2037.8 600.2,2046.6 600.6,2054.3 601.1,2044.7 601.4,2035.6 601.6,2047.1 601.8,2029.4 602.5,2060.6 602.9,2031.7 603,2020.5 603.3,2016.2 603.3,2056.5 603.7,2037 603.7,2025 603.7,2013.2 603.8,2019.3 603.8,2031.3 603.8,2058.2 604.1,2024.5 604.2,2046.6 604.3,2051.3 604.3,2052.6 604.7,2060.4 604.8,2038.3 605.8,2053.8 605.8,2040.2 606.1,2038.3 606.1,2049.9 606.2,2057.8 606.2,2059.1 606.4,2059.6 606.4,2043.4 606.7,2016.7 607.4,2038 607.6,2018.5 607.6,2024.2 607.7,2037.6 607.8,2023.5 608.2,2016.4 608.6,2047.1 609,2052.1 609,2060.4 609.2,2015.4 609.5,2057.4 610,2021.4 610.1,2055.8 610.6,2046.9 611.7,2026.6 611.8,2050.9 612.1,2055.4 612.2,2052.8 612.8,2043 613.4,2042 613.7,2038.2 614.5,2059.4 615.2,2053.1 615.5,2048.1 615.7,2052.6 615.9,2057 616,2011.2 616.3,2042.1 616.6,2048.5 617,2059.6 618.9,2036.6 619,2056.3 619.5,2053.7 619.6,2059.7 619.9,2053.3 620.4,2059.2 620.7,2059.3 620.7,2044.8 621,2060.2 621.1,2018.6 622.7,2051 623.2,2055.2 623.5,2033.9 624.4,2060.5 624.5,2057.2 625,2058.7 625.4,2047 625.9,2046.6 625.9,2035.5 626.1,2058.1 626.2,2060.5 626.5,2057.6 626.6,2049.3 626.7,2035.1 626.7,2050.7 626.8,2055.2 627.1,2013.2 627.3,2055.3 627.4,2039.6 627.6,2060.3 628.5,2056.9 628.5,2045 628.7,2050.1 628.8,2054.1 628.9,2058.6 628.9,2050.1 629.3,2045.4 629.4,2059.6 629.4,2055.7 629.4,2060.4 630.2,2050.3 630.4,2055.3 630.4,2035.3 630.5,2022.7 630.9,2042.2 631,2055.9 631.5,2054.5 631.7,2051.6 631.8,2046.3 631.8,2011.6 631.8,2046.6 632.2,2058.5 632.7,2018.1 633.7,2054.9 634.1,2010.8 634.1,2009.1 634.2,2058.8 634.2,2040.1 634.4,2017.2 634.4,2038.4 634.6,2028 634.8,2053 634.9,2056.5 635.3,2011.5 635.3,2039.4 635.5,2046.3 635.6,2060 635.7,2049.6 636.1,2060.2 636.2,2056.4 636.2,2021.5 636.3,2056.5 636.9,2009.3 637.2,2047.4 637.4,2057.9 638,2043.9 638.5,2046.6 638.7,2010.5 638.8,2020.8 638.9,2050.9 639.3,2058.2 639.4,2009.4 639.6,2052.7 639.9,2059.7 640.1,2058.7 640.5,2051.3 640.5,2053.7 640.6,2058.4 640.9,2042.5 641,2047.6 641.3,2055.5 641.9,2007.8 642.1,2033.6 642.2,2042.3 642.2,2038.9 642.4,2058.2 642.5,2053.4 642.9,2050.6 643.3,2056.2 643.8,2033.1 643.9,2059.2 643.9,2019.6 644,2051.7 644,2050.7 644.3,2054.9 644.6,2060 644.8,2030.9 644.9,2050.1 645,2057.6 645.6,2036.4 645.8,2059.9 645.8,2024 645.8,2056 645.8,2033.1 646,2036.7 646.1,2008.4 646.2,2027.5 646.3,2055.8 646.4,2032.1 646.4,2030.4 646.7,2024.8 646.9,2055.9 646.9,2046.6 646.9,2046.6 647,2042.4 647,2059.4 647.2,2043.5 647.2,2059.9 647.6,2032.1 648.1,2055.5 648.2,2048.3 648.8,2057.8 648.9,2028.4 649.1,2052 649.3,2056.1 649.4,2059.7 649.6,2024.8 650.1,2022.9 650.2,2039.5 650.4,2060.5 650.7,2057.1 650.8,2052.1 651.2,2060.4 651.2,2012.9 651.3,2054.4 651.8,2057.8 652.8,2058.8 653.1,2049.1 653.6,2048.7 653.8,2060.6 654.2,2057.8 654.7,2012.9 654.8,2051.6 655.3,2038.8 655.4,2021.9 655.4,2046.6 655.4,2057.2 656.7,2050.3 656.7,2051.2 656.8,2047.2 656.8,2046.6 656.8,2057.6 657.2,2018 657.3,2040.2 657.9,2033.1 658.1,2045.9 658.2,2054 658.5,2051.8 658.8,2055.3 659.1,2022.5 659.8,2051.2 660.6,2059.3 660.8,2050.7 660.9,2011.9 660.9,2052.4 661.2,2057.3 661.4,2054.3 662.9,2057.3 663.1,2053.9 663.2,2058.4 663.7,2051.5 663.7,2060.3 663.8,2051.2 664,2050.7 664.1,2047 664.2,2059.7 664.3,2057.6 664.4,2022.4 664.5,2024 664.7,2046.6 664.7,2034.6 665.6,2060.3 666.2,2017.8 666.6,2013.7 667.5,2014.1 667.6,2052.5 667.7,2031.4 667.8,2035.1 668,2046.6 669.5,2059.6 669.6,2010.5 669.6,2058.1 669.6,2060.1 669.8,2044.2 669.8,2053.7 670.6,2060.2 670.7,2059.7 671.5,2052.5 671.7,2013.5 671.8,2049.1 673.7,2014.8 674.3,2056.1 675.1,2032.8 675.4,2040.6 675.5,2057 675.9,2053.7 676.3,2040.4 676.3,2053.6 676.4,2060.4 677,2053.9 677.4,2021.8 677.5,2043.3 677.6,2060 677.7,2017 678.1,2060.3 678.2,2046.9 678.4,2053.5 678.9,2053.3 678.9,2057.1 679.3,2053 679.7,2059.2 679.7,2031 679.9,2037.1 680.1,2057.1 680.3,2051.7 680.4,2057.6 680.5,2057.8 680.7,2008.7 680.8,2022.9 681.5,2058.5 681.6,2023.8 681.7,2056.8 681.7,2052.9 682,2060 682.3,2056.9 682.4,2060.3 682.4,2058.8 682.6,2037.6 682.6,2046.7 682.9,2056.7 683.1,2059.2 684,2060.5 684.5,2060.1 685,2039.2 685,2051.6 685.8,2040.2 686,2056.2 686,2056.2 686,2059.3 686.1,2059.4 686.2,2057.4 686.7,2025.5 687.2,2044 687.2,2013.7 687.2,2049.9 687.4,2041.5 687.6,2052 687.7,2052 687.8,2048.8 687.8,2039.5 688.5,2015.5 688.7,2049 688.8,2047.1 689,2007.6 689.1,2029.9 689.1,2054.3 689.3,2035.5 689.3,2047.6 689.4,2059.7 689.9,2012.1 690,2029.5 690.5,2051.6 691,2054.6 691.8,2025.4 692,2057.8 692,2059.7 692.2,2059.2 692.3,2030.3 692.4,2034.5 692.7,2032.9 692.8,2049.3 693.1,2033 693.8,2034.3 694.3,2046.6 694.3,2060.4 694.5,2053.6 694.8,2045.2 695,2059.8 695.2,2007.7 695.3,2059.5 695.3,2046.5 695.9,2054 696,2059.1 696.2,2026.9 696.2,2040.5 696.8,2059.9 696.9,2046.6 697.7,2028 698.1,2060 698.2,2020.9 698.3,2059.4 698.7,2056.2 698.7,2058.3 698.7,2012.7 699.2,2049.1 699.6,2020.1 699.7,2046.6 699.9,2011.3 700.2,2054.5 700.2,2021 700.3,2057.5 700.3,2049.8 700.4,2058 700.5,2058.9 700.9,2060.6 701,2058.3 701.1,2050.8 701.8,2054 702.2,2052.9 702.3,2051.8 702.4,2052.1 702.4,2060.1 702.7,2017.9 703.2,2038.3 703.4,2018 703.8,2049.7 704,2031.3 704,2054.5 704.2,2052.4 704.3,2048.9 704.5,2059.5 704.6,2045.1 704.6,2020.2 705.4,2054.7 705.5,2060.5 705.6,2030 705.6,1999.1 705.7,2042.4 705.7,2053.8 706.1,2058 706.2,2052.1 706.5,2043.1 706.6,2047.2 706.8,2039.8 706.8,2007.5 707,2058.1 707.1,2049.2 707.1,2052.9 707.6,1996.5 708,2054.4 708.6,2038.3 708.6,2042.2 708.6,1992.8 709.2,2056.4 709.6,2055.4 709.9,2026.4 710.1,2048.3 710.2,1994.1 710.4,2057.7 710.5,2055.5 710.5,1999.6 710.6,2052.5 710.7,2045.2 711.3,2057.5 711.6,2043.2 711.8,2054.4 712,2035.4 712.1,2033.4 712.6,2057.6 713,2038.6 713.5,2004.4 713.6,2037.7 714.2,2037.6 714.2,2051.4 714.2,2045.6 714.4,2044.8 714.8,2057.1 715.1,2028 715.3,1978.5 715.7,2047.3 715.9,2053.4 716,2044.3 716.4,2020.1 716.6,2015.1 717.1,2053.8 717.2,2056.9 717.3,2057.5 717.5,2050 718.5,2047.2 720,2057.4 720.1,2053.1 720.5,2052.1 720.6,2034.5 720.7,2059.8 720.7,1997.1 721.2,2050 721.3,2047.7 721.5,2029.8 721.6,2059.5 721.7,2060.1 722.1,2052.6 722.3,2048.1 722.6,2054.1 722.9,2059.5 723.1,2060 723.1,2057.6 723.3,2059.6 723.3,1991.4 723.6,2006.3 723.7,2057.7 723.8,2055.6 723.9,2046.6 724.6,2045 725.4,2057.2 725.5,2058 726.4,2043.1 727,2051.4 727,1992 727.7,2060.5 728.7,2040 728.7,2050.2 728.8,2038 729.4,2044.6 729.4,2054.1 730.4,2053.3 730.4,2024.7 730.8,2052.6 730.8,1975.6 732,2052.8 732.5,2048.3 732.6,2055.6 733.5,2051 733.7,2058.4 734.2,2046.6 734.8,2047.6 734.9,2054.6 734.9,2050.3 735,1985.1 735.6,2006.3 735.9,2060 736.1,2059.5 736.5,2051.1 736.5,2047.1 736.8,2056.5 737.3,2056.8 737.4,2039.9 737.5,2046.6 739.1,2048.1 739.3,2005.5 739.3,2055.6 740.2,2046.7 740.3,1991.4 740.5,1975.5 740.7,2024.7 741.3,2059.9 741.4,2049.9 741.5,2054 741.6,2053 741.8,2006 742.5,2019.4 742.5,2055.7 742.8,2051.3 742.8,2050.5 743.8,2060.4 744.4,2050.6 744.5,2046 745.5,2050.8 745.8,2003.4 746.2,2045.4 746.6,2052.8 746.6,2045 747.6,2026.1 747.6,2055.8 748.7,2019.8 749,2046.6 749.1,2041.5 749.4,1986.6 749.7,2052.9 749.9,2057.5 750.2,2018 750.4,1995.1 751.1,1983.7 751.1,1989.9 751.9,2051.6 752,2056.8 752,2058.1 752.5,2043 752.8,2058.5 752.9,2053.6 753.5,2046.7 753.8,2059 754.2,2057.4 754.6,2046.6 754.7,2032 755.3,2046.6 755.3,1999.7 755.4,2041.1 756.6,2027 756.9,1985.6 757.4,2060.3 757.9,2012.8 758.4,1998.2 758.6,2048.1 758.7,2058.6 759,2058.7 760,2019.8 760,2041 760.5,2056.9 760.9,1981.6 761.3,2047.6 761.6,1987.2 761.6,2042.1 762,2048.3 762.2,2031.4 762.7,2030 762.9,2042.6 763.2,2051.6 763.4,2044.6 763.4,2053 763.5,2044.8 763.5,2050 763.6,2026.2 764,2049.2 764.3,2045.8 764.3,2059.5 764.5,2046.6 764.5,2017.5 764.6,2048.7 764.8,2052.6 764.8,2018.7 764.8,1989.7 764.9,2059.9 764.9,2012.2 765.3,2020.6 765.4,1984.9 765.5,2039.5 765.6,1980.2 765.8,2057.8 765.8,2059.9 765.9,2031.2 766.2,2059.9 766.3,2059.1 766.4,2053.2 766.7,2050.8 766.8,2043.3 766.8,2024.2 766.9,2060 767,1989.1 767.1,2058.9 767.3,2060.4 767.5,1979.5 767.6,2018.7 767.6,2050.2 767.7,2056.7 767.9,2011.3 767.9,2051.6 768,1995 768.5,2059.8 768.6,2060.1 768.7,2049.2 768.8,2015 769.3,2051.3 769.7,2054.6 769.7,2057.5 770.2,2052.7 770.4,2059.2 770.5,2054.1 770.5,1983.2 770.8,2054.8 770.8,2060.2 770.9,2059.5 770.9,2050.1 771,1984.6 771.1,2047.5 771.1,2046.7 771.4,2055.9 771.5,2058.3 771.6,2051.2 771.6,2056.2 772,2014.5 772.6,2051.3 772.7,1975.5 772.9,2046.2 772.9,2008.1 773.2,2056.1 773.2,2026.6 773.5,2035.5 773.6,2060.1 773.8,2046.7 774.5,2041.6 774.5,2055.9 775.2,2049.7 775.5,2052.2 775.7,2034.9 776,2000.4 776,1975.8 776.2,2051.1 776.3,2054.1 776.3,2039.2 776.4,2060.6 776.5,2051.7 776.6,2059.4 776.8,2057.8 777,2056.8 777.3,1998 778.2,2046.9 779,2047.9 779.2,2024.7 779.3,2050 780,2060.4 780.2,2000.6 780.2,2058.5 780.2,2054.9 780.3,2048.5 780.3,2056.4 780.6,1989.5 780.7,2037.7 780.9,2057.7 781.1,1977.3 781.2,2040.6 781.3,2013 782,2059 782.3,2056.8 782.4,2060.4 782.7,2029.6 783,2037.4 783.4,2056.8 784.1,2051.3 784.1,1986.4 784.6,1984 784.8,1997.9 785.7,2047.8 785.7,2054.5 785.8,2046.1 785.8,2058.9 785.9,2046.6 786.3,2011.5 786.4,2057.1 786.5,2042.7 786.7,2044.1 787,2016.3 787.2,2015 787.3,1982.4 787.4,2042.4 787.4,2055.2 787.5,2051.8 787.6,2008.1 787.7,2024.7 788,2047.5 788.1,2054.9 788.4,2033.6 788.4,1975.4 789.1,2060.2 789.1,1975.8 789.2,2057.5 789.2,1999.6 790,2030.2 790.2,2059.3 790.3,2059.3 790.4,2042.5 790.6,2046.6 790.7,2032 790.8,1994.5 791,2056.5 791.1,2039.6 791.2,2059.6 791.3,2051.4 791.6,2048.1 791.7,2054.5 791.7,2015.4 791.9,2047.8 791.9,2026.1 792.6,1985.2 792.7,2051 792.8,2043.6 792.8,2056.3 792.8,2020.6 792.8,2059.8 793.1,2052.5 793.1,2060.4 793.1,2028.8 793.3,1992.8 793.3,2040.6 793.7,2022.6 793.8,2056.9 793.9,1977.6 794.5,2043.8 794.7,2031.6 794.8,2050.2 794.9,2049.2 795,2034.7 795.1,2059.3 796.2,2018.3 796.3,2059 796.7,2058.2 797.1,1986.7 797.2,2057.4 797.3,2058.1 797.6,2040.5 797.6,2052.6 797.7,1992.3 798.2,2031 798.3,2052.5 798.4,2058.3 798.4,2060 798.7,2028.8 799.1,2060.6 799.1,2052 799.4,2055.7 799.6,2050.3 800.1,2014.8 800.4,2023.6 800.6,2026.4 800.6,2053.1 800.6,2011.2 800.7,2044.2 800.9,2006.7 800.9,2059.2 801.1,2003.9 801.1,2060 801.1,2059.7 801.4,2005.1 801.7,2052.7 801.9,2013.9 802.1,2033.6 802.1,2014.9 802.4,2051.6 802.5,2028.6 803,2059.2 803.2,2060.1 803.4,2059.3 803.9,2058.1 804.2,2052.2 804.4,2050.9 804.7,2045.2 804.8,2053.5 805,2009 805,2047 805,2037.5 805.1,2052.5 805.2,2035.9 805.3,2017.4 805.4,2045.5 805.5,2059.9 805.6,2016.4 805.9,2057.6 806,2028.1 806.8,2057.8 806.8,2052 807.3,2010.7 807.5,2017 807.5,2043.5 807.6,2030.1 807.6,2034.9 807.8,2046 807.8,2055.1 807.8,2046.6 808,2017.8 808.1,2011.3 808.3,2052.7 808.3,2060.2 808.4,2035 808.5,2033.9 808.7,2054.8 808.7,2026.3 809.3,2059.7 809.3,2042.7 809.7,2058.4 809.8,2052.3 809.8,2050.5 810.4,2046.6 810.5,2016.6 810.6,2059.6 810.7,2059.5 810.9,2056.1 811.5,2038.6 811.7,2042.5 811.9,2052.3 812.1,2028.5 812.7,2051.7 812.9,2051.8 813.2,2057.7 813.4,2058.1 813.4,2057.3 813.9,2024.7 814.2,2046.6 814.2,2013 814.3,2058.5 814.4,2057.7 814.5,2018.5 814.5,2048 814.6,2024.4 814.7,2059.5 814.8,2044.2 815.1,2036.8 815.1,2054.3 815.6,2050 815.7,2056.9 816.8,2057.9 817.3,2037 817.5,2051.3 817.6,2056.1 817.7,2022.5 818.1,2052.9 818.1,2058.7 818.4,2059.9 818.4,2054.8 818.5,2043.2 818.6,2056.3 819.1,2053.2 819.8,2058.1 820.1,2039.3 820.9,2036.3 821,2047.1 821.2,2035.8 821.6,2059.4 822.5,2031.7 822.7,2054.2 823.1,2059.3 823.1,2057 823.6,2053.9 823.7,2059.5 823.8,2057.4 823.9,2046 824,2060.2 824.3,2058.3 825,2050.4 825.1,2020.5 825.5,2008.4 825.8,2057.7 825.8,2058.5 825.9,2045.5 826.2,2052 826.2,2051.8 826.3,2059 826.3,2058.6 826.4,2023.4 826.4,2048.8 826.8,2057.9 827.1,2051.2 827.1,2052.8 827.2,2051.3 827.5,2044.8 827.8,2060.5 828,2055.5 828.1,2047.2 828.6,2058.4 828.6,2060.6 828.7,2049.7 829.2,2057.5 829.5,2030.5 829.7,2050.3 830.3,2020.6 830.4,2060.4 830.8,2008.4 830.9,2056.6 831,2054.1 831.5,2049.6 831.7,2021.9 832.1,2060.4 832.5,2059.6 832.7,2041.5 832.7,2049.7 832.8,2060.3 833.9,2060.5 834.1,2054.4 834.6,2058.7 835.9,2043.1 836,2030.5 836.1,2054.8 836.8,2060.5 836.9,2037.9 836.9,2055.9 837.3,2059.1 837.6,2057.5 837.7,2052.8 837.9,2049.7 838,2044.3 838.3,2025.9 838.4,2059.8 838.4,2041.6 838.4,2060.5 838.5,2035.8 838.7,2040.7 838.9,2046.6 839,2053.1 839.4,2033.9 839.7,2059.2 839.7,2013.6 840.2,2050.2 840.2,2055.3 840.4,2043.7 840.5,2023.1 840.5,2051.6 841,2059.2 841.1,2052.7 841.2,2058.9 841.4,2059.4 841.7,2047.8 841.7,2029.7 841.7,2051 842.3,2048.8 842.5,2045.1 843.1,2057.2 843.4,2048 843.8,2060.4 843.8,2010.3 844.2,2027.8 844.6,2058.9 844.7,2056.9 845.2,2057.3 845.3,2051 846.1,2057.6 847,2052.6 847.1,2009.5 847.4,2046.6 847.4,2058.5 848.5,2050.3 848.7,2031.4 848.7,2048.8 848.8,2056.5 849.1,2046.6 849.3,2053.5 849.8,2055.5 849.9,2013.3 851.2,2052.1 851.4,2017.7 851.4,2060.1 851.8,2054.4 852,2032.6 852.2,2046.6 852.6,2059.3 852.7,2055.4 852.9,2054.8 853.4,2031.2 853.9,2046.6 854,2035.9 854.3,2010.7 854.8,2047 855,2051.1 855.3,2053.6 855.7,2057.9 856.1,2014.2 856.1,2018.6 856.5,2047 856.7,2022.8 857.4,2044.7 857.8,2013.5 857.9,2059.1 857.9,2047.2 858,2053.2 858.1,2058.7 858.5,2008.5 858.6,2021 858.7,2034.2 858.9,2009.2 859,2043.8 859.1,2058 859.1,2044.2 859.3,2044.9 859.5,2024.9 859.8,2042.8 859.9,2046.2 860.2,2051.6 860.3,2057.5 860.5,2053.1 860.7,2046.6 861,2056.8 861,2056.1 861.3,2055.3 861.5,2059.4 861.6,2059.3 862,2060.5 862,2058.8 862.1,2059.1 862.1,2059.3 862.4,2035.7 862.4,2031.8 862.5,2060.5 862.8,2054.1 863.1,2056.9 863.2,2037.1 863.3,2053 863.6,2046.6 863.7,2049.9 864,2033.1 864.1,2055 864.4,2046.6 864.6,2013.4 865.2,2059.4 865.4,2059 866,2058.1 866.2,2054 866.2,2055.3 866.5,2037.5 866.5,2034.1 866.6,2046.8 866.8,2022.5 867,2060.3 867.1,2049.1 867.3,2023.7 867.3,2059.6 867.5,2055.1 867.6,2059.4 867.7,2058.8 867.7,2057.2 867.9,2052.2 867.9,2055.4 868.4,2021.7 868.7,2047.7 868.7,2059.1 869.1,2039.1 869.1,2044.6 869.5,2048.5 869.7,2057.5 870.1,2043.7 870.5,2042.2 870.9,2056.1 871,2009.4 871.2,2042 871.2,2048.5 871.3,2039.1 872.8,2017.6 873.2,2054.6 873.4,2019.1 873.7,2036 874.8,2048.6 875,2044.7 875.1,2023.1 875.7,2053.6 876.2,2032.9 876.2,2053.3 876.3,2055.4 876.3,2058.8 877.1,2057.3 877.7,2037.7 877.7,2024.7 877.8,2017 878.6,2052.9 878.6,2046.6 878.7,2026.8 879,2040.8 879.3,2057.1 879.6,2059.2 879.9,2057.3 880.2,2045.4 880.4,2038.5 881.5,2054.2 881.8,2051.4 882,2022.4 882.2,2050 882.6,2059.9 882.6,2058.1 882.8,2059.6 883,2059.6 883.3,2047 883.6,2059.3 883.6,2059.6 883.6,2040.6 883.8,2059.3 884,2059.2 884.2,2026.2 884.9,2055.7 885.4,2058.2 885.6,2051 885.7,2053.7 885.9,2043.1 886.2,2007.9 887,2007.8 887.3,2019 887.5,2042.2 887.7,2036.4 887.8,2059.3 888.3,2032.8 888.5,2027.5 888.6,2034.5 888.9,2033.9 889,2012.9 889.2,2026.3 889.3,2045.1 889.6,2057.1 889.6,2038 889.7,2010.9 889.9,2059.8 890.2,2043.7 890.7,2033.2 892,2059.7 892.3,2055.9 893.2,2054.5 893.4,2023.8 893.5,2054.8 893.6,2054.8 894,2043.6 894.2,2053.4 894.2,2038.1 894.2,2059.8 894.3,2055 894.3,2060.3 895.1,2057.5 895.5,2058.2 895.5,2008.8 895.7,2010.9 896.3,2036.9 896.3,2009.7 896.4,2027.2 896.6,2038.4 896.7,2009.1 896.9,2059 897,2055.4 897.2,2059.9 897.5,2007.7 898.2,2018.2 898.8,2058.4 899.9,2046.9 901.4,2054.5 901.4,2046.6 901.4,2059.3 901.5,2053.1 901.6,2054.2 901.6,2059 901.9,2059.1 902.1,2011.3 902.3,2059.8 902.8,2036.7 902.9,2015.4 903.2,2054 903.5,2053.2 903.5,2056.3 903.5,2028.6 903.7,2047.9 904.1,2032.4 904.1,2038.4 904.1,2011.5 904.2,2058.1 904.4,2040.3 904.5,2057.4 904.5,2038.2 904.6,2010.2 904.7,2041.1 905,2053.1 905.1,2041.7 905.3,2016.7 905.4,2057.3 905.4,2035.3 905.7,2025.2 905.7,2051.6 906.1,2057.2 906.2,2049.9 906.4,2055.2 906.4,2034.6 906.5,2051 906.5,2010.4 906.6,2059 906.6,2046.6 906.9,2040.9 906.9,2051.2 907.1,2009.6 907.3,2056.1 907.3,2031.9 907.3,2027.6 907.3,2016.7 907.3,2040.8 907.4,2053.6 907.4,2059.7 907.4,2018.7 907.6,2057.2 907.6,2053.6 907.7,2055.7 907.7,2035.8 907.8,2009.8 908.1,2057.6 908.3,2058.9 908.3,2052.3 908.7,2034.2 908.9,2059.3 909,2060.3 909.1,2054.9 909.1,2043.3 909.1,2009.4 909.1,2020.6 909.2,2011.4 909.5,2057.1 909.6,2060.4 909.6,2042.1 909.6,2054.1 909.7,2034.5 909.8,2053.7 909.8,2008.4 909.9,2053.8 910,2010.6 910.1,2055.2 910.7,2043.1 910.9,2040.6 911.2,2053 911.2,2040.4 911.7,2047.2 911.9,2026.9 912,2010.2 912.1,2055.8 912.3,2051.2 912.4,2053.8 912.5,2038.6 912.5,2031.2 912.5,2058.7 912.8,2050.3 913.1,2008.1 913.5,2035 913.9,2033.9 914.1,2055.5 914.2,2060.4 914.3,2059.7 915.6,2059.4 915.7,2059.4 916.1,2058.7 916.3,2041.9 916.3,2050.8 916.5,2057.2 916.6,2048.6 917.9,2059.9 918.4,2037.9 918.5,2058.5 918.6,2052.4 920.2,2058.7 921.2,2046.7 921.5,2057.7 921.6,2030.6 921.6,2012 921.6,2008.3 921.6,2016.7 921.6,2058.1 923.2,2042.2 923.2,2049.1 923.4,2060.5 923.4,2041 923.5,2039.2 923.6,2010.6 924.1,2060.5 924.8,2044.7 925.2,2060.5 925.3,2058.8 925.8,2036.8 926.1,2059.2 926.1,2022.2 926.1,2052.1 926.1,2058.4 926.5,2019.7 926.6,2052.3 927,2059.6 927.1,2034.1 927.1,2056.1 927.1,2047.6 927.2,2053.6 927.9,2055.3 928.1,2060.5 928.1,2059.3 928.2,2021.8 928.2,2024.6 928.3,2052.5 928.6,2028.3 928.7,2017.6 929,2048.9 929.3,2023.7 929.5,2059.4 929.8,2059.9 929.9,2053.2 930,2060.1 930.1,2045.9 930.2,2053.6 930.4,2048.9 930.7,2037.3 930.8,2056.6 931.3,2059.4 931.6,2032.2 931.8,2059.8 932.7,2040.2 932.7,2047.4 933.3,2052 934.1,2017.2 934.2,2058.4 934.8,2056.3 934.8,2059.4 934.9,2053.2 934.9,2034.7 934.9,2034.4 935.3,2055 935.5,2021.2 935.5,2030.1 935.7,2045.9 936.2,2017.2 936.2,2051.6 936.5,2014.4 936.6,2059.2 936.9,2027.9 937,2060.4 937.6,2052.9 937.8,2058.2 939.4,2048.2 939.5,2033.2 939.9,2019 940,2055.1 940.5,2047.2 940.7,2046.6 940.7,2039 941.1,2056.4 941.3,2035.3 941.4,2018.3 941.5,2019.8 941.6,2056.2 941.8,2049.4 942.3,2058.5 942.4,2060.4 942.5,2028.6 942.6,2046.6 942.6,2051.9 942.7,2049 943,2020.4 943.1,2043.2 943.5,2054.2 944,2049.8 944.2,2054.5 944.9,2042.3 945,2048.3 945.1,2033.2 945.2,2059 946.2,2040.2 947,2060.5 947.4,2049.1 947.5,2045.7 947.9,2060 948.1,2038.2 948.2,2045.1 948.8,2057.6 949,2051.3 949.4,2024 949.7,2059.7 950.2,2057.4 950.3,2037 950.9,2043 950.9,2056.1" fill="none" stroke="none" marker-start="url(#cnavy)" marker-mid="url(#cnavy)" marker-end="url(#cnavy)"/>
<polyline points="539.4,1751.5 519.8,1818.2 549.6,1818.2 416.1,1880.4 514.8,1894.7 549,1916.9 531.5,1971.6 419,1911.7 735.5,1906.7 768.8,1909.3 768.8,1935.1 772.6,1957.8 656.3,1997.3 682,2011.9 487.7,1788.9 544.7,1869.3 282,1946 161,2011.3 144.7,2022.3 303,1973.6 312.3,1971 310.9,1997.3 271.5,1998.6 385.9,1972.3 531.9,1971 380.6,2030.2 334.6,2031.5 656.7,1997.3 682.4,2011 873.8,2009 937.5,2026.5 415.8,1881.2 419.3,1911" fill="none" stroke="none" marker-start="url(#cgrey)" marker-mid="url(#cgrey)" marker-end="url(#cgrey)"/>
<polyline points="419,1899.4 446.8,1937.1 461.4,1945.3 589.9,1952.6 487.7,1959.9 495,1970.1 502.3,1978 408.8,1976 420.5,1978.9 435.1,1983.3 440.9,1990.6 613.3,1978 495,2002.3 528.6,1999.3 546.1,1990.6 435.1,2005.2 439.5,2008.1 541.7,2006.7 461.4,2016.9 471.6,2019.8 493.5,2021.3 480.4,2024.2 509.6,2019.8 416.1,2027.1 433.6,2023.3 516.9,2031.5 487.7,2033 528.6,2025.6 535.9,2025.6 457,2038.8 607.5,1997.9 633.8,1987.7 641.1,1986.2 648.4,1987.7 679.1,1990.6 705.4,2001.7 693.7,2003.7 670.3,2008.1 651.3,2011 721.4,1978.9 735.5,1965.7 750.7,1962.8 756.5,1967.2 763.8,1970.1 771.1,1935.1 778.4,1932.1 778.4,1938 768.2,1945.3 768.2,1951.1 786.6,1952 772.6,1977.4 779.9,1984.7 779.9,1999.3 810.6,1981.8 804.7,1987.7 822.3,1993.5 831,1997.9 851.5,1997.9 798.9,2000.8 894.4,1919.9 896.8,1945.3 892.4,1967.8 899.7,1995 899.7,2008.1 730.2,1971.6 739,1974.5 744.8,1980.4 753.6,1977.4 762.4,1983.3 727.3,1989.1 736.1,1995 747.7,1992 759.4,1995 769.7,1989.1 894.8,1919.9 898.6,1945.6 892.8,1968.1 905.3,1984.7 900.1,1993.5 903,2000.8 930.8,2003.1 930.8,2011 940.4,2018.3 810.4,1982.7 805.1,1988.5 823.5,1992.9 831.4,1996.4 838.7,2001.7 851.9,1998.8 800.1,2000.8 787.6,1952 679.5,1990.6 648.8,1987.7 640,1986.2 706.3,2001.7 694.1,2002.9 669.2,2008.1 651.7,2011 701.4,2015.4 735,1965.7 730.6,1970.1 721.8,1980.4 723.3,1986.2 751,1962.8 758.4,1967.2 764.2,1970.1 775.9,1974.5 778.8,1986.2 781.7,1999.3 768.6,1935.1 773,1933.6 779.7,1933 779.7,1938.9 768.6,1942.4 768.6,1948.2 768.6,1952.6 881.1,2009.6 891.3,2008.1 857.7,2008.1 865,2011 815.3,2008.1 917.6,2014 736.4,1977.4 742.3,1983.3 748.1,1974.5 756.9,1980.4 765.7,1983.3 733.5,1992 745.2,1995 756.9,1992 768.6,1995 727.7,2000.8 739.4,2003.7 107.9,1990 176.8,1955.8 145.2,1997.3 155.8,1997.3 171.5,1996 184.7,1993.4 121.6,2005.2 113.7,2007.8 130.8,2014.4 208.4,1936 219.4,1932.1 239.9,1927.6 238.6,1935.5 263.6,1913.2 262.3,1932.9 208.4,1950 214.9,1953.9 229.4,1940.8 245.2,1946 228.1,1956.5 237.3,1963.1 213.1,1967.9 250.4,1969.7 226.8,1976.3 268.9,1948.7 276.7,1952.6 261,1963.1 276.7,1963.1 285.9,1973.6 264.9,1975 295.2,1964.4 303,1964.4 303,1925 301.7,1935.5 326.7,1932.9 279.4,1992.1 297.8,1992.1 288.6,2001.3 203.1,1989.4 216.2,1984.2 229.4,1986.8 242.6,1984.2 258.3,1986.8 203.1,2001.3 446.4,1936.8 462.2,1946 488.5,1959.2 495,1969.7 501.6,1978.4 441.1,1990.7 434.6,1982.9 409.6,1975 397.7,1975 387.2,1965.8 364.9,1971 353,1976.3 437.2,2005.2 441.1,2007.8 434.6,2022.3 414.8,2026.2 495,2001.3 460.9,2015.7 474,2019.7 481.9,2024.9 492.4,2022.3 508.2,2019.7 529.2,1998.6 529.2,2024.9 456.9,2039.4 474,2039.4 518.7,2032.8 501.6,2031.5 326.7,2009.2 339.9,2015.7 347.8,2023.6 359.6,2024.9 324.1,2019.7 372.7,2011.8 375.4,2021 388.5,2018.4 396.4,2027.6 405.6,2034.1 424,2038.1 330.7,2031.5 313.6,2019.7 420.2,1899.9 264.5,1913.4 303.9,1917.5 239.6,1927.7 220.6,1931.5 208.1,1936.5 263,1933 303.9,1925.6 303.9,1934.4 327.3,1933" fill="none" stroke="none" marker-start="url(#cnavy)" marker-mid="url(#cnavy)" marker-end="url(#cnavy)"/>
<polyline points="417.5,1850.3 455.5,1884.5 411.7,1888.3 415.2,1894.1 480.9,1910.8 413.2,1913.1 424.8,1944.4 416.1,1945.3 435.1,1952 402.9,1958.4 411.7,1961.4 416.1,1961.4 424.8,1977.4 535,1968.7 567.4,1976.8 537.3,1996.4 547.6,1995 554,2011.6 584.7,2027.1 395.1,1884.1 391.6,1920.7 308.8,1916.3 313.6,1935.5 320.1,1945.2 305.7,1951.3 312.3,1950 342,1944.7 349.1,1944.7 353,1938.9 358.3,1940.8 363.5,1942.1 372.7,1938.1 368.8,1946 374.1,1943.4 376.7,1955.8 385.9,1948.7 391.2,1919.7 391.2,1955.2 396.4,1951.3 401.7,1956.5 414.8,1944.7 425.3,1944.7 435.9,1952.6 416.1,1961.8 410.9,1961.8 316.2,1978.4 331.5,1978.4 343.8,1973.1 326.7,1985.5 334.6,1990.7 342.5,1988.1 351.7,1986.8 320.1,1996 328.8,1995.2 338.6,1998.6 345.1,1997.3 353,2001.3 360.9,1997.3 368.8,1997.3 371.4,1985.5 378,1982.9 383.3,1982.9 388.5,1989.4 375.4,1992.1 382,1996 387.2,2003.9 383.3,2006.5 311.7,2012.6 424.6,1977.6 534.5,1968.4 537.1,1996.8 417.3,1850.5 455.9,1884.7 410.6,1889.7 415,1894.1 413.5,1914.5 309.2,1916.3 480.7,1910.5" fill="none" stroke="none" marker-start="url(#clblue)" marker-mid="url(#clblue)" marker-end="url(#clblue)"/>
<polyline points="419.9,1918.1 450.3,1950.5 470.1,1954.1 485.3,1950.5 551.4,1952 546.1,1945.3 575.9,1997.3 397.7,1919.7 401.7,1930.2 396.4,1932.9 406.9,1935.5 391.2,1940.8 399,1942.1 406.9,1947.3 416.1,1953.9 420.1,1917.9 431.9,1957.9 450.3,1951.3 470.1,1954.7 485.3,1950.8 397.4,1919.8 420.2,1917.8" fill="none" stroke="none" marker-start="url(#cgreen)" marker-mid="url(#cgreen)" marker-end="url(#cgreen)"/>
<polyline points="400,1775.8 408.8,1791.9 433.6,1788.9 420.5,1797.7 402.9,1805 429.2,1803.6 438,1805 445.3,1800.6 408.8,1822 461.4,1793.3 471.6,1796.2 470.1,1805 477.4,1809.4 495,1805 483.3,1813.8 493.5,1812.3 467.2,1818.2 477.4,1819.6 477.4,1829.9 486.2,1830.7 505.2,1824 508.1,1831.3 516.9,1799.2 518.4,1828.4 519.8,1835.7 530,1831.3 543.2,1831.3 559.3,1810.9 560.7,1818.2 554.9,1826.9 519.8,1850.3 531.5,1851.8 537.3,1851.8 549,1850.3 554.9,1847.4 522.7,1862 535.9,1863.5 541.7,1864.9 544.7,1875.1 534.4,1883.9 554.9,1892.7 560.1,1900 533,1914 562.2,1931.5 562.2,1940.9 562.2,1954.1 565.1,1964.3 396,1776.6 395.1,1815.5" fill="none" stroke="none" marker-start="url(#corange)" marker-mid="url(#corange)" marker-end="url(#corange)"/>
<polyline points="560.1,1768.5 566.6,1788.4 546.1,1796.2 553.4,1794.8 563.6,1795.7 432.1,1762.6 424.8,1767 443.8,1764.1 455.5,1761.8 465.8,1769.4 429.2,1771.4 424.8,1776.4 440.9,1772.9 452.6,1771.4 461.4,1774.3 454.1,1780.2 468.7,1775.8 478.9,1772.9 484.7,1769.9 489.1,1772.9 493.5,1778.7 502.3,1774.3 511,1778.7 478.9,1781.6 468.7,1783.1 500.8,1781.6 509.6,1784.6 497.9,1794.8 432.1,1797.7 512.5,1797.7 519.8,1794.8 524.2,1800.6 530,1806.5 535,1805 537.3,1813.8 512.5,1812.3 538.8,1822.5 524.2,1825.5 553.4,1825.5 524.2,1838.6 531.5,1843 538.8,1840.1 546.1,1844.5 530,1859.1 541.7,1856.2 524.2,1872.2 535.9,1873.7 559.3,1869.3 566.6,1879.5 567.4,1894.1 563.6,1913.1 559.3,1917.5 552,1938" fill="none" stroke="none" marker-start="url(#cred)" marker-mid="url(#cred)" marker-end="url(#cred)"/>
<path d="M535.9 1698.8l8.3 8.3l-8.3 8.3l-8.3 -8.3z" fill="#3a3a36"/><circle cx="535.9" cy="1707.1" r="6.3" fill="#8a2be2" stroke="#3a3a36" stroke-width="1.3"/>
</g>
<g fill="none" stroke="#707070" stroke-width="1.25">
<rect x="102.9" y="1597.2" width="866.7" height="485.3"/>
<rect x="102.9" y="2104.7" width="866.7" height="103.1"/>
</g>
<g stroke="#555" stroke-width="1.2">
<path d="M91.4 2060.6H102.9"/>
<path d="M91.4 1972.3H102.9"/>
<path d="M91.4 1883.9H102.9"/>
<path d="M91.4 1795.6H102.9"/>
<path d="M91.4 1707.2H102.9"/>
<path d="M91.4 1618.9H102.9"/>
<path d="M251.3 2207.8V2218.8"/>
<path d="M424.6 2207.8V2218.8"/>
<path d="M598 2207.8V2218.8"/>
<path d="M771.6 2207.8V2218.8"/>
<path d="M945.1 2207.8V2218.8"/>
</g>
<text x="80.9" y="2066.6" font-size="17.5" text-anchor="end" fill="#4d4d4d">0</text>
<text x="80.9" y="1978.3" font-size="17.5" text-anchor="end" fill="#4d4d4d">2</text>
<text x="80.9" y="1889.9" font-size="17.5" text-anchor="end" fill="#4d4d4d">4</text>
<text x="80.9" y="1801.6" font-size="17.5" text-anchor="end" fill="#4d4d4d">6</text>
<text x="80.9" y="1713.2" font-size="17.5" text-anchor="end" fill="#4d4d4d">8</text>
<text x="80.9" y="1624.9" font-size="17.5" text-anchor="end" fill="#4d4d4d">10</text>
<text x="251.3" y="2247.3" font-size="17.5" text-anchor="middle" fill="#4d4d4d">35.6</text>
<text x="424.6" y="2247.3" font-size="17.5" text-anchor="middle" fill="#4d4d4d">35.8</text>
<text x="598" y="2247.3" font-size="17.5" text-anchor="middle" fill="#4d4d4d">36</text>
<text x="771.6" y="2247.3" font-size="17.5" text-anchor="middle" fill="#4d4d4d">36.2</text>
<text x="945.1" y="2247.3" font-size="17.5" text-anchor="middle" fill="#4d4d4d">36.4</text>
<g stroke="#3535ff" stroke-width="1.2">
<path d="M969.6 1618.9V2060.6" stroke-width="1"/>
<path d="M969.6 2060.6H980.6"/>
<path d="M969.6 1972.3H980.6"/>
<path d="M969.6 1883.9H980.6"/>
<path d="M969.6 1795.6H980.6"/>
<path d="M969.6 1707.2H980.6"/>
<path d="M969.6 1618.9H980.6"/>
</g>
<text x="992.1" y="2066.6" font-size="17.5" fill="#2a2aff">0</text>
<text x="992.1" y="1978.3" font-size="17.5" fill="#2a2aff">20</text>
<text x="992.1" y="1889.9" font-size="17.5" fill="#2a2aff">40</text>
<text x="992.1" y="1801.6" font-size="17.5" fill="#2a2aff">60</text>
<text x="992.1" y="1713.2" font-size="17.5" fill="#2a2aff">80</text>
<text x="992.1" y="1624.9" font-size="17.5" fill="#2a2aff">100</text>
<text x="1027.9" y="1839.8" font-size="18" text-anchor="middle" fill="#2a2aff" transform="rotate(90 1027.9 1839.8)">Recombination rate (cM/Mb)</text>
<text x="44.6" y="1844.2" font-size="28" text-anchor="middle" transform="rotate(-90 44.6 1844.2)">-log<tspan font-size="18" dy="6.5">10</tspan><tspan dy="-6.5">(p-value)</tspan></text>
<text x="521.3" y="2281.4" font-size="28.7" text-anchor="middle">Position on chr7 (Mb)</text>
<rect x="888.1" y="1605.8" width="72.5" height="173.8" fill="#fff" stroke="#555" stroke-width="1"/>
<rect x="898.3" y="1636.4" width="17.3" height="26.9" fill="#ff0000" stroke="#444" stroke-width="0.8"/>
<rect x="898.3" y="1663.3" width="17.3" height="26.9" fill="#ffa500" stroke="#444" stroke-width="0.8"/>
<rect x="898.3" y="1690.2" width="17.3" height="26.9" fill="#00ff00" stroke="#444" stroke-width="0.8"/>
<rect x="898.3" y="1717.1" width="17.3" height="26.9" fill="#87cefa" stroke="#444" stroke-width="0.8"/>
<rect x="898.3" y="1744" width="17.3" height="26.9" fill="#000080" stroke="#444" stroke-width="0.8"/>
<g stroke="#444" stroke-width="1">
<path d="M915.6 1663.3H923.8"/>
<path d="M915.6 1690.2H923.8"/>
<path d="M915.6 1717.1H923.8"/>
<path d="M915.6 1744H923.8"/>
</g>
<text x="929.8" y="1668.6" font-size="15" fill="#333">0.8</text>
<text x="929.8" y="1695.5" font-size="15" fill="#333">0.6</text>
<text x="929.8" y="1722.4" font-size="15" fill="#333">0.4</text>
<text x="929.8" y="1749.3" font-size="15" fill="#333">0.2</text>
<text x="917.7" y="1630" font-size="19.5" fill="#333">r<tspan font-size="13.5" dy="-8.5">2</tspan></text>
<text x="541" y="1686.7" font-size="32" text-anchor="middle">rs1143149</text>
<g stroke="#000080" fill="none">
<path d="M314.6 2129H368.4" stroke-width="1.2"/>
<rect x="314.6" y="2126" width="3" height="6" fill="#000080" stroke="none"/>
<path d="M319.1 2126V2132M344 2126V2132M347 2126V2132M349.5 2126V2132M368.4 2126V2132" stroke-width="1.1"/>
</g>
<path d="M0 2116.6H15M15 2116.6l-4.6 4.2M15 2116.6l-4.6 -4.2" transform="scale(-1 1) translate(-310.1 0)" stroke="#000" stroke-width="1" fill="none"/>
<text x="313.6" y="2121.6" font-size="15" font-style="italic">HERPUD2</text>
<g stroke="#000080" fill="none">
<path d="M459.8 2129H552.4" stroke-width="1.2"/>
<rect x="527.5" y="2126" width="1.5" height="6" fill="#000080" stroke="none"/>
<rect x="531" y="2126" width="3.2" height="6" fill="#000080" stroke="none"/>
<rect x="549.4" y="2126" width="3" height="6" fill="#000080" stroke="none"/>
<path d="M459.8 2126V2132M487.7 2126V2132M514.5 2126V2132M522 2126V2132M537.9 2126V2132M544.2 2126V2132" stroke-width="1.1"/>
</g>
<text x="475.9" y="2121.6" font-size="15" font-style="italic">SEPT7</text>
<path d="M525 2116.6h15m0 0l-4.6 4.2m4.6 -4.2l-4.6 -4.2" stroke="#000" stroke-width="1" fill="none"/>
<g stroke="#000080" fill="none">
<path d="M715 2129H719.6" stroke-width="1.2"/>
<rect x="717.8" y="2126" width="1.8" height="6" fill="#000080" stroke="none"/>
<path d="M715.2 2126V2132" stroke-width="1.1"/>
</g>
<text x="657.3" y="2121.6" font-size="15" font-style="italic">LOC101928618</text>
<path d="M765.2 2116.6h15m0 0l-4.6 4.2m4.6 -4.2l-4.6 -4.2" stroke="#000" stroke-width="1" fill="none"/>
<g stroke="#000080" fill="none">
<path d="M913.2 2129H969.6" stroke-width="1.2"/>
<rect x="913.2" y="2126" width="3" height="6" fill="#000080" stroke="none"/>
<rect x="920.2" y="2126" width="3.8" height="6" fill="#000080" stroke="none"/>
<path d="M942.2 2126V2132M950.6 2126V2132" stroke-width="1.1"/>
</g>
<path d="M0 2116.6H15M15 2116.6l-4.6 4.2M15 2116.6l-4.6 -4.2" transform="scale(-1 1) translate(-892.4 0)" stroke="#000" stroke-width="1" fill="none"/>
<text x="895.9" y="2121.6" font-size="15" font-style="italic">KIAA0895</text>
<g stroke="#000080" fill="none">
<path d="M386.6 2164H389.6" stroke-width="1.2"/>
<rect x="386.4" y="2161" width="1.2" height="6" fill="#000080" stroke="none"/>
<rect x="388.6" y="2161" width="1.2" height="6" fill="#000080" stroke="none"/>
</g>
<text x="328.2" y="2156.6" font-size="15" font-style="italic">LOC100506725</text>
<path d="M436.1 2151.6h15m0 0l-4.6 4.2m4.6 -4.2l-4.6 -4.2" stroke="#000" stroke-width="1" fill="none"/>
<g stroke="#000080" fill="none">
<path d="M765.8 2164H893.7" stroke-width="1.2"/>
<rect x="765" y="2161" width="2.5" height="6" fill="#000080" stroke="none"/>
<rect x="889.8" y="2161" width="4.1" height="6" fill="#000080" stroke="none"/>
<path d="M839.6 2161V2167M876.7 2161V2167M879.2 2161V2167M881.6 2161V2167" stroke-width="1.1"/>
</g>
<text x="798" y="2156.6" font-size="15" font-style="italic">EEPD1</text>
<path d="M848.8 2151.6h15m0 0l-4.6 4.2m4.6 -4.2l-4.6 -4.2" stroke="#000" stroke-width="1" fill="none"/>
<g stroke="#000080" fill="none">
<path d="M420 2198.3H459.8" stroke-width="1.2"/>
<path d="M420 2195.3V2201.3M422.4 2195.3V2201.3M442.8 2195.3V2201.3M453.7 2195.3V2201.3M459.8 2195.3V2201.3" stroke-width="1.1"/>
</g>
<path d="M0 2185.9H15M15 2185.9l-4.6 4.2M15 2185.9l-4.6 -4.2" transform="scale(-1 1) translate(-391.6 0)" stroke="#000" stroke-width="1" fill="none"/>
<text x="395.1" y="2190.9" font-size="15" font-style="italic">LOC101928545</text>
</g>
<g id="panel-d">
<g stroke="#000" stroke-width="1.5" fill="none">
<path d="M1186.8 702.3V1265.6H1818.5"/>
<path d="M1186.8 1239.7h-4M1186.8 1188.5h-4M1186.8 1137.4h-4M1186.8 1086.2h-4M1186.8 1035.1h-4M1186.8 984h-4M1186.8 932.8h-4M1186.8 881.7h-4M1186.8 830.5h-4M1186.8 779.4h-4M1186.8 728.2h-4M1215.3 1265.6v3M1330.4 1265.6v3M1445.5 1265.6v3M1560.6 1265.6v3M1675.7 1265.6v3M1790.8 1265.6v3" stroke-width="1"/>
</g>
<text x="1177" y="1249" font-size="24.4" text-anchor="end">0.0</text>
<text x="1177" y="1197.8" font-size="24.4" text-anchor="end">0.1</text>
<text x="1177" y="1146.7" font-size="24.4" text-anchor="end">0.2</text>
<text x="1177" y="1095.5" font-size="24.4" text-anchor="end">0.3</text>
<text x="1177" y="1044.4" font-size="24.4" text-anchor="end">0.4</text>
<text x="1177" y="993.2" font-size="24.4" text-anchor="end">0.5</text>
<text x="1177" y="942.1" font-size="24.4" text-anchor="end">0.6</text>
<text x="1177" y="891" font-size="24.4" text-anchor="end">0.7</text>
<text x="1177" y="839.8" font-size="24.4" text-anchor="end">0.8</text>
<text x="1177" y="788.6" font-size="24.4" text-anchor="end">0.9</text>
<text x="1177" y="737.5" font-size="24.4" text-anchor="end">1.0</text>
<text x="1215.3" y="1291.2" font-size="26.1" text-anchor="middle">0</text>
<text x="1330.4" y="1291.2" font-size="26.1" text-anchor="middle">5</text>
<text x="1445.5" y="1291.2" font-size="26.1" text-anchor="middle">10</text>
<text x="1560.6" y="1291.2" font-size="26.1" text-anchor="middle">15</text>
<text x="1675.7" y="1291.2" font-size="26.1" text-anchor="middle">20</text>
<text x="1790.8" y="1291.2" font-size="26.1" text-anchor="middle">25</text>
<text x="1133.8" y="983.9" font-size="26.1" text-anchor="middle" transform="rotate(-90 1133.8 983.9)">Survival probability</text>
<text x="1502.5" y="1319.6" font-size="26.1" text-anchor="middle">Overall survival (years)</text>
<text x="1087" y="1311.4" font-size="26.1">N at risk</text>
<path d="M1216.1 728.1L1218.3 728.1L1218.3 739.3L1220.2 739.3L1220.2 745.8L1222.1 745.8L1222.1 752.4L1223.5 752.4L1223.5 763.6L1224.9 763.6L1224.9 774.8L1226.8 774.8L1226.8 787L1228.6 787L1228.6 799.1L1230.5 799.1L1230.5 809.4L1232.4 809.4L1232.4 819.7L1233.8 819.7L1233.8 830.9L1235.2 830.9L1235.2 842.1L1237 842.1L1237 860.8L1238.9 860.8L1238.9 875.8L1240.8 875.8L1240.8 882.3L1242.7 882.3L1242.7 888.9L1244.5 888.9L1244.5 896.4L1246.4 896.4L1246.4 903.9L1248.3 903.9L1248.3 911.3L1250.1 911.3L1250.1 918.8L1252 918.8L1252 926.3L1253.9 926.3L1253.9 933.8L1254.8 933.8L1254.8 940L1256.3 940L1256.3 943.4L1257.8 943.4L1257.8 946.7L1259.3 946.7L1259.3 950.1L1260.8 950.1L1260.8 953.5L1262.3 953.5L1262.3 956.8L1263.7 956.8L1263.7 960.6L1265.1 960.6L1265.1 964.3L1266.5 964.3L1266.5 968.1L1267.9 968.1L1267.9 971.8L1269.5 971.8L1269.5 976.8L1271 976.8L1271 981.8L1272.6 981.8L1272.6 986.8L1274.1 986.8L1274.1 991.1L1275.7 991.1L1275.7 995.5L1277.3 995.5L1277.3 999.8L1278.7 999.8L1278.7 1005.5L1280.1 1005.5L1280.1 1011.1L1281.9 1011.1L1281.9 1024.2L1283.8 1024.2L1283.8 1028.8L1285.7 1028.8L1285.7 1033.5L1287.5 1033.5L1287.5 1039.1L1289.4 1039.1L1289.4 1044.7L1290.8 1044.7L1290.8 1050.3L1292.2 1050.3L1292.2 1056L1294.1 1056L1294.1 1061.6L1296 1061.6L1296 1067.2L1297.8 1067.2L1297.8 1071.8L1299.7 1071.8L1299.7 1076.5L1301.1 1076.5L1301.1 1082.1L1302.5 1082.1L1302.5 1087.7L1312.8 1087.7L1312.8 1089.6L1314.7 1089.6L1314.7 1094.3L1316.5 1094.3L1316.5 1099L1318.4 1099L1318.4 1102.7L1320.3 1102.7L1320.3 1106.4L1322.1 1106.4L1322.1 1111.1L1324 1111.1L1324 1115.8L1325.4 1115.8L1325.4 1118.6L1326.8 1118.6L1326.8 1121.4L1328.2 1121.4L1328.2 1124.2L1329.6 1124.2L1329.6 1127L1332.4 1127L1332.4 1129.8L1335.2 1129.8L1335.2 1132.6L1339 1132.6L1339 1135.4L1342.7 1135.4L1342.7 1138.2L1344.6 1138.2L1344.6 1142L1346.4 1142L1346.4 1145.7L1350.2 1145.7L1350.2 1148.5L1353.9 1148.5L1353.9 1151.3L1356.7 1151.3L1356.7 1154.1L1359.5 1154.1L1359.5 1156.9L1362 1156.9L1362 1159.4L1364.5 1159.4L1364.5 1161.9L1367 1161.9L1367 1164.4L1370.8 1164.4L1370.8 1166.8L1374.5 1166.8L1374.5 1169.1L1385.7 1169.1L1385.7 1172.8L1396.9 1172.8L1396.9 1173.8L1398.8 1173.8L1398.8 1181.3L1406.3 1181.3L1406.3 1185L1417.5 1185L1417.5 1188.7L1419.4 1188.7L1419.4 1198.1L1423.1 1198.1L1423.1 1201.8L1439 1201.8L1439 1202.8L1440.6 1202.8L1440.6 1205.3L1442.1 1205.3L1442.1 1207.8L1443.7 1207.8L1443.7 1210.2L1459.6 1210.2L1459.6 1210.8L1463.5 1210.8L1463.5 1212.7L1467.4 1212.7L1467.4 1214.6L1468.4 1214.6L1468.4 1218.8L1497.9 1218.8L1497.9 1218.8L1498.9 1218.8L1498.9 1224L1516.4 1224L1516.4 1224L1517.2 1224L1517.2 1229.3L1547.9 1229.3L1547.9 1229.3L1548.4 1229.3L1548.4 1233.9L1640.3 1233.9L1640.3 1233.9L1640.9 1233.9L1640.9 1238.4L1741.5 1238.4L1741.5 1238.4" fill="none" stroke="#000" stroke-width="2.4" stroke-linejoin="miter"/>
<polyline points="1473,1218.8 1475.8,1218.8 1496.2,1218.8 1498.3,1218.8 1503.6,1224 1541.6,1229.3 1610.4,1233.9 1741.5,1238.4 1218.6,729.3 1218.1,735.7 1221.2,740.8 1222.9,750.7 1223.9,758.4 1230,787.2 1232.6,812.8 1235.8,833.3 1239.1,873.4 1240.1,863.9 1241.8,876 1242.6,886.6 1244.4,894.4 1246,898 1248.6,906.4 1249.4,908.7 1251.6,918.6 1251.9,921.1 1254.7,930.4 1256.2,935 1255.7,937.5 1257.6,941.3 1261.9,951.6 1262.9,956.1 1265.2,957.2 1265.3,961.3 1270.5,974.3 1271.7,978.6 1272.3,982 1275,989.9 1278.3,996.6 1278.2,1001.8 1279.9,1007 1283.2,1012.7 1282.7,1011.7 1281.8,1013.8 1283.7,1025.6 1286.2,1032.1 1288.1,1035.8 1290.3,1041.7 1290.6,1045.5 1293.6,1054.5 1293.9,1059.2 1296.3,1062.2 1297.9,1069 1300.3,1075.2 1302.1,1080.9 1303.2,1082.3 1315.8,1090.6 1317.7,1096.2 1318.3,1099.7 1320.5,1105.3 1322.1,1106.8 1324.5,1113.4 1326.4,1119.1 1328.7,1122.2 1329.9,1124.2 1335.9,1132.4 1338.9,1134.8 1346.1,1143.2 1354.5,1149.6 1367.9,1162.9 1375.6,1167.7 1385.3,1171.7 1400.3,1176.2 1418,1185.9 1419,1190.1 1423.4,1198.3" fill="none" stroke="none" marker-start="url(#pbl)" marker-mid="url(#pbl)" marker-end="url(#pbl)"/>
<path d="M1216.1 728.1L1217.5 728.1L1217.5 733.7L1218.8 733.7L1218.8 739.3L1220.2 739.3L1220.2 744.9L1221.8 744.9L1221.8 751.7L1223.3 751.7L1223.3 758.6L1224.9 758.6L1224.9 765.5L1226.4 765.5L1226.4 774.8L1228 774.8L1228 784.2L1229.6 784.2L1229.6 793.5L1231.4 793.5L1231.4 804.7L1233.3 804.7L1233.3 816L1235.2 816L1235.2 827.2L1237 827.2L1237 838.4L1238.9 838.4L1238.9 848.7L1240.8 848.7L1240.8 859L1242.7 859L1242.7 866.4L1244.5 866.4L1244.5 873.9L1246.1 873.9L1246.1 879.5L1247.6 879.5L1247.6 885.2L1249.2 885.2L1249.2 890.8L1250.8 890.8L1250.8 897L1252.3 897L1252.3 903.2L1253.9 903.2L1253.9 909.5L1255.7 909.5L1255.7 916.9L1257.6 916.9L1257.6 924.4L1259.2 924.4L1259.2 929.4L1260.7 929.4L1260.7 934.4L1262.3 934.4L1262.3 939.4L1262.3 939.4L1262.3 940L1263.8 940L1263.8 943.4L1265.3 943.4L1265.3 946.7L1266.8 946.7L1266.8 950.1L1268.3 950.1L1268.3 953.5L1269.8 953.5L1269.8 956.8L1271.2 956.8L1271.2 960.6L1272.6 960.6L1272.6 964.3L1274 964.3L1274 968.1L1275.4 968.1L1275.4 971.8L1276.8 971.8L1276.8 976L1278.2 976L1278.2 980.2L1279.6 980.2L1279.6 984.4L1281 984.4L1281 988.6L1282.5 988.6L1282.5 991.6L1284 991.6L1284 994.6L1285.5 994.6L1285.5 997.6L1287 997.6L1287 1000.6L1288.5 1000.6L1288.5 1003.6L1289.9 1003.6L1289.9 1006.9L1291.3 1006.9L1291.3 1010.1L1292.7 1010.1L1292.7 1013.4L1294.1 1013.4L1294.1 1016.7L1295.5 1016.7L1295.5 1019.5L1296.9 1019.5L1296.9 1022.3L1298.3 1022.3L1298.3 1025.1L1299.7 1025.1L1299.7 1027.9L1301.1 1027.9L1301.1 1030.7L1302.5 1030.7L1302.5 1033.5L1303.9 1033.5L1303.9 1036.3L1305.3 1036.3L1305.3 1039.1L1306.7 1039.1L1306.7 1042.4L1308.1 1042.4L1308.1 1045.7L1309.5 1045.7L1309.5 1048.9L1310.9 1048.9L1310.9 1052.2L1312.8 1052.2L1312.8 1054.6L1314.7 1054.6L1314.7 1056.9L1316.5 1056.9L1316.5 1059.2L1318.4 1059.2L1318.4 1061.6L1320.3 1061.6L1320.3 1063.9L1322.1 1063.9L1322.1 1066.2L1324 1066.2L1324 1068.6L1325.9 1068.6L1325.9 1070.9L1328.4 1070.9L1328.4 1073.4L1330.9 1073.4L1330.9 1075.9L1333.4 1075.9L1333.4 1078.4L1334.8 1078.4L1334.8 1080.7L1336.2 1080.7L1336.2 1083.1L1337.6 1083.1L1337.6 1085.4L1339 1085.4L1339 1087.7L1341.5 1087.7L1341.5 1090.2L1344 1090.2L1344 1092.7L1346.4 1092.7L1346.4 1095.2L1350.2 1095.2L1350.2 1098L1353.9 1098L1353.9 1100.8L1355.8 1100.8L1355.8 1103.3L1357.7 1103.3L1357.7 1105.8L1359.5 1105.8L1359.5 1108.3L1363.3 1108.3L1363.3 1111.1L1367 1111.1L1367 1113.9L1369.8 1113.9L1369.8 1116.7L1372.6 1116.7L1372.6 1119.5L1382 1119.5L1382 1120.5L1386.7 1120.5L1386.7 1122.8L1391.3 1122.8L1391.3 1125.2L1396.9 1125.2L1396.9 1128.9L1398.8 1128.9L1398.8 1133.1L1400.7 1133.1L1400.7 1137.3L1408.2 1137.3L1408.2 1141L1409.6 1141L1409.6 1144.1L1411 1144.1L1411 1147.1L1412.4 1147.1L1412.4 1150.2L1413.8 1150.2L1413.8 1153.2L1425 1153.2L1425 1154.1L1426.4 1154.1L1426.4 1157.2L1427.8 1157.2L1427.8 1160.2L1429.2 1160.2L1429.2 1163.3L1430.6 1163.3L1430.6 1166.3L1432.1 1166.3L1432.1 1168.7L1433.6 1168.7L1433.6 1171.2L1435.1 1171.2L1435.1 1173.6L1436.6 1173.6L1436.6 1176L1438.1 1176L1438.1 1178.5L1456.8 1178.5L1456.8 1179.4L1459.6 1179.4L1459.6 1183.1L1460 1183.1L1460 1184.7L1500 1184.7L1500 1185.1L1501.6 1185.1L1501.6 1189.9L1503.1 1189.9L1503.1 1194.6L1533.2 1194.6L1533.2 1195L1533.6 1195L1533.6 1203L1541 1203L1541 1203.4L1541.4 1203.4L1541.4 1211.4L1545.2 1211.4L1545.2 1211.4L1546.3 1211.4L1546.3 1217.7L1547.9 1217.7L1547.9 1225.1L1584.6 1225.1L1584.6 1225.1L1585.2 1225.1L1585.2 1230.8L1704.1 1230.8L1704.1 1230.8" fill="none" stroke="#ff0000" stroke-width="2.4" stroke-linejoin="miter"/>
<polyline points="1466.7,1184.7 1491.6,1185.1 1498.9,1188.3 1501,1189.3 1507.3,1195 1516.4,1195 1546.3,1217.7 1610.4,1230.8 1704.1,1230.8 1423.1,1154.1 1426.9,1162.6 1438.1,1178.5 1450.2,1179 1456.8,1181.3 1218.4,734.5 1220.7,741.7 1223.1,749.6 1229.2,775.6 1230.9,789.5 1231.8,797.9 1239.3,845.9 1244,864.5 1244,864.5 1245.6,870.6 1244.3,869.8 1247.3,878.8 1247.6,881.7 1249.1,881.5 1249.2,886.9 1250.9,894.9 1250.7,891.9 1252.2,902.6 1252,901.7 1254.9,904.9 1255.4,910 1256.3,915.4 1258.5,919.6 1257.2,920.6 1260.4,926 1260.5,933.3 1263.5,937.4 1264.8,942 1266.4,945.2 1268,948.6 1270.5,953.7 1271.6,960.5 1273.8,963.6 1273.8,966 1276.6,968.6 1278.1,973.4 1278.7,977.4 1279.4,981 1281.9,985.1 1282.7,990.4 1287.7,1000.3 1288.2,1001.1 1290.1,1006.4 1291.6,1007.1 1292.8,1010.3 1296,1017.8 1296.5,1019.6 1299.5,1025 1303.7,1031.4 1304.1,1036.1 1306.6,1038.3 1306.2,1040 1308.7,1045.4 1310.3,1047.9 1311.7,1051.9 1312.6,1053 1314.6,1055.4 1324.3,1067.9 1327.3,1069.9 1328.5,1072.1 1335.4,1078.6 1342.5,1089.1 1344.8,1090.8 1354,1100.8 1356.5,1101.2 1359.1,1105 1360.2,1107.5 1364.7,1108.4 1366.7,1112.9 1373.2,1118 1392.4,1124.4 1397.1,1125.8 1399.1,1131.4 1400.7,1133.6 1408.6,1139.8 1409.6,1142.4 1411.2,1146.4 1413.6,1151.9" fill="none" stroke="none" marker-start="url(#pre)" marker-mid="url(#pre)" marker-end="url(#pre)"/>
<path d="M1216.1 728.1L1217.6 728.1L1217.6 732.3L1219.1 732.3L1219.1 736.5L1220.6 736.5L1220.6 740.7L1222.1 740.7L1222.1 744.9L1223.5 744.9L1223.5 752.4L1224.9 752.4L1224.9 759.8L1226.3 759.8L1226.3 767.3L1227.7 767.3L1227.7 774.8L1229.6 774.8L1229.6 789.8L1231.4 789.8L1231.4 804.7L1233.1 804.7L1233.1 807.1L1234.7 807.1L1234.7 809.4L1236.3 809.4L1236.3 811.7L1238 811.7L1238 814.1L1239.8 814.1L1239.8 822.5L1241.7 822.5L1241.7 830.9L1243.3 830.9L1243.3 836.5L1244.8 836.5L1244.8 842.1L1246.4 842.1L1246.4 847.7L1248.3 847.7L1248.3 851.5L1250.1 851.5L1250.1 855.2L1251.5 855.2L1251.5 859L1252.9 859L1252.9 862.7L1258.5 862.7L1258.5 866.4L1260.4 866.4L1260.4 875.8L1262.3 875.8L1262.3 885.2L1264.2 885.2L1264.2 892.6L1266 892.6L1266 900.1L1267.7 900.1L1267.7 909.5L1269.4 909.5L1269.4 918.8L1275.4 918.8L1275.4 922.6L1277.3 922.6L1277.3 937.5L1277.3 937.5L1277.3 940L1278.9 940L1278.9 942.3L1280.5 942.3L1280.5 944.7L1282.2 944.7L1282.2 947L1283.8 947L1283.8 949.4L1285.7 949.4L1285.7 955.9L1287.5 955.9L1287.5 962.4L1292.2 962.4L1292.2 966.2L1299.7 966.2L1299.7 967.1L1301.6 967.1L1301.6 979.3L1309 979.3L1309 983L1310.9 983L1310.9 988.6L1312.8 988.6L1312.8 994.2L1318.4 994.2L1318.4 995.2L1320 995.2L1320 1000.5L1321.5 1000.5L1321.5 1005.8L1323.1 1005.8L1323.1 1011.1L1324.6 1011.1L1324.6 1013.2L1326.2 1013.2L1326.2 1015.4L1327.7 1015.4L1327.7 1017.6L1330.2 1017.6L1330.2 1019.8L1332.7 1019.8L1332.7 1022L1335.2 1022L1335.2 1024.2L1360.5 1024.2L1360.5 1025.1L1362.3 1025.1L1362.3 1031.6L1373.6 1031.6L1373.6 1032.6L1375.4 1032.6L1375.4 1047.5L1382 1047.5L1382 1048.5L1383.9 1048.5L1383.9 1052.2L1385.7 1052.2L1385.7 1056L1387.6 1056L1387.6 1070.9L1389 1070.9L1389 1075.1L1390.4 1075.1L1390.4 1079.3L1431.5 1079.3L1431.5 1079.3L1432.5 1079.3L1432.5 1099L1448.4 1099L1448.4 1099.9L1448.7 1099.9L1448.7 1110.6L1460 1110.6L1460 1110.6L1460 1110.6L1460 1110.6L1529.4 1110.6L1529.4 1110.6L1529.4 1110.6L1529.4 1126.2L1574.7 1126.2L1574.7 1126.2L1574.7 1126.2L1574.7 1171.4L1645.6 1171.4L1645.6 1171.4" fill="none" stroke="#0000ff" stroke-width="2.4" stroke-linejoin="miter"/>
<polyline points="1462.1,1110.4 1495.8,1110.4 1525.2,1110.4 1535.7,1126.2 1550.9,1126.2 1565.8,1126.2 1645.6,1171.4 1216.1,728.1 1225.8,770.1 1238.9,818.2 1240.8,827.5 1251.6,859 1262.3,886.1 1269.4,920.3 1275,923.5 1281,948.4 1286.6,962.4 1290.3,966.2 1292.2,966.2 1294.5,966.6 1296.9,966.9 1302.5,982.6 1308.7,982.6 1312.8,993.9 1332.8,1018.5 1335.2,1024.2 1338,1025.1 1341.2,1025.1 1345.5,1025.1 1354.5,1025.1 1362.3,1031.6 1364.2,1032 1373.6,1032.6 1375.4,1047.9 1382.4,1056 1386.7,1070.9 1396.9,1079.3 1399.7,1079.3 1406.9,1079.3 1416,1079.3 1417.9,1079.3 1422.2,1079.3 1431.5,1079.3 1438.1,1099 1462.4,1110.6" fill="none" stroke="none" marker-start="url(#pbu)" marker-mid="url(#pbu)" marker-end="url(#pbu)"/>
<path d="M1528.6 894h29.5M1543.3 887.5v13" stroke="#000" stroke-width="1.6" fill="none"/>
<text x="1570.3" y="903.5" font-size="26.1">AA</text>
<path d="M1528.6 931.3h29.5M1543.3 924.8v13" stroke="#ff0000" stroke-width="1.6" fill="none"/>
<text x="1570.3" y="940.8" font-size="26.1">AC</text>
<path d="M1528.6 968.6h29.5M1543.3 962.1v13" stroke="#0000ff" stroke-width="1.6" fill="none"/>
<text x="1570.3" y="978.1" font-size="26.1">CC</text>
<text x="1134.5" y="1346.2" font-size="26.1" text-anchor="middle">AA</text>
<text x="1215.3" y="1346.2" font-size="26.1" text-anchor="middle">511</text>
<text x="1330.4" y="1346.2" font-size="26.1" text-anchor="middle">85</text>
<text x="1445.5" y="1346.2" font-size="26.1" text-anchor="middle">16</text>
<text x="1560.6" y="1346.2" font-size="26.1" text-anchor="middle">3</text>
<text x="1675.7" y="1346.2" font-size="26.1" text-anchor="middle">1</text>
<text x="1790.8" y="1346.2" font-size="26.1" text-anchor="middle">0</text>
<text x="1134.5" y="1372.2" font-size="26.1" text-anchor="middle">AC</text>
<text x="1215.3" y="1372.2" font-size="26.1" text-anchor="middle">581</text>
<text x="1330.4" y="1372.2" font-size="26.1" text-anchor="middle">109</text>
<text x="1445.5" y="1372.2" font-size="26.1" text-anchor="middle">24</text>
<text x="1560.6" y="1372.2" font-size="26.1" text-anchor="middle">3</text>
<text x="1675.7" y="1372.2" font-size="26.1" text-anchor="middle">1</text>
<text x="1790.8" y="1372.2" font-size="26.1" text-anchor="middle">0</text>
<text x="1134.5" y="1398.2" font-size="26.1" text-anchor="middle">CC</text>
<text x="1215.3" y="1398.2" font-size="26.1" text-anchor="middle">165</text>
<text x="1330.4" y="1398.2" font-size="26.1" text-anchor="middle">51</text>
<text x="1445.5" y="1398.2" font-size="26.1" text-anchor="middle">11</text>
<text x="1560.6" y="1398.2" font-size="26.1" text-anchor="middle">4</text>
<text x="1675.7" y="1398.2" font-size="26.1" text-anchor="middle">0</text>
<text x="1790.8" y="1398.2" font-size="26.1" text-anchor="middle">0</text>
<text x="1404.5" y="736.7" font-size="31.5">HR<tspan font-size="18.3" dy="10.5">combined</tspan><tspan dy="-10.5"> = 0.73 [0.66-0.81]</tspan></text>
<text x="1786.5" y="780.4" font-size="31.5" text-anchor="end"><tspan font-style="italic">P</tspan> = 3.90×10<tspan font-size="18.3" dy="-13">-9</tspan></text>
</g>
<g id="panel-e">
<g stroke="#000" stroke-width="1.5" fill="none">
<path d="M1179.8 1590V2158.7H1817.7"/>
<path d="M1179.8 2133.2h-4M1179.8 2081.5h-4M1179.8 2029.8h-4M1179.8 1978.1h-4M1179.8 1926.4h-4M1179.8 1874.7h-4M1179.8 1823h-4M1179.8 1771.3h-4M1179.8 1719.6h-4M1179.8 1667.9h-4M1179.8 1616.2h-4M1208.6 2158.7v3M1324.6 2158.7v3M1440.7 2158.7v3M1556.8 2158.7v3M1672.8 2158.7v3M1788.8 2158.7v3" stroke-width="1"/>
</g>
<text x="1170" y="2142.5" font-size="24.4" text-anchor="end">0.0</text>
<text x="1170" y="2090.8" font-size="24.4" text-anchor="end">0.1</text>
<text x="1170" y="2039.1" font-size="24.4" text-anchor="end">0.2</text>
<text x="1170" y="1987.4" font-size="24.4" text-anchor="end">0.3</text>
<text x="1170" y="1935.7" font-size="24.4" text-anchor="end">0.4</text>
<text x="1170" y="1884" font-size="24.4" text-anchor="end">0.5</text>
<text x="1170" y="1832.3" font-size="24.4" text-anchor="end">0.6</text>
<text x="1170" y="1780.6" font-size="24.4" text-anchor="end">0.7</text>
<text x="1170" y="1728.9" font-size="24.4" text-anchor="end">0.8</text>
<text x="1170" y="1677.2" font-size="24.4" text-anchor="end">0.9</text>
<text x="1170" y="1625.5" font-size="24.4" text-anchor="end">1.0</text>
<text x="1208.6" y="2184.3" font-size="26.1" text-anchor="middle">0</text>
<text x="1324.6" y="2184.3" font-size="26.1" text-anchor="middle">5</text>
<text x="1440.7" y="2184.3" font-size="26.1" text-anchor="middle">10</text>
<text x="1556.8" y="2184.3" font-size="26.1" text-anchor="middle">15</text>
<text x="1672.8" y="2184.3" font-size="26.1" text-anchor="middle">20</text>
<text x="1788.8" y="2184.3" font-size="26.1" text-anchor="middle">25</text>
<text x="1126.8" y="1874.3" font-size="26.1" text-anchor="middle" transform="rotate(-90 1126.8 1874.3)">Survival probability</text>
<text x="1498.5" y="2212.7" font-size="26.1" text-anchor="middle">Overall survival (years)</text>
<text x="1079.3" y="2204.5" font-size="26.1">N at risk</text>
<path d="M1208.9 1616.9L1210.4 1616.9L1210.4 1628.6L1212 1628.6L1212 1640.3L1213.7 1640.3L1213.7 1649.6L1215.5 1649.6L1215.5 1659L1216.6 1659L1216.6 1668.3L1217.8 1668.3L1217.8 1677.7L1219 1677.7L1219 1688.2L1220.1 1688.2L1220.1 1698.7L1221.3 1698.7L1221.3 1711.6L1222.5 1711.6L1222.5 1724.4L1224.2 1724.4L1224.2 1735L1226 1735L1226 1745.5L1227.9 1745.5L1227.9 1768.8L1229.5 1768.8L1229.5 1796.9L1231.2 1796.9L1231.2 1805.1L1233 1805.1L1233 1813.3L1235.3 1813.3L1235.3 1816.2L1237.7 1816.2L1237.7 1819.1L1239.4 1819.1L1239.4 1827L1241.1 1827L1241.1 1835L1242.9 1835L1242.9 1841.5L1244.8 1841.5L1244.8 1848.1L1246.7 1848.1L1246.7 1853.7L1248.5 1853.7L1248.5 1859.3L1250.4 1859.3L1250.4 1876.1L1252.3 1876.1L1252.3 1879.8L1254.2 1879.8L1254.2 1883.6L1255.6 1883.6L1255.6 1889.2L1257 1889.2L1257 1894.8L1257.9 1894.8L1257.9 1905.1L1262.6 1905.1L1262.6 1906L1264.4 1906L1264.4 1924.7L1266.3 1924.7L1266.3 1939.7L1267.7 1939.7L1267.7 1943.4L1269.1 1943.4L1269.1 1947.2L1270.5 1947.2L1270.5 1952.8L1271.9 1952.8L1271.9 1958.4L1272.9 1958.4L1272.9 1969.6L1274.3 1969.6L1274.3 1972.4L1275.7 1972.4L1275.7 1975.2L1277.5 1975.2L1277.5 1988.3L1278.9 1988.3L1278.9 1992.1L1280.3 1992.1L1280.3 1995.8L1282.2 1995.8L1282.2 2005.2L1284.1 2005.2L1284.1 2009.8L1286 2009.8L1286 2014.5L1287.8 2014.5L1287.8 2019.6L1289.7 2019.6L1289.7 2024.8L1295.3 2024.8L1295.3 2025.7L1297.2 2025.7L1297.2 2042.6L1299 2042.6L1299 2046.3L1300.9 2046.3L1300.9 2050L1307.5 2050L1307.5 2051L1307.5 2051L1307.5 2058.5L1364.5 2058.5L1364.5 2058.5L1365.4 2058.5L1365.4 2068.7L1366.4 2068.7L1366.4 2079.6L1391.6 2079.6L1391.6 2079.6L1392 2079.6L1392 2098.7L1393.5 2098.7L1393.5 2113.6L1407.5 2113.6L1407.5 2114L1408.1 2114L1408.1 2124.3L1429 2124.3L1429 2124.8L1429.4 2124.8L1429.4 2130.8L1451.5 2130.8L1451.5 2131.4" fill="none" stroke="#0000ff" stroke-width="2.4" stroke-linejoin="miter"/>
<polyline points="1214.3,1670.7 1217.8,1694 1222,1722.1 1226.5,1757.9 1245.9,1850.7 1245.7,1849.9 1256,1890.1 1257,1897.1 1262.6,1912.6 1269.1,1946.2 1271.9,1954.3 1274.2,1974.3 1276.6,1984.6 1279,1994.9 1290.6,2024.8 1307.5,2058.5 1326.7,2058.5 1334.6,2058.5 1340.2,2058.5 1357.6,2058.5 1359.8,2058.5 1368.2,2079.6 1369.7,2079.6 1371,2079.6 1375.7,2079.6 1416.5,2124.8 1433.7,2131.4" fill="none" stroke="none" marker-start="url(#pbu)" marker-mid="url(#pbu)" marker-end="url(#pbu)"/>
<path d="M1208.9 1616.9L1210.3 1616.9L1210.3 1621.6L1211.6 1621.6L1211.6 1626.2L1213 1626.2L1213 1630.9L1214.3 1630.9L1214.3 1635.6L1215.9 1635.6L1215.9 1641L1217.4 1641L1217.4 1646.5L1219 1646.5L1219 1652L1220.7 1652L1220.7 1664.8L1222.5 1664.8L1222.5 1677.7L1224 1677.7L1224 1685.5L1225.6 1685.5L1225.6 1693.3L1227.2 1693.3L1227.2 1701.1L1228.7 1701.1L1228.7 1708.8L1230.3 1708.8L1230.3 1716.6L1231.8 1716.6L1231.8 1724.4L1233.6 1724.4L1233.6 1735L1235.3 1735L1235.3 1745.5L1236.9 1745.5L1236.9 1751.7L1238.5 1751.7L1238.5 1757.9L1240 1757.9L1240 1764.2L1241.6 1764.2L1241.6 1771.2L1243.1 1771.2L1243.1 1778.2L1244.7 1778.2L1244.7 1785.2L1246.2 1785.2L1246.2 1791.4L1247.8 1791.4L1247.8 1797.7L1249.4 1797.7L1249.4 1803.9L1250.8 1803.9L1250.8 1808L1252.3 1808L1252.3 1812.1L1253.7 1812.1L1253.7 1816.2L1255.2 1816.2L1255.2 1820.3L1257.9 1820.3L1257.9 1820.3L1259.4 1820.3L1259.4 1823.6L1260.9 1823.6L1260.9 1826.9L1262.4 1826.9L1262.4 1830.2L1263.9 1830.2L1263.9 1833.5L1265.4 1833.5L1265.4 1836.8L1266.8 1836.8L1266.8 1840.6L1268.2 1840.6L1268.2 1844.3L1269.6 1844.3L1269.6 1848.1L1271 1848.1L1271 1851.8L1272.4 1851.8L1272.4 1856L1273.8 1856L1273.8 1860.2L1275.2 1860.2L1275.2 1864.4L1276.6 1864.4L1276.6 1868.6L1278 1868.6L1278 1871.9L1279.4 1871.9L1279.4 1875.2L1280.8 1875.2L1280.8 1878.4L1282.2 1878.4L1282.2 1881.7L1283.7 1881.7L1283.7 1884.3L1285.2 1884.3L1285.2 1887L1286.7 1887L1286.7 1889.6L1288.2 1889.6L1288.2 1892.2L1289.7 1892.2L1289.7 1894.8L1291.1 1894.8L1291.1 1897.1L1292.5 1897.1L1292.5 1899.5L1293.9 1899.5L1293.9 1901.8L1295.3 1901.8L1295.3 1904.2L1296.7 1904.2L1296.7 1906.5L1298.1 1906.5L1298.1 1908.8L1299.5 1908.8L1299.5 1911.2L1300.9 1911.2L1300.9 1913.5L1302.8 1913.5L1302.8 1917.7L1304.7 1917.7L1304.7 1921.9L1308.4 1921.9L1308.4 1924.3L1312.1 1924.3L1312.1 1926.6L1314 1926.6L1314 1929.1L1315.9 1929.1L1315.9 1931.6L1317.7 1931.6L1317.7 1934.1L1319.6 1934.1L1319.6 1937.8L1321.5 1937.8L1321.5 1941.6L1322.9 1941.6L1322.9 1943.9L1324.3 1943.9L1324.3 1946.2L1325.7 1946.2L1325.7 1948.6L1327.1 1948.6L1327.1 1950.9L1329.6 1950.9L1329.6 1953.4L1332.1 1953.4L1332.1 1955.9L1334.6 1955.9L1334.6 1958.4L1336 1958.4L1336 1960.7L1337.4 1960.7L1337.4 1963.1L1338.8 1963.1L1338.8 1965.4L1340.2 1965.4L1340.2 1967.7L1342.7 1967.7L1342.7 1970.2L1345.2 1970.2L1345.2 1972.7L1347.7 1972.7L1347.7 1975.2L1349.1 1975.2L1349.1 1977.6L1350.5 1977.6L1350.5 1979.9L1351.9 1979.9L1351.9 1982.2L1353.3 1982.2L1353.3 1984.6L1355.8 1984.6L1355.8 1987.1L1358.3 1987.1L1358.3 1989.6L1360.8 1989.6L1360.8 1992.1L1368.2 1992.1L1368.2 1995.8L1377.6 1995.8L1377.6 1997.7L1379.5 1997.7L1379.5 2000.9L1381.3 2000.9L1381.3 2004.2L1388.8 2004.2L1388.8 2007L1400 2007L1400 2008.9L1401.9 2008.9L1401.9 2011.4L1403.8 2011.4L1403.8 2013.9L1405.6 2013.9L1405.6 2016.4L1409.4 2016.4L1409.4 2018.7L1413.1 2018.7L1413.1 2021L1416.9 2021L1416.9 2023.4L1420.6 2023.4L1420.6 2025.7L1424.3 2025.7L1424.3 2028.1L1428.1 2028.1L1428.1 2030.4L1439.3 2030.4L1439.3 2031.3L1441.2 2031.3L1441.2 2036.9L1456.1 2036.9L1456.1 2038.8L1458.9 2038.8L1458.9 2042.6L1464.6 2042.6L1464.6 2043.5L1465.5 2043.5L1465.5 2047.2L1493.7 2047.2L1493.7 2047.2L1494.7 2047.2L1494.7 2051.5L1495.8 2051.5L1495.8 2056.7L1497.9 2056.7L1497.9 2062.4L1525.6 2062.4L1525.6 2062.4L1526.3 2062.4L1526.3 2069.4L1537.4 2069.4L1537.4 2069.8L1538.3 2069.8L1538.3 2078.8L1541.6 2078.8L1541.6 2079.3L1542.5 2079.3L1542.5 2087.3L1544.8 2087.3L1544.8 2087.7L1545.2 2087.7L1545.2 2094.6L1581.4 2094.6L1581.4 2094.6L1582 2094.6L1582 2106.2L1637.8 2106.2L1637.8 2106.2L1638.2 2106.2L1638.2 2120.9L1739.4 2120.9L1739.4 2120.9" fill="none" stroke="#000" stroke-width="2.4" stroke-linejoin="miter"/>
<polyline points="1472.2,2046.2 1488,2046.2 1494.7,2051.5 1503.1,2062.4 1513.7,2062.4 1521.4,2062.4 1532.6,2069.4 1547.3,2094.6 1562.7,2094.6 1702,2120.9 1739.4,2120.9 1472.6,2047.2 1487.9,2047.2 1212,1623.6 1213.2,1628.6 1213.8,1632.9 1217.3,1637 1225.8,1689.5 1229.6,1704 1236.7,1743.8 1237.1,1747.6 1238.5,1755.1 1239.7,1755.7 1239.9,1763.2 1242.3,1769.6 1241.6,1768.9 1243.7,1772.9 1243.7,1773 1245.7,1780.4 1245.6,1780 1247,1789 1249.2,1794.5 1248.4,1797.6 1250,1803.8 1249,1802.7 1251.4,1807.2 1253.6,1809.8 1254.5,1813.2 1254.6,1814.2 1256.3,1819.1 1259.4,1820.4 1262.3,1826.9 1263.7,1827.5 1265,1830.7 1265.4,1834.8 1266.4,1837.3 1268,1840.7 1270.7,1846.1 1271.6,1850 1273.6,1852.1 1272.6,1855.7 1273.8,1859.7 1274.9,1860.7 1275.8,1860.4 1277.2,1868.2 1278.7,1871.1 1281.4,1876.8 1283.8,1882.6 1288.1,1887.3 1289.3,1890.8 1292.1,1896.1 1293.6,1899 1293.9,1899.8 1296.4,1904.2 1298.2,1907.6 1300.8,1910.5 1302.4,1916.4 1304.3,1919.7 1317,1930.4 1318.6,1932.6 1319.3,1936.8 1321.6,1939.7 1324,1944.7 1333.3,1954.3 1337.3,1961.2 1345.3,1972.2 1348.6,1976.3 1353.1,1981.3 1354.6,1982.9 1357.2,1985.8 1358.4,1988.4 1362,1991.1 1368.9,1995.5 1380.1,1999.2 1380.9,2002.2 1388.5,2004.7 1399.9,2007.4 1401.7,2008.9 1404,2012.4 1417.9,2021.3 1420.3,2025.5 1424.8,2027.8 1428.4,2030 1441.3,2036.5 1440.9,2036.1" fill="none" stroke="none" marker-start="url(#pbl)" marker-mid="url(#pbl)" marker-end="url(#pbl)"/>
<path d="M1208.9 1616.9L1210.3 1616.9L1210.3 1622.3L1211.7 1622.3L1211.7 1627.8L1213.1 1627.8L1213.1 1633.3L1214.7 1633.3L1214.7 1641.8L1216.2 1641.8L1216.2 1650.4L1217.8 1650.4L1217.8 1659L1219.4 1659L1219.4 1666.8L1220.9 1666.8L1220.9 1674.6L1222.5 1674.6L1222.5 1682.3L1224 1682.3L1224 1689.4L1225.6 1689.4L1225.6 1696.4L1227.2 1696.4L1227.2 1703.4L1228.7 1703.4L1228.7 1711.2L1230.3 1711.2L1230.3 1719L1231.8 1719L1231.8 1726.8L1233.3 1726.8L1233.3 1732.6L1234.8 1732.6L1234.8 1738.5L1236.2 1738.5L1236.2 1744.3L1237.7 1744.3L1237.7 1750.1L1239.1 1750.1L1239.1 1754.8L1240.6 1754.8L1240.6 1759.5L1242.1 1759.5L1242.1 1764.2L1243.5 1764.2L1243.5 1768.8L1245 1768.8L1245 1774.1L1246.4 1774.1L1246.4 1779.4L1247.9 1779.4L1247.9 1784.6L1249.4 1784.6L1249.4 1789.9L1250.9 1789.9L1250.9 1796.1L1252.5 1796.1L1252.5 1802.4L1254 1802.4L1254 1808.6L1254.2 1808.6L1254.2 1820L1255.7 1820L1255.7 1823.4L1257.2 1823.4L1257.2 1826.7L1258.6 1826.7L1258.6 1830.1L1260.1 1830.1L1260.1 1833.5L1261.6 1833.5L1261.6 1836.8L1263 1836.8L1263 1840.6L1264.4 1840.6L1264.4 1844.3L1265.8 1844.3L1265.8 1848.1L1267.3 1848.1L1267.3 1851.8L1268.8 1851.8L1268.8 1856.8L1270.4 1856.8L1270.4 1861.8L1271.9 1861.8L1271.9 1866.8L1273.5 1866.8L1273.5 1871.7L1275 1871.7L1275 1876.7L1276.6 1876.7L1276.6 1881.7L1278 1881.7L1278 1885.9L1279.4 1885.9L1279.4 1890.1L1280.8 1890.1L1280.8 1894.3L1282.2 1894.3L1282.2 1898.5L1283.6 1898.5L1283.6 1902.3L1285 1902.3L1285 1906L1286.4 1906L1286.4 1909.8L1287.8 1909.8L1287.8 1913.5L1289.4 1913.5L1289.4 1917.9L1290.9 1917.9L1290.9 1922.2L1292.5 1922.2L1292.5 1926.6L1293.9 1926.6L1293.9 1929.9L1295.3 1929.9L1295.3 1933.1L1296.7 1933.1L1296.7 1936.4L1298.1 1936.4L1298.1 1939.7L1299.7 1939.7L1299.7 1942.5L1301.4 1942.5L1301.4 1945.3L1303 1945.3L1303 1948.1L1304.7 1948.1L1304.7 1950.9L1306.2 1950.9L1306.2 1955.9L1307.8 1955.9L1307.8 1960.9L1309.3 1960.9L1309.3 1965.9L1311.2 1965.9L1311.2 1972.4L1313.1 1972.4L1313.1 1979L1314.6 1979L1314.6 1981.5L1316.2 1981.5L1316.2 1984L1317.7 1984L1317.7 1986.4L1319.1 1986.4L1319.1 1989.3L1320.6 1989.3L1320.6 1992.1L1322 1992.1L1322 1994.9L1323.4 1994.9L1323.4 1997.7L1325.2 1997.7L1325.2 2000.2L1327.1 2000.2L1327.1 2002.7L1329 2002.7L1329 2005.2L1330.8 2005.2L1330.8 2007.6L1332.7 2007.6L1332.7 2010.1L1334.6 2010.1L1334.6 2012.6L1336 2012.6L1336 2015.2L1337.4 2015.2L1337.4 2017.8L1338.8 2017.8L1338.8 2020.3L1340.2 2020.3L1340.2 2022.9L1355.2 2022.9L1355.2 2023.9L1357 2023.9L1357 2027.1L1358.9 2027.1L1358.9 2030.4L1360.8 2030.4L1360.8 2032.7L1362.6 2032.7L1362.6 2035.1L1368.2 2035.1L1368.2 2036L1369.2 2036L1369.2 2042.6L1377.6 2042.6L1377.6 2044.4L1379.5 2044.4L1379.5 2046.9L1381.3 2046.9L1381.3 2049.4L1383.2 2049.4L1383.2 2051.9L1390.7 2051.9L1390.7 2053.8L1392.6 2053.8L1392.6 2060.3L1394.4 2060.3L1394.4 2066.9L1407.5 2066.9L1407.5 2070.6L1416.9 2070.6L1416.9 2074.3L1418.3 2074.3L1418.3 2076.7L1419.7 2076.7L1419.7 2079L1421.1 2079L1421.1 2081.4L1422.5 2081.4L1422.5 2083.7L1426.2 2083.7L1426.2 2085.6L1428.1 2085.6L1428.1 2094.9L1429.5 2094.9L1429.5 2097.3L1430.9 2097.3L1430.9 2099.6L1432.3 2099.6L1432.3 2101.9L1433.7 2101.9L1433.7 2104.3L1456.1 2104.3L1456.1 2104.8L1456.7 2104.8L1456.7 2107.5L1459.5 2107.5L1459.5 2107.5L1460 2107.5L1460 2107.9L1512.2 2107.9L1512.2 2107.9L1512.6 2107.9L1512.6 2114L1529 2114L1529 2114L1529.4 2114L1529.4 2119.2L1543.5 2119.2L1543.5 2119.2L1544.2 2119.2L1544.2 2124.7L1570.5 2124.7L1570.5 2124.7L1571.1 2124.7L1571.1 2130L1607.3 2130L1607.3 2130" fill="none" stroke="#ff0000" stroke-width="2.4" stroke-linejoin="miter"/>
<polyline points="1468.4,2107.9 1496.8,2107.9 1498.9,2107.9 1512.2,2107.9 1537.8,2119.2 1543.1,2119.2 1561.4,2124.7 1607.3,2130 1444,2104.8 1468.9,2107.5 1402.8,2070.6 1416.9,2074.3 1419.7,2079 1208.9,1616.9 1209.6,1619.7 1210.8,1621.6 1212.5,1625 1214.6,1630.4 1215.4,1633.5 1214.6,1634 1227.6,1701.4 1228.2,1708.1 1238.4,1744.7 1238.8,1754.2 1240.1,1752.6 1240.9,1755.4 1242,1756.5 1242.9,1762.5 1243.6,1764.6 1244.8,1773.1 1246.4,1770.6 1247.3,1778.2 1248.5,1781.6 1249.6,1788.2 1251.3,1792.5 1251.9,1794.1 1252.1,1802.2 1253.8,1802 1253.7,1806 1255,1804.4 1255.2,1819.7 1255,1819 1255.5,1813.9 1255.4,1822.3 1259.1,1826.8 1261.3,1836.1 1263.1,1840.2 1264,1843.8 1265.8,1845 1268.7,1848.6 1269.9,1855.8 1270.7,1860.1 1270.7,1858.9 1271.5,1866.6 1274,1870.2 1274.6,1872 1275.4,1872.7 1278,1878.5 1278.8,1885.9 1280.9,1889.4 1280.4,1892.1 1280.8,1890.8 1282.3,1897.7 1283.1,1900.7 1285.5,1904.3 1287.7,1907.3 1288,1912 1290.7,1915.9 1290.5,1919.2 1292.1,1918.8 1292.1,1924.9 1295.2,1926.8 1295.4,1930.2 1297,1935.2 1298.2,1939.3 1301.1,1939.8 1301.5,1944.5 1304.4,1947.7 1304.9,1948.4 1306.9,1951.1 1307.3,1954.3 1307.7,1956.5 1310.2,1963 1309.1,1963.8 1312.2,1970.7 1314.6,1976.6 1314.2,1974.1 1314.6,1979.1 1317.5,1986.2 1320.4,1986.8 1322.5,1994.5 1324.8,1999.1 1329.7,2004.1 1330.6,2005.7 1335.7,2011.3 1336.7,2014.8 1337.8,2017.6 1339.9,2018.9 1357.1,2025.1 1360.3,2032.3 1370.4,2036.7 1369.9,2040.3 1378.9,2043.7 1379.3,2045.9 1382.6,2047.3 1390.5,2053.2 1393.4,2055.9 1395.3,2066.7 1395.7,2061.5" fill="none" stroke="none" marker-start="url(#pre)" marker-mid="url(#pre)" marker-end="url(#pre)"/>
<path d="M1523.2 1784h29.5M1537.9 1777.5v13" stroke="#000" stroke-width="1.6" fill="none"/>
<text x="1564.9" y="1793.5" font-size="26.1">GG</text>
<path d="M1523.2 1821.3h29.5M1537.9 1814.8v13" stroke="#ff0000" stroke-width="1.6" fill="none"/>
<text x="1564.9" y="1830.8" font-size="26.1">CG</text>
<path d="M1523.2 1858.6h29.5M1537.9 1852.1v13" stroke="#0000ff" stroke-width="1.6" fill="none"/>
<text x="1564.9" y="1868.1" font-size="26.1">CC</text>
<text x="1126.9" y="2239.3" font-size="26.1" text-anchor="middle">GG</text>
<text x="1208.6" y="2239.3" font-size="26.1" text-anchor="middle">544</text>
<text x="1324.6" y="2239.3" font-size="26.1" text-anchor="middle">124</text>
<text x="1440.7" y="2239.3" font-size="26.1" text-anchor="middle">32</text>
<text x="1556.8" y="2239.3" font-size="26.1" text-anchor="middle">5</text>
<text x="1672.8" y="2239.3" font-size="26.1" text-anchor="middle">2</text>
<text x="1788.8" y="2239.3" font-size="26.1" text-anchor="middle">0</text>
<text x="1126.9" y="2265.3" font-size="26.1" text-anchor="middle">CG</text>
<text x="1208.6" y="2265.3" font-size="26.1" text-anchor="middle">561</text>
<text x="1324.6" y="2265.3" font-size="26.1" text-anchor="middle">98</text>
<text x="1440.7" y="2265.3" font-size="26.1" text-anchor="middle">16</text>
<text x="1556.8" y="2265.3" font-size="26.1" text-anchor="middle">4</text>
<text x="1672.8" y="2265.3" font-size="26.1" text-anchor="middle">0</text>
<text x="1788.8" y="2265.3" font-size="26.1" text-anchor="middle">0</text>
<text x="1126.9" y="2291.3" font-size="26.1" text-anchor="middle">CC</text>
<text x="1208.6" y="2291.3" font-size="26.1" text-anchor="middle">132</text>
<text x="1324.6" y="2291.3" font-size="26.1" text-anchor="middle">20</text>
<text x="1440.7" y="2291.3" font-size="26.1" text-anchor="middle">1</text>
<text x="1556.8" y="2291.3" font-size="26.1" text-anchor="middle">0</text>
<text x="1672.8" y="2291.3" font-size="26.1" text-anchor="middle">0</text>
<text x="1788.8" y="2291.3" font-size="26.1" text-anchor="middle">0</text>
<text x="1405" y="1629.7" font-size="31.5">HR<tspan font-size="18.3" dy="10.5">combined</tspan><tspan dy="-10.5"> = 1.36 [1.22-1.51]</tspan></text>
<text x="1787" y="1673.4" font-size="31.5" text-anchor="end"><tspan font-style="italic">P</tspan> = 9.75×10<tspan font-size="18.3" dy="-13">-9</tspan></text>
</g>
</svg></body></html>
